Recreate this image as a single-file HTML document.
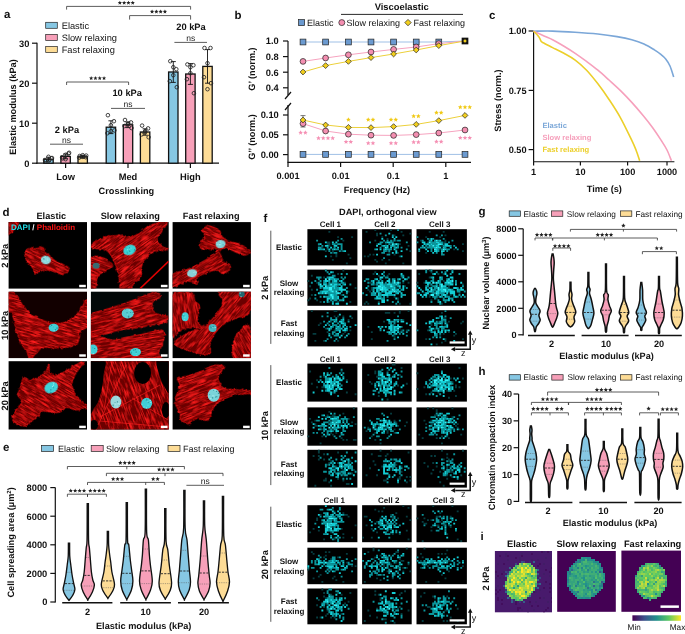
<!DOCTYPE html>
<html><head><meta charset="utf-8"><style>
html,body{margin:0;padding:0;background:#fff;overflow:hidden}
svg{display:block;font-family:"Liberation Sans", sans-serif;will-change:transform;text-rendering:geometricPrecision}
</style></head><body>
<svg width="685" height="634" viewBox="0 0 685 634">
<text x="4" y="17.58" font-size="11.5" font-weight="bold" text-anchor="start" fill="#111">a</text>
<rect x="45.7" y="22.3" width="11.6" height="6" fill="#86c7e3" stroke="#222" stroke-width="0.7"/>
<text x="61.7" y="28.6" font-size="9.3" font-weight="normal" text-anchor="start" fill="#111">Elastic</text>
<rect x="45.7" y="34.4" width="11.6" height="6" fill="#f7a0b9" stroke="#222" stroke-width="0.7"/>
<text x="61.7" y="40.7" font-size="9.3" font-weight="normal" text-anchor="start" fill="#111">Slow relaxing</text>
<rect x="45.7" y="46.5" width="11.6" height="6" fill="#fddc96" stroke="#222" stroke-width="0.7"/>
<text x="61.7" y="52.8" font-size="9.3" font-weight="normal" text-anchor="start" fill="#111">Fast relaxing</text>
<line x1="37" y1="42.7" x2="37" y2="163.8" stroke="#111" stroke-width="1.2"/>
<line x1="32" y1="163.2" x2="37" y2="163.2" stroke="#111" stroke-width="1.2"/>
<text x="29.4" y="166.5" font-size="9.3" font-weight="bold" text-anchor="end" fill="#111">0</text>
<line x1="32" y1="123.2" x2="37" y2="123.2" stroke="#111" stroke-width="1.2"/>
<text x="29.4" y="126.5" font-size="9.3" font-weight="bold" text-anchor="end" fill="#111">10</text>
<line x1="32" y1="83.2" x2="37" y2="83.2" stroke="#111" stroke-width="1.2"/>
<text x="29.4" y="86.5" font-size="9.3" font-weight="bold" text-anchor="end" fill="#111">20</text>
<line x1="32" y1="43.2" x2="37" y2="43.2" stroke="#111" stroke-width="1.2"/>
<text x="29.4" y="46.5" font-size="9.3" font-weight="bold" text-anchor="end" fill="#111">30</text>
<line x1="36.4" y1="163.2" x2="219" y2="163.2" stroke="#111" stroke-width="1.2"/>
<line x1="65.6" y1="163.2" x2="65.6" y2="168" stroke="#111" stroke-width="1.2"/>
<text x="65.6" y="179.9" font-size="9.3" font-weight="bold" text-anchor="middle" fill="#111">Low</text>
<line x1="128" y1="163.2" x2="128" y2="168" stroke="#111" stroke-width="1.2"/>
<text x="128" y="179.9" font-size="9.3" font-weight="bold" text-anchor="middle" fill="#111">Med</text>
<line x1="190.4" y1="163.2" x2="190.4" y2="168" stroke="#111" stroke-width="1.2"/>
<text x="190.4" y="179.9" font-size="9.3" font-weight="bold" text-anchor="middle" fill="#111">High</text>
<text x="126.4" y="194.27" font-size="9.2" font-weight="bold" text-anchor="middle" fill="#111">Crosslinking</text>
<text x="12.4" y="110.27" font-size="9.2" font-weight="bold" text-anchor="middle" fill="#111" transform="rotate(-90 12.4 107)">Elastic modulus (kPa)</text>
<rect x="43.8" y="159.2" width="9.4" height="4" fill="#86c7e3" stroke="#111" stroke-width="1.3"/>
<line x1="48.5" y1="157.2" x2="48.5" y2="161.2" stroke="#111" stroke-width="0.9"/>
<line x1="46" y1="157.2" x2="51" y2="157.2" stroke="#111" stroke-width="0.9"/>
<line x1="46" y1="161.2" x2="51" y2="161.2" stroke="#111" stroke-width="0.9"/>
<circle cx="45.5" cy="161.2" r="1.8" fill="none" stroke="#222" stroke-width="0.85"/>
<circle cx="51.5" cy="158.4" r="1.8" fill="none" stroke="#222" stroke-width="0.85"/>
<circle cx="48.5" cy="156.8" r="1.8" fill="none" stroke="#222" stroke-width="0.85"/>
<circle cx="45" cy="160" r="1.8" fill="none" stroke="#222" stroke-width="0.85"/>
<circle cx="52" cy="158" r="1.8" fill="none" stroke="#222" stroke-width="0.85"/>
<circle cx="48.5" cy="160.8" r="1.8" fill="none" stroke="#222" stroke-width="0.85"/>
<rect x="60.9" y="156.4" width="9.4" height="6.8" fill="#f7a0b9" stroke="#111" stroke-width="1.3"/>
<line x1="65.6" y1="154" x2="65.6" y2="158.8" stroke="#111" stroke-width="0.9"/>
<line x1="63.1" y1="154" x2="68.1" y2="154" stroke="#111" stroke-width="0.9"/>
<line x1="63.1" y1="158.8" x2="68.1" y2="158.8" stroke="#111" stroke-width="0.9"/>
<circle cx="62.6" cy="158.4" r="1.8" fill="none" stroke="#222" stroke-width="0.85"/>
<circle cx="68.6" cy="153.6" r="1.8" fill="none" stroke="#222" stroke-width="0.85"/>
<circle cx="65.6" cy="154.8" r="1.8" fill="none" stroke="#222" stroke-width="0.85"/>
<circle cx="62.1" cy="157.2" r="1.8" fill="none" stroke="#222" stroke-width="0.85"/>
<circle cx="69.1" cy="152.8" r="1.8" fill="none" stroke="#222" stroke-width="0.85"/>
<circle cx="65.6" cy="159.2" r="1.8" fill="none" stroke="#222" stroke-width="0.85"/>
<rect x="78" y="156.8" width="9.4" height="6.4" fill="#fddc96" stroke="#111" stroke-width="1.3"/>
<line x1="82.7" y1="155.6" x2="82.7" y2="158" stroke="#111" stroke-width="0.9"/>
<line x1="80.2" y1="155.6" x2="85.2" y2="155.6" stroke="#111" stroke-width="0.9"/>
<line x1="80.2" y1="158" x2="85.2" y2="158" stroke="#111" stroke-width="0.9"/>
<circle cx="79.7" cy="156" r="1.8" fill="none" stroke="#222" stroke-width="0.85"/>
<circle cx="85.7" cy="157.2" r="1.8" fill="none" stroke="#222" stroke-width="0.85"/>
<circle cx="82.7" cy="155.2" r="1.8" fill="none" stroke="#222" stroke-width="0.85"/>
<circle cx="79.2" cy="157.6" r="1.8" fill="none" stroke="#222" stroke-width="0.85"/>
<circle cx="86.2" cy="155.6" r="1.8" fill="none" stroke="#222" stroke-width="0.85"/>
<circle cx="82.7" cy="156.8" r="1.8" fill="none" stroke="#222" stroke-width="0.85"/>
<rect x="106.2" y="127.2" width="9.4" height="36" fill="#86c7e3" stroke="#111" stroke-width="1.3"/>
<line x1="110.9" y1="120.8" x2="110.9" y2="133.6" stroke="#111" stroke-width="0.9"/>
<line x1="108.4" y1="120.8" x2="113.4" y2="120.8" stroke="#111" stroke-width="0.9"/>
<line x1="108.4" y1="133.6" x2="113.4" y2="133.6" stroke="#111" stroke-width="0.9"/>
<circle cx="107.9" cy="115.2" r="1.8" fill="none" stroke="#222" stroke-width="0.85"/>
<circle cx="113.9" cy="121.2" r="1.8" fill="none" stroke="#222" stroke-width="0.85"/>
<circle cx="110.9" cy="125.2" r="1.8" fill="none" stroke="#222" stroke-width="0.85"/>
<circle cx="107.4" cy="133.2" r="1.8" fill="none" stroke="#222" stroke-width="0.85"/>
<circle cx="114.4" cy="130.4" r="1.8" fill="none" stroke="#222" stroke-width="0.85"/>
<circle cx="110.9" cy="131.2" r="1.8" fill="none" stroke="#222" stroke-width="0.85"/>
<rect x="123.3" y="124.8" width="9.4" height="38.4" fill="#f7a0b9" stroke="#111" stroke-width="1.3"/>
<line x1="128" y1="122" x2="128" y2="127.6" stroke="#111" stroke-width="0.9"/>
<line x1="125.5" y1="122" x2="130.5" y2="122" stroke="#111" stroke-width="0.9"/>
<line x1="125.5" y1="127.6" x2="130.5" y2="127.6" stroke="#111" stroke-width="0.9"/>
<circle cx="125" cy="120" r="1.8" fill="none" stroke="#222" stroke-width="0.85"/>
<circle cx="131" cy="122.4" r="1.8" fill="none" stroke="#222" stroke-width="0.85"/>
<circle cx="128" cy="123.6" r="1.8" fill="none" stroke="#222" stroke-width="0.85"/>
<circle cx="124.5" cy="126" r="1.8" fill="none" stroke="#222" stroke-width="0.85"/>
<circle cx="131.5" cy="128" r="1.8" fill="none" stroke="#222" stroke-width="0.85"/>
<circle cx="128" cy="124.4" r="1.8" fill="none" stroke="#222" stroke-width="0.85"/>
<rect x="140.4" y="132" width="9.4" height="31.2" fill="#fddc96" stroke="#111" stroke-width="1.3"/>
<line x1="145.1" y1="128.8" x2="145.1" y2="135.2" stroke="#111" stroke-width="0.9"/>
<line x1="142.6" y1="128.8" x2="147.6" y2="128.8" stroke="#111" stroke-width="0.9"/>
<line x1="142.6" y1="135.2" x2="147.6" y2="135.2" stroke="#111" stroke-width="0.9"/>
<circle cx="142.1" cy="125.6" r="1.8" fill="none" stroke="#222" stroke-width="0.85"/>
<circle cx="148.1" cy="128.4" r="1.8" fill="none" stroke="#222" stroke-width="0.85"/>
<circle cx="145.1" cy="131.2" r="1.8" fill="none" stroke="#222" stroke-width="0.85"/>
<circle cx="141.6" cy="134.4" r="1.8" fill="none" stroke="#222" stroke-width="0.85"/>
<circle cx="148.6" cy="137.2" r="1.8" fill="none" stroke="#222" stroke-width="0.85"/>
<circle cx="145.1" cy="132.4" r="1.8" fill="none" stroke="#222" stroke-width="0.85"/>
<rect x="168.6" y="72" width="9.4" height="91.2" fill="#86c7e3" stroke="#111" stroke-width="1.3"/>
<line x1="173.3" y1="61.6" x2="173.3" y2="82.4" stroke="#111" stroke-width="0.9"/>
<line x1="170.8" y1="61.6" x2="175.8" y2="61.6" stroke="#111" stroke-width="0.9"/>
<line x1="170.8" y1="82.4" x2="175.8" y2="82.4" stroke="#111" stroke-width="0.9"/>
<circle cx="170.3" cy="61.2" r="1.8" fill="none" stroke="#222" stroke-width="0.85"/>
<circle cx="176.3" cy="69.2" r="1.8" fill="none" stroke="#222" stroke-width="0.85"/>
<circle cx="173.3" cy="75.2" r="1.8" fill="none" stroke="#222" stroke-width="0.85"/>
<circle cx="169.8" cy="81.2" r="1.8" fill="none" stroke="#222" stroke-width="0.85"/>
<circle cx="176.8" cy="87.2" r="1.8" fill="none" stroke="#222" stroke-width="0.85"/>
<circle cx="173.3" cy="67.2" r="1.8" fill="none" stroke="#222" stroke-width="0.85"/>
<rect x="185.7" y="74" width="9.4" height="89.2" fill="#f7a0b9" stroke="#111" stroke-width="1.3"/>
<line x1="190.4" y1="63.6" x2="190.4" y2="84.4" stroke="#111" stroke-width="0.9"/>
<line x1="187.9" y1="63.6" x2="192.9" y2="63.6" stroke="#111" stroke-width="0.9"/>
<line x1="187.9" y1="84.4" x2="192.9" y2="84.4" stroke="#111" stroke-width="0.9"/>
<circle cx="187.4" cy="64.4" r="1.8" fill="none" stroke="#222" stroke-width="0.85"/>
<circle cx="193.4" cy="65.2" r="1.8" fill="none" stroke="#222" stroke-width="0.85"/>
<circle cx="190.4" cy="73.2" r="1.8" fill="none" stroke="#222" stroke-width="0.85"/>
<circle cx="186.9" cy="79.2" r="1.8" fill="none" stroke="#222" stroke-width="0.85"/>
<circle cx="193.9" cy="93.2" r="1.8" fill="none" stroke="#222" stroke-width="0.85"/>
<circle cx="190.4" cy="67.2" r="1.8" fill="none" stroke="#222" stroke-width="0.85"/>
<rect x="202.8" y="66.4" width="9.4" height="96.8" fill="#fddc96" stroke="#111" stroke-width="1.3"/>
<line x1="207.5" y1="49.6" x2="207.5" y2="83.2" stroke="#111" stroke-width="0.9"/>
<line x1="205" y1="49.6" x2="210" y2="49.6" stroke="#111" stroke-width="0.9"/>
<line x1="205" y1="83.2" x2="210" y2="83.2" stroke="#111" stroke-width="0.9"/>
<circle cx="204.5" cy="48" r="1.8" fill="none" stroke="#222" stroke-width="0.85"/>
<circle cx="210.5" cy="48" r="1.8" fill="none" stroke="#222" stroke-width="0.85"/>
<circle cx="207.5" cy="63.2" r="1.8" fill="none" stroke="#222" stroke-width="0.85"/>
<circle cx="204" cy="77.2" r="1.8" fill="none" stroke="#222" stroke-width="0.85"/>
<circle cx="211" cy="83.2" r="1.8" fill="none" stroke="#222" stroke-width="0.85"/>
<circle cx="207.5" cy="89.2" r="1.8" fill="none" stroke="#222" stroke-width="0.85"/>
<text x="67" y="132.7" font-size="9.3" font-weight="bold" text-anchor="middle" fill="#111">2 kPa</text>
<text x="127.2" y="95.7" font-size="9.3" font-weight="bold" text-anchor="middle" fill="#111">10 kPa</text>
<text x="191" y="30.3" font-size="9.3" font-weight="bold" text-anchor="middle" fill="#111">20 kPa</text>
<line x1="50" y1="144.2" x2="83" y2="144.2" stroke="#333" stroke-width="0.8"/>
<text x="66.5" y="143.22" font-size="8.5" font-weight="normal" text-anchor="middle" fill="#222">ns</text>
<line x1="111" y1="108.4" x2="145" y2="108.4" stroke="#333" stroke-width="0.8"/>
<text x="128" y="107.42" font-size="8.5" font-weight="normal" text-anchor="middle" fill="#222">ns</text>
<line x1="174.4" y1="42.4" x2="207" y2="42.4" stroke="#333" stroke-width="0.8"/>
<text x="190.7" y="41.42" font-size="8.5" font-weight="normal" text-anchor="middle" fill="#222">ns</text>
<path d="M66.6 9.6V6.4H190.6V9.6" fill="none" stroke="#333" stroke-width="0.8"/>
<path d="M119.86 0.63L120.45 2.04L121.98 2.16L120.81 3.16L121.17 4.65L119.86 3.85L118.56 4.65L118.91 3.16L117.75 2.16L119.28 2.04ZM124.15 0.63L124.74 2.04L126.27 2.16L125.11 3.16L125.46 4.65L124.15 3.85L122.85 4.65L123.2 3.16L122.04 2.16L123.57 2.04ZM128.45 0.63L129.03 2.04L130.56 2.16L129.4 3.16L129.75 4.65L128.45 3.85L127.14 4.65L127.49 3.16L126.33 2.16L127.86 2.04ZM132.74 0.63L133.32 2.04L134.85 2.16L133.69 3.16L134.04 4.65L132.74 3.85L131.43 4.65L131.79 3.16L130.62 2.16L132.15 2.04Z" fill="#222"/>
<path d="M129.6 19.6V15.6H190.6V19.6" fill="none" stroke="#333" stroke-width="0.8"/>
<path d="M152.06 9.43L152.65 10.84L154.18 10.96L153.01 11.96L153.37 13.45L152.06 12.65L150.76 13.45L151.11 11.96L149.95 10.96L151.48 10.84ZM156.35 9.43L156.94 10.84L158.47 10.96L157.31 11.96L157.66 13.45L156.35 12.65L155.05 13.45L155.4 11.96L154.24 10.96L155.77 10.84ZM160.65 9.43L161.23 10.84L162.76 10.96L161.6 11.96L161.95 13.45L160.65 12.65L159.34 13.45L159.69 11.96L158.53 10.96L160.06 10.84ZM164.94 9.43L165.52 10.84L167.05 10.96L165.89 11.96L166.24 13.45L164.94 12.65L163.63 13.45L163.99 11.96L162.82 10.96L164.35 10.84Z" fill="#222"/>
<path d="M66.6 85V82H128.6V85" fill="none" stroke="#333" stroke-width="0.8"/>
<path d="M91.16 76.03L91.75 77.44L93.28 77.56L92.11 78.56L92.47 80.05L91.16 79.25L89.86 80.05L90.21 78.56L89.05 77.56L90.58 77.44ZM95.45 76.03L96.04 77.44L97.57 77.56L96.41 78.56L96.76 80.05L95.45 79.25L94.15 80.05L94.5 78.56L93.34 77.56L94.87 77.44ZM99.75 76.03L100.33 77.44L101.86 77.56L100.7 78.56L101.05 80.05L99.75 79.25L98.44 80.05L98.79 78.56L97.63 77.56L99.16 77.44ZM104.04 76.03L104.62 77.44L106.15 77.56L104.99 78.56L105.34 80.05L104.04 79.25L102.73 80.05L103.09 78.56L101.92 77.56L103.45 77.44Z" fill="#222"/>
<text x="234.4" y="19.18" font-size="11.5" font-weight="bold" text-anchor="start" fill="#111">b</text>
<text x="401.7" y="9.84" font-size="9.4" font-weight="bold" text-anchor="middle" fill="#111">Viscoelastic</text>
<line x1="341" y1="14.4" x2="463" y2="14.4" stroke="#111" stroke-width="0.9"/>
<rect x="298.6" y="19.6" width="6" height="6" fill="#6b9ad0" stroke="#222" stroke-width="0.7"/>
<text x="307" y="25.8" font-size="9" font-weight="normal" text-anchor="start" fill="#111">Elastic</text>
<circle cx="341.8" cy="22.6" r="3" fill="#f48fb1" stroke="#222" stroke-width="0.7"/>
<text x="346.6" y="25.8" font-size="9" font-weight="normal" text-anchor="start" fill="#111">Slow relaxing</text>
<path d="M408 19.4L411.2 22.6L408 25.8L404.8 22.6Z" fill="#f2cf1d" stroke="#222" stroke-width="0.7"/>
<text x="413.6" y="25.8" font-size="9" font-weight="normal" text-anchor="start" fill="#111">Fast relaxing</text>
<line x1="288" y1="41" x2="288" y2="95" stroke="#111" stroke-width="1.2"/>
<line x1="283" y1="41" x2="288" y2="41" stroke="#111" stroke-width="1.2"/>
<text x="278.8" y="44.3" font-size="9.3" font-weight="bold" text-anchor="end" fill="#111">1.0</text>
<line x1="283" y1="56.6" x2="288" y2="56.6" stroke="#111" stroke-width="1.2"/>
<text x="278.8" y="59.9" font-size="9.3" font-weight="bold" text-anchor="end" fill="#111">0.8</text>
<line x1="283" y1="72.2" x2="288" y2="72.2" stroke="#111" stroke-width="1.2"/>
<text x="278.8" y="75.5" font-size="9.3" font-weight="bold" text-anchor="end" fill="#111">0.6</text>
<line x1="283" y1="87.8" x2="288" y2="87.8" stroke="#111" stroke-width="1.2"/>
<text x="278.8" y="91.1" font-size="9.3" font-weight="bold" text-anchor="end" fill="#111">0.4</text>
<line x1="285" y1="99" x2="291" y2="92" stroke="#111" stroke-width="1.2"/>
<line x1="285" y1="110" x2="291" y2="103" stroke="#111" stroke-width="1.2"/>
<line x1="288" y1="105" x2="288" y2="162.4" stroke="#111" stroke-width="1.2"/>
<line x1="283" y1="115" x2="288" y2="115" stroke="#111" stroke-width="1.2"/>
<text x="278.8" y="118.3" font-size="9.3" font-weight="bold" text-anchor="end" fill="#111">0.10</text>
<line x1="283" y1="134.8" x2="288" y2="134.8" stroke="#111" stroke-width="1.2"/>
<text x="278.8" y="138.1" font-size="9.3" font-weight="bold" text-anchor="end" fill="#111">0.05</text>
<line x1="283" y1="154.6" x2="288" y2="154.6" stroke="#111" stroke-width="1.2"/>
<text x="278.8" y="157.9" font-size="9.3" font-weight="bold" text-anchor="end" fill="#111">0.00</text>
<line x1="287.4" y1="162.4" x2="471" y2="162.4" stroke="#111" stroke-width="1.2"/>
<line x1="288" y1="162.4" x2="288" y2="167" stroke="#111" stroke-width="1.2"/>
<text x="288" y="179.27" font-size="9.2" font-weight="bold" text-anchor="middle" fill="#111">0.001</text>
<line x1="340.6" y1="162.4" x2="340.6" y2="167" stroke="#111" stroke-width="1.2"/>
<text x="340.6" y="179.27" font-size="9.2" font-weight="bold" text-anchor="middle" fill="#111">0.01</text>
<line x1="393.2" y1="162.4" x2="393.2" y2="167" stroke="#111" stroke-width="1.2"/>
<text x="393.2" y="179.27" font-size="9.2" font-weight="bold" text-anchor="middle" fill="#111">0.1</text>
<line x1="445.8" y1="162.4" x2="445.8" y2="167" stroke="#111" stroke-width="1.2"/>
<text x="445.8" y="179.27" font-size="9.2" font-weight="bold" text-anchor="middle" fill="#111">1</text>
<text x="377" y="193.27" font-size="9.2" font-weight="bold" text-anchor="middle" fill="#111">Frequency (Hz)</text>
<text x="252" y="72.27" font-size="9.2" font-weight="bold" text-anchor="middle" fill="#111" transform="rotate(-90 252 69)">G&#8217; (norm.)</text>
<text x="252" y="140.27" font-size="9.2" font-weight="bold" text-anchor="middle" fill="#111" transform="rotate(-90 252 137)">G&#8217;&#8217; (norm.)</text>
<path d="M303 42 L325.6 42 L348.4 42 L371 42 L393.6 42 L416.2 42 L438.8 42 L465 41" fill="none" stroke="#9fc0e6" stroke-width="1"/>
<path d="M303 61.4 L325.6 58 L348.4 54.8 L371 52 L393.6 49.4 L416.2 47 L438.8 43.6 L465 41" fill="none" stroke="#f6a3bf" stroke-width="1"/>
<path d="M303 72 L325.6 65.6 L348.4 61.4 L371 57.6 L393.6 54 L416.2 50 L438.8 45.6 L465 41" fill="none" stroke="#ecd03a" stroke-width="1"/>
<path d="M303 154.4 L325.6 154.4 L348.4 154.4 L371 154.4 L393.6 154.4 L416.2 154.4 L438.8 154.4 L465 154.4" fill="none" stroke="#9fc0e6" stroke-width="1"/>
<path d="M303 123.6 L325.6 131 L348.4 134.2 L371 135.2 L393.6 135.4 L416.2 134.6 L438.8 133 L465 130" fill="none" stroke="#f6a3bf" stroke-width="1"/>
<path d="M303 120 L325.6 125 L348.4 127.4 L371 127.6 L393.6 126.6 L416.2 124.4 L438.8 120.6 L465 115.4" fill="none" stroke="#ecd03a" stroke-width="1"/>
<line x1="303" y1="115.6" x2="303" y2="127" stroke="#555" stroke-width="0.8"/>
<line x1="300.5" y1="115.6" x2="305.5" y2="115.6" stroke="#555" stroke-width="0.8"/>
<line x1="300.5" y1="127" x2="305.5" y2="127" stroke="#555" stroke-width="0.8"/>
<rect x="300.1" y="39.1" width="5.8" height="5.8" fill="#6b9ad0" stroke="#222" stroke-width="0.7"/>
<circle cx="303" cy="61.4" r="2.9" fill="#f48fb1" stroke="#222" stroke-width="0.7"/>
<path d="M303 69.1L305.9 72L303 74.9L300.1 72Z" fill="#f2cf1d" stroke="#222" stroke-width="0.7"/>
<rect x="300.1" y="151.5" width="5.8" height="5.8" fill="#6b9ad0" stroke="#222" stroke-width="0.7"/>
<circle cx="303" cy="123.6" r="2.9" fill="#f48fb1" stroke="#222" stroke-width="0.7"/>
<path d="M303 117.1L305.9 120L303 122.9L300.1 120Z" fill="#f2cf1d" stroke="#222" stroke-width="0.7"/>
<rect x="322.7" y="39.1" width="5.8" height="5.8" fill="#6b9ad0" stroke="#222" stroke-width="0.7"/>
<circle cx="325.6" cy="58" r="2.9" fill="#f48fb1" stroke="#222" stroke-width="0.7"/>
<path d="M325.6 62.7L328.5 65.6L325.6 68.5L322.7 65.6Z" fill="#f2cf1d" stroke="#222" stroke-width="0.7"/>
<rect x="322.7" y="151.5" width="5.8" height="5.8" fill="#6b9ad0" stroke="#222" stroke-width="0.7"/>
<circle cx="325.6" cy="131" r="2.9" fill="#f48fb1" stroke="#222" stroke-width="0.7"/>
<path d="M325.6 122.1L328.5 125L325.6 127.9L322.7 125Z" fill="#f2cf1d" stroke="#222" stroke-width="0.7"/>
<rect x="345.5" y="39.1" width="5.8" height="5.8" fill="#6b9ad0" stroke="#222" stroke-width="0.7"/>
<circle cx="348.4" cy="54.8" r="2.9" fill="#f48fb1" stroke="#222" stroke-width="0.7"/>
<path d="M348.4 58.5L351.3 61.4L348.4 64.3L345.5 61.4Z" fill="#f2cf1d" stroke="#222" stroke-width="0.7"/>
<rect x="345.5" y="151.5" width="5.8" height="5.8" fill="#6b9ad0" stroke="#222" stroke-width="0.7"/>
<circle cx="348.4" cy="134.2" r="2.9" fill="#f48fb1" stroke="#222" stroke-width="0.7"/>
<path d="M348.4 124.5L351.3 127.4L348.4 130.3L345.5 127.4Z" fill="#f2cf1d" stroke="#222" stroke-width="0.7"/>
<rect x="368.1" y="39.1" width="5.8" height="5.8" fill="#6b9ad0" stroke="#222" stroke-width="0.7"/>
<circle cx="371" cy="52" r="2.9" fill="#f48fb1" stroke="#222" stroke-width="0.7"/>
<path d="M371 54.7L373.9 57.6L371 60.5L368.1 57.6Z" fill="#f2cf1d" stroke="#222" stroke-width="0.7"/>
<rect x="368.1" y="151.5" width="5.8" height="5.8" fill="#6b9ad0" stroke="#222" stroke-width="0.7"/>
<circle cx="371" cy="135.2" r="2.9" fill="#f48fb1" stroke="#222" stroke-width="0.7"/>
<path d="M371 124.7L373.9 127.6L371 130.5L368.1 127.6Z" fill="#f2cf1d" stroke="#222" stroke-width="0.7"/>
<rect x="390.7" y="39.1" width="5.8" height="5.8" fill="#6b9ad0" stroke="#222" stroke-width="0.7"/>
<circle cx="393.6" cy="49.4" r="2.9" fill="#f48fb1" stroke="#222" stroke-width="0.7"/>
<path d="M393.6 51.1L396.5 54L393.6 56.9L390.7 54Z" fill="#f2cf1d" stroke="#222" stroke-width="0.7"/>
<rect x="390.7" y="151.5" width="5.8" height="5.8" fill="#6b9ad0" stroke="#222" stroke-width="0.7"/>
<circle cx="393.6" cy="135.4" r="2.9" fill="#f48fb1" stroke="#222" stroke-width="0.7"/>
<path d="M393.6 123.7L396.5 126.6L393.6 129.5L390.7 126.6Z" fill="#f2cf1d" stroke="#222" stroke-width="0.7"/>
<rect x="413.3" y="39.1" width="5.8" height="5.8" fill="#6b9ad0" stroke="#222" stroke-width="0.7"/>
<circle cx="416.2" cy="47" r="2.9" fill="#f48fb1" stroke="#222" stroke-width="0.7"/>
<path d="M416.2 47.1L419.1 50L416.2 52.9L413.3 50Z" fill="#f2cf1d" stroke="#222" stroke-width="0.7"/>
<rect x="413.3" y="151.5" width="5.8" height="5.8" fill="#6b9ad0" stroke="#222" stroke-width="0.7"/>
<circle cx="416.2" cy="134.6" r="2.9" fill="#f48fb1" stroke="#222" stroke-width="0.7"/>
<path d="M416.2 121.5L419.1 124.4L416.2 127.3L413.3 124.4Z" fill="#f2cf1d" stroke="#222" stroke-width="0.7"/>
<rect x="435.9" y="39.1" width="5.8" height="5.8" fill="#6b9ad0" stroke="#222" stroke-width="0.7"/>
<circle cx="438.8" cy="43.6" r="2.9" fill="#f48fb1" stroke="#222" stroke-width="0.7"/>
<path d="M438.8 42.7L441.7 45.6L438.8 48.5L435.9 45.6Z" fill="#f2cf1d" stroke="#222" stroke-width="0.7"/>
<rect x="435.9" y="151.5" width="5.8" height="5.8" fill="#6b9ad0" stroke="#222" stroke-width="0.7"/>
<circle cx="438.8" cy="133" r="2.9" fill="#f48fb1" stroke="#222" stroke-width="0.7"/>
<path d="M438.8 117.7L441.7 120.6L438.8 123.5L435.9 120.6Z" fill="#f2cf1d" stroke="#222" stroke-width="0.7"/>
<rect x="462" y="38" width="6" height="6" fill="#111" stroke="#111" stroke-width="0.7"/>
<path d="M465 38.8L467.2 41L465 43.2L462.8 41Z" fill="#f2cf1d" stroke="#222" stroke-width="0.7"/>
<rect x="462.1" y="151.5" width="5.8" height="5.8" fill="#6b9ad0" stroke="#222" stroke-width="0.7"/>
<circle cx="465" cy="130" r="2.9" fill="#f48fb1" stroke="#222" stroke-width="0.7"/>
<path d="M465 112.5L467.9 115.4L465 118.3L462.1 115.4Z" fill="#f2cf1d" stroke="#222" stroke-width="0.7"/>
<path d="M348.4 117.2L349.05 118.76L350.73 118.89L349.45 119.99L349.84 121.63L348.4 120.75L346.96 121.63L347.35 119.99L346.07 118.89L347.75 118.76Z" fill="#f0c915"/>
<path d="M368.23 117.2L368.88 118.76L370.57 118.89L369.28 119.99L369.67 121.63L368.23 120.75L366.79 121.63L367.18 119.99L365.9 118.89L367.58 118.76ZM372.97 117.2L373.62 118.76L375.3 118.89L374.02 119.99L374.41 121.63L372.97 120.75L371.53 121.63L371.92 119.99L370.63 118.89L372.32 118.76Z" fill="#f0c915"/>
<path d="M391.03 117.2L391.68 118.76L393.37 118.89L392.08 119.99L392.47 121.63L391.03 120.75L389.59 121.63L389.98 119.99L388.7 118.89L390.38 118.76ZM395.77 117.2L396.42 118.76L398.1 118.89L396.82 119.99L397.21 121.63L395.77 120.75L394.33 121.63L394.72 119.99L393.43 118.89L395.12 118.76Z" fill="#f0c915"/>
<path d="M413.63 113.8L414.28 115.36L415.97 115.49L414.68 116.59L415.07 118.23L413.63 117.35L412.19 118.23L412.58 116.59L411.3 115.49L412.98 115.36ZM418.37 113.8L419.02 115.36L420.7 115.49L419.42 116.59L419.81 118.23L418.37 117.35L416.93 118.23L417.32 116.59L416.03 115.49L417.72 115.36Z" fill="#f0c915"/>
<path d="M436.43 110.2L437.08 111.76L438.77 111.89L437.48 112.99L437.87 114.63L436.43 113.75L434.99 114.63L435.38 112.99L434.1 111.89L435.78 111.76ZM441.17 110.2L441.82 111.76L443.5 111.89L442.22 112.99L442.61 114.63L441.17 113.75L439.73 114.63L440.12 112.99L438.83 111.89L440.52 111.76Z" fill="#f0c915"/>
<path d="M460.27 104.8L460.91 106.36L462.6 106.49L461.32 107.59L461.71 109.23L460.27 108.35L458.82 109.23L459.22 107.59L457.93 106.49L459.62 106.36ZM465 104.8L465.65 106.36L467.33 106.49L466.05 107.59L466.44 109.23L465 108.35L463.56 109.23L463.95 107.59L462.67 106.49L464.35 106.36ZM469.73 104.8L470.38 106.36L472.07 106.49L470.78 107.59L471.18 109.23L469.73 108.35L468.29 109.23L468.68 107.59L467.4 106.49L469.09 106.36Z" fill="#f0c915"/>
<path d="M300.63 130.2L301.28 131.76L302.97 131.89L301.68 132.99L302.07 134.63L300.63 133.75L299.19 134.63L299.58 132.99L298.3 131.89L299.98 131.76ZM305.37 130.2L306.02 131.76L307.7 131.89L306.42 132.99L306.81 134.63L305.37 133.75L303.93 134.63L304.32 132.99L303.03 131.89L304.72 131.76Z" fill="#f590b4"/>
<path d="M318.5 135.8L319.15 137.36L320.83 137.49L319.55 138.59L319.94 140.23L318.5 139.35L317.06 140.23L317.45 138.59L316.16 137.49L317.85 137.36ZM323.23 135.8L323.88 137.36L325.57 137.49L324.28 138.59L324.67 140.23L323.23 139.35L321.79 140.23L322.18 138.59L320.9 137.49L322.58 137.36ZM327.97 135.8L328.62 137.36L330.3 137.49L329.02 138.59L329.41 140.23L327.97 139.35L326.53 140.23L326.92 138.59L325.63 137.49L327.32 137.36ZM332.7 135.8L333.35 137.36L335.04 137.49L333.75 138.59L334.14 140.23L332.7 139.35L331.26 140.23L331.65 138.59L330.37 137.49L332.05 137.36Z" fill="#f590b4"/>
<path d="M346.03 139.4L346.68 140.96L348.37 141.09L347.08 142.19L347.47 143.83L346.03 142.95L344.59 143.83L344.98 142.19L343.7 141.09L345.38 140.96ZM350.77 139.4L351.42 140.96L353.1 141.09L351.82 142.19L352.21 143.83L350.77 142.95L349.33 143.83L349.72 142.19L348.43 141.09L350.12 140.96Z" fill="#f590b4"/>
<path d="M368.23 140.8L368.88 142.36L370.57 142.49L369.28 143.59L369.67 145.23L368.23 144.35L366.79 145.23L367.18 143.59L365.9 142.49L367.58 142.36ZM372.97 140.8L373.62 142.36L375.3 142.49L374.02 143.59L374.41 145.23L372.97 144.35L371.53 145.23L371.92 143.59L370.63 142.49L372.32 142.36Z" fill="#f590b4"/>
<path d="M391.03 140.8L391.68 142.36L393.37 142.49L392.08 143.59L392.47 145.23L391.03 144.35L389.59 145.23L389.98 143.59L388.7 142.49L390.38 142.36ZM395.77 140.8L396.42 142.36L398.1 142.49L396.82 143.59L397.21 145.23L395.77 144.35L394.33 145.23L394.72 143.59L393.43 142.49L395.12 142.36Z" fill="#f590b4"/>
<path d="M413.63 139.8L414.28 141.36L415.97 141.49L414.68 142.59L415.07 144.23L413.63 143.35L412.19 144.23L412.58 142.59L411.3 141.49L412.98 141.36ZM418.37 139.8L419.02 141.36L420.7 141.49L419.42 142.59L419.81 144.23L418.37 143.35L416.93 144.23L417.32 142.59L416.03 141.49L417.72 141.36Z" fill="#f590b4"/>
<path d="M436.43 139.2L437.08 140.76L438.77 140.89L437.48 141.99L437.87 143.63L436.43 142.75L434.99 143.63L435.38 141.99L434.1 140.89L435.78 140.76ZM441.17 139.2L441.82 140.76L443.5 140.89L442.22 141.99L442.61 143.63L441.17 142.75L439.73 143.63L440.12 141.99L438.83 140.89L440.52 140.76Z" fill="#f590b4"/>
<path d="M460.27 135.4L460.91 136.96L462.6 137.09L461.32 138.19L461.71 139.83L460.27 138.95L458.82 139.83L459.22 138.19L457.93 137.09L459.62 136.96ZM465 135.4L465.65 136.96L467.33 137.09L466.05 138.19L466.44 139.83L465 138.95L463.56 139.83L463.95 138.19L462.67 137.09L464.35 136.96ZM469.73 135.4L470.38 136.96L472.07 137.09L470.78 138.19L471.18 139.83L469.73 138.95L468.29 139.83L468.68 138.19L467.4 137.09L469.09 136.96Z" fill="#f590b4"/>
<text x="489" y="19.38" font-size="11.5" font-weight="bold" text-anchor="start" fill="#111">c</text>
<line x1="533.6" y1="31" x2="533.6" y2="161.75" stroke="#111" stroke-width="1.2"/>
<line x1="528.6" y1="31" x2="533.6" y2="31" stroke="#111" stroke-width="1.2"/>
<text x="526.6" y="34.27" font-size="9.2" font-weight="bold" text-anchor="end" fill="#111">1.00</text>
<line x1="528.6" y1="90.4" x2="533.6" y2="90.4" stroke="#111" stroke-width="1.2"/>
<text x="526.6" y="93.67" font-size="9.2" font-weight="bold" text-anchor="end" fill="#111">0.75</text>
<line x1="528.6" y1="149.6" x2="533.6" y2="149.6" stroke="#111" stroke-width="1.2"/>
<text x="526.6" y="152.87" font-size="9.2" font-weight="bold" text-anchor="end" fill="#111">0.50</text>
<line x1="533" y1="161.75" x2="674.4" y2="161.75" stroke="#111" stroke-width="1.2"/>
<line x1="533.6" y1="161.75" x2="533.6" y2="165.5" stroke="#111" stroke-width="1.2"/>
<text x="533.6" y="175.27" font-size="9.2" font-weight="bold" text-anchor="middle" fill="#111">1</text>
<line x1="580.4" y1="161.75" x2="580.4" y2="165.5" stroke="#111" stroke-width="1.2"/>
<text x="580.4" y="175.27" font-size="9.2" font-weight="bold" text-anchor="middle" fill="#111">10</text>
<line x1="627.6" y1="161.75" x2="627.6" y2="165.5" stroke="#111" stroke-width="1.2"/>
<text x="627.6" y="175.27" font-size="9.2" font-weight="bold" text-anchor="middle" fill="#111">100</text>
<line x1="667" y1="161.75" x2="667" y2="165.5" stroke="#111" stroke-width="1.2"/>
<text x="667" y="175.27" font-size="9.2" font-weight="bold" text-anchor="middle" fill="#111">1000</text>
<text x="604.4" y="191.77" font-size="9.2" font-weight="bold" text-anchor="middle" fill="#111">Time (s)</text>
<text x="497.7" y="103.77" font-size="9.2" font-weight="bold" text-anchor="middle" fill="#111" transform="rotate(-90 497.7 100.5)">Stress (norm.)</text>
<text x="542.4" y="127.7" font-size="7.6" font-weight="bold" text-anchor="start" fill="#7ba7d8">Elastic</text>
<text x="542.4" y="140.1" font-size="7.6" font-weight="bold" text-anchor="start" fill="#f6a0bc">Slow relaxing</text>
<text x="542.4" y="152.1" font-size="7.6" font-weight="bold" text-anchor="start" fill="#eccf2a">Fast relaxing</text>
<path d="M533.6 31.2C536.77 31.18 545.7 30.93 552.6 31.1C559.5 31.27 567.45 31.72 575 32.2C582.55 32.68 590.9 33.27 597.9 34C604.9 34.73 611.35 35.65 617 36.6C622.65 37.55 627.3 38.47 631.8 39.7C636.3 40.93 640.23 42.3 644 44C647.77 45.7 651.65 48.2 654.4 49.9C657.15 51.6 658.62 52.7 660.5 54.2C662.38 55.7 664.12 56.93 665.7 58.9C667.28 60.87 668.67 62.98 670 66C671.33 69.02 673.08 75.17 673.7 77" fill="none" stroke="#7ba7d8" stroke-width="1.6"/>
<path d="M533.6 31.2C535.43 32.03 541.43 34.78 544.6 36.2C547.77 37.62 549.37 38.03 552.6 39.7C555.83 41.37 560.23 43.93 564 46.2C567.77 48.47 571.45 50.77 575.2 53.3C578.95 55.83 582.72 58.58 586.5 61.4C590.28 64.22 594.15 67.1 597.9 70.2C601.65 73.3 605.23 76.6 609 80C612.77 83.4 616.67 86.83 620.5 90.6C624.33 94.37 628.23 98.45 632 102.6C635.77 106.75 639.68 111.35 643.1 115.5C646.52 119.65 649.48 123.35 652.5 127.5C655.52 131.65 658.78 136.65 661.2 140.4C663.62 144.15 665.3 146.62 667 150C668.7 153.38 670.67 158.92 671.4 160.7" fill="none" stroke="#f6a0bc" stroke-width="1.6"/>
<path d="M533.6 31.2C534.47 32.12 537.52 34.98 538.8 36.7C540.08 38.42 540.35 40.37 541.3 41.5C542.25 42.63 542.62 42.48 544.5 43.5C546.38 44.52 549.37 45.97 552.6 47.6C555.83 49.23 560.13 51.22 563.9 53.3C567.67 55.38 571.42 57.28 575.2 60.1C578.98 62.92 582.82 66.25 586.6 70.2C590.38 74.15 594.13 78.88 597.9 83.8C601.67 88.72 605.43 94.03 609.2 99.7C612.97 105.37 616.73 111.02 620.5 117.8C624.27 124.58 629.22 135.03 631.8 140.4C634.38 145.77 634.68 146.62 636 150C637.32 153.38 639.08 158.92 639.7 160.7" fill="none" stroke="#eccf2a" stroke-width="1.6"/>
<text x="2.4" y="215.98" font-size="11.5" font-weight="bold" text-anchor="start" fill="#111">d</text>
<text x="51.3" y="218.67" font-size="9.2" font-weight="bold" text-anchor="middle" fill="#111">Elastic</text>
<text x="130.3" y="218.67" font-size="9.2" font-weight="bold" text-anchor="middle" fill="#111">Slow relaxing</text>
<text x="211.2" y="218.67" font-size="9.2" font-weight="bold" text-anchor="middle" fill="#111">Fast relaxing</text>
<text x="4.6" y="259.12" font-size="9.2" font-weight="bold" text-anchor="middle" fill="#111" transform="rotate(-90 4.6 255.85)">2 kPa</text>
<text x="4.6" y="328.67" font-size="9.2" font-weight="bold" text-anchor="middle" fill="#111" transform="rotate(-90 4.6 325.4)">10 kPa</text>
<text x="4.6" y="399.12" font-size="9.2" font-weight="bold" text-anchor="middle" fill="#111" transform="rotate(-90 4.6 395.85)">20 kPa</text>
<defs><filter id="bl" x="-20%" y="-20%" width="140%" height="140%"><feGaussianBlur stdDeviation="0.6"/></filter><filter id="bl2"><feGaussianBlur stdDeviation="1.2"/></filter><filter id="tx" x="-10%" y="-10%" width="120%" height="120%"><feTurbulence type="fractalNoise" baseFrequency="0.3" numOctaves="2" seed="9" result="dn"/><feDisplacementMap in="SourceGraphic" in2="dn" scale="3.2" xChannelSelector="R" yChannelSelector="G" result="sg"/><feTurbulence type="fractalNoise" baseFrequency="0.09 0.7" numOctaves="2" seed="4" result="n"/><feColorMatrix in="n" type="matrix" values="0 0 0 0 0  0 0 0 0 0  0 0 0 0 0  3.0 0 0 0 -1.4" result="na"/><feFlood flood-color="#ff1c1c" result="f"/><feComposite in="f" in2="na" operator="in" result="hn"/><feComposite in="hn" in2="sg" operator="in" result="hc"/><feMerge result="m"><feMergeNode in="sg"/><feMergeNode in="hc"/></feMerge><feGaussianBlur in="m" stdDeviation="0.5"/></filter></defs>
<clipPath id="dc00"><rect x="8.6" y="222.1" width="78.4" height="66.5"/></clipPath>
<rect x="8.6" y="222.1" width="78.4" height="66.5" fill="#000" stroke="none" stroke-width="1"/>
<clipPath id="dc01"><rect x="90.9" y="222.1" width="77.8" height="66.5"/></clipPath>
<rect x="90.9" y="222.1" width="77.8" height="66.5" fill="#000" stroke="none" stroke-width="1"/>
<clipPath id="dc02"><rect x="172.6" y="222.1" width="78.3" height="66.5"/></clipPath>
<rect x="172.6" y="222.1" width="78.3" height="66.5" fill="#000" stroke="none" stroke-width="1"/>
<clipPath id="dc10"><rect x="8.6" y="291.7" width="78.4" height="66.4"/></clipPath>
<rect x="8.6" y="291.7" width="78.4" height="66.4" fill="#120000" stroke="none" stroke-width="1"/>
<clipPath id="dc11"><rect x="90.9" y="291.7" width="77.8" height="66.4"/></clipPath>
<rect x="90.9" y="291.7" width="77.8" height="66.4" fill="#020808" stroke="none" stroke-width="1"/>
<clipPath id="dc12"><rect x="172.6" y="291.7" width="78.3" height="66.4"/></clipPath>
<rect x="172.6" y="291.7" width="78.3" height="66.4" fill="#000" stroke="none" stroke-width="1"/>
<clipPath id="dc20"><rect x="8.6" y="361.2" width="78.4" height="68.3"/></clipPath>
<rect x="8.6" y="361.2" width="78.4" height="68.3" fill="#000" stroke="none" stroke-width="1"/>
<clipPath id="dc21"><rect x="90.9" y="361.2" width="77.8" height="68.3"/></clipPath>
<rect x="90.9" y="361.2" width="77.8" height="68.3" fill="#000" stroke="none" stroke-width="1"/>
<clipPath id="dc22"><rect x="172.6" y="361.2" width="78.3" height="68.3"/></clipPath>
<rect x="172.6" y="361.2" width="78.3" height="68.3" fill="#000" stroke="none" stroke-width="1"/>
<g clip-path="url(#dc00)">
<g transform="rotate(25 45.39 263.11)"><clipPath id="cc1"><path d="M22.76 263.06C22.43 261.38 22.29 258.63 23.46 257.22C24.62 255.81 27.68 255.8 29.74 254.62C31.81 253.44 33.88 250.39 35.82 250.13C37.76 249.87 39.36 252.17 41.37 253.06C43.39 253.94 45.51 254.71 47.89 255.43C50.26 256.14 53.22 257.08 55.62 257.34C58.02 257.6 60.21 256.93 62.29 256.98C64.38 257.04 66.95 256.87 68.14 257.68C69.32 258.49 69.69 260.45 69.41 261.83C69.13 263.21 67.81 265.11 66.48 265.96C65.14 266.8 63.35 266.66 61.4 266.89C59.44 267.12 57.04 266.85 54.76 267.34C52.49 267.83 49.73 268.69 47.76 269.83C45.79 270.97 44.22 273.01 42.95 274.17C41.67 275.34 41.21 276.99 40.1 276.82C38.99 276.66 37.85 274.29 36.31 273.18C34.76 272.08 32.65 271.19 30.84 270.22C29.02 269.24 26.76 268.53 25.42 267.34C24.07 266.15 23.09 264.75 22.76 263.06Z"/></clipPath><path d="M22.76 263.06C22.43 261.38 22.29 258.63 23.46 257.22C24.62 255.81 27.68 255.8 29.74 254.62C31.81 253.44 33.88 250.39 35.82 250.13C37.76 249.87 39.36 252.17 41.37 253.06C43.39 253.94 45.51 254.71 47.89 255.43C50.26 256.14 53.22 257.08 55.62 257.34C58.02 257.6 60.21 256.93 62.29 256.98C64.38 257.04 66.95 256.87 68.14 257.68C69.32 258.49 69.69 260.45 69.41 261.83C69.13 263.21 67.81 265.11 66.48 265.96C65.14 266.8 63.35 266.66 61.4 266.89C59.44 267.12 57.04 266.85 54.76 267.34C52.49 267.83 49.73 268.69 47.76 269.83C45.79 270.97 44.22 273.01 42.95 274.17C41.67 275.34 41.21 276.99 40.1 276.82C38.99 276.66 37.85 274.29 36.31 273.18C34.76 272.08 32.65 271.19 30.84 270.22C29.02 269.24 26.76 268.53 25.42 267.34C24.07 266.15 23.09 264.75 22.76 263.06Z" fill="#6c0000" stroke="#e81010" stroke-width="0.8" filter="url(#tx)"/><path d="M26.68 251.39L61.75 251.57M20.97 253.23L58.01 251.3M36.68 254.52L63.89 253.65M30.98 256.67L69 256.56M29.13 258.52L59.55 259.87M32.89 260.43L61.95 258.91M34.6 261.78L63.85 260.14M32.18 263.76L56.68 264.87M27.87 265.25L56.44 266.28M22.93 267.47L67.94 265.3M30.78 269.82L66.59 269.54M26.37 271.48L62.05 270.99M31.67 273.26L56.55 274.46M31.5 275.44L68.8 277.64M35.23 277.63L62.31 279.14" stroke="#ff2222" stroke-width="0.45" opacity="0.45" fill="none" clip-path="url(#cc1)"/></g>
<g transform="rotate(45 12 228)"><clipPath id="cc2"><path d="M3.51 226.59C3.28 223.52 10.23 218.69 12 218.1C13.77 217.51 13.65 221.16 14.12 223.05C14.59 224.94 14.83 227.53 14.83 229.41C14.83 231.3 14.36 233.19 14.12 234.36C13.89 235.54 15.18 237.78 13.41 236.49C11.65 235.19 3.75 229.65 3.51 226.59Z"/></clipPath><path d="M3.51 226.59C3.28 223.52 10.23 218.69 12 218.1C13.77 217.51 13.65 221.16 14.12 223.05C14.59 224.94 14.83 227.53 14.83 229.41C14.83 231.3 14.36 233.19 14.12 234.36C13.89 235.54 15.18 237.78 13.41 236.49C11.65 235.19 3.75 229.65 3.51 226.59Z" fill="#6c0000" stroke="#e81010" stroke-width="0.8" filter="url(#tx)"/><path d="M6 220.07L13.73 219.8M6.12 221.4L11.49 221.12M3.73 222.43L16.02 222.87M6.22 223.77L16.59 224.11M5.39 225.59L15.04 225.07M4.24 227.82L11.44 228.23M4.75 229.18L16.66 228.58M4.81 230.38L15.99 230.25M3.21 231.34L11.66 231.71M4 233.58L14.02 233.44M4.53 235.45L13.48 235.55M3.84 237.76L12.94 237.77" stroke="#ff2222" stroke-width="0.45" opacity="0.45" fill="none" clip-path="url(#cc2)"/></g>
<clipPath id="nu1"><ellipse cx="45.9" cy="260" rx="5" ry="4.2" transform="rotate(10 45.9 260)"/></clipPath>
<ellipse cx="45.9" cy="260" rx="5" ry="4.2" fill="#8cd6dc" transform="rotate(10 45.9 260)" filter="url(#bl)"/>
<g clip-path="url(#nu1)" opacity="0.7"><path d="M41.1 260.97h1.08v1.08h-1.08zM47.17 259.72h1.11v1.11h-1.11zM47.97 262h0.71v0.71h-0.71zM47.66 263.89h0.85v0.85h-0.85zM46.83 258.49h0.92v0.92h-0.92zM44.59 260.8h0.88v0.88h-0.88zM44 257.67h1.18v1.18h-1.18z" fill="#b8f4f6"/><path d="M43.28 258.33h1.29v1.29h-1.29zM46.38 255.9h0.95v0.95h-0.95zM48.62 256.03h1.04v1.04h-1.04z" fill="#1b7c84"/></g>
</g>
<g clip-path="url(#dc01)">
<g transform="rotate(-35 132.65 251.17)"><clipPath id="cc3"><path d="M102.47 222.88C103.57 222.38 104.76 221.73 107.63 221.97C110.49 222.2 115.68 222.76 119.67 224.3C123.66 225.83 128.19 228.8 131.58 231.17C134.97 233.54 137.04 236.97 139.99 238.52C142.93 240.07 146.08 240.28 149.23 240.48C152.39 240.68 155.61 239.39 158.93 239.7C162.26 240.01 166.06 241.03 169.17 242.35C172.27 243.67 177.6 246.14 177.56 247.62C177.52 249.1 171.99 249.74 168.93 251.22C165.88 252.71 160.78 254.32 159.24 256.52C157.7 258.72 159.02 262.16 159.7 264.41C160.38 266.66 163.77 269.41 163.35 270.01C162.92 270.62 159.61 269.21 157.18 268.01C154.74 266.82 151.57 263.44 148.72 262.83C145.87 262.22 143.16 263.22 140.09 264.35C137.02 265.48 132.77 267.53 130.31 269.59C127.85 271.65 127.59 275.28 125.32 276.72C123.05 278.16 119.56 277.75 116.69 278.24C113.82 278.73 110.71 280.26 108.11 279.68C105.51 279.1 101.37 277.2 101.07 274.75C100.77 272.3 104.82 268.22 106.31 264.99C107.8 261.76 109.06 258.51 110 255.37C110.94 252.22 111.66 249.43 111.96 246.12C112.26 242.81 112.9 238.29 111.81 235.52C110.72 232.74 107.23 231.23 105.43 229.46C103.64 227.7 101.53 226.02 101.04 224.92C100.55 223.83 101.38 223.37 102.47 222.88Z"/></clipPath><path d="M102.47 222.88C103.57 222.38 104.76 221.73 107.63 221.97C110.49 222.2 115.68 222.76 119.67 224.3C123.66 225.83 128.19 228.8 131.58 231.17C134.97 233.54 137.04 236.97 139.99 238.52C142.93 240.07 146.08 240.28 149.23 240.48C152.39 240.68 155.61 239.39 158.93 239.7C162.26 240.01 166.06 241.03 169.17 242.35C172.27 243.67 177.6 246.14 177.56 247.62C177.52 249.1 171.99 249.74 168.93 251.22C165.88 252.71 160.78 254.32 159.24 256.52C157.7 258.72 159.02 262.16 159.7 264.41C160.38 266.66 163.77 269.41 163.35 270.01C162.92 270.62 159.61 269.21 157.18 268.01C154.74 266.82 151.57 263.44 148.72 262.83C145.87 262.22 143.16 263.22 140.09 264.35C137.02 265.48 132.77 267.53 130.31 269.59C127.85 271.65 127.59 275.28 125.32 276.72C123.05 278.16 119.56 277.75 116.69 278.24C113.82 278.73 110.71 280.26 108.11 279.68C105.51 279.1 101.37 277.2 101.07 274.75C100.77 272.3 104.82 268.22 106.31 264.99C107.8 261.76 109.06 258.51 110 255.37C110.94 252.22 111.66 249.43 111.96 246.12C112.26 242.81 112.9 238.29 111.81 235.52C110.72 232.74 107.23 231.23 105.43 229.46C103.64 227.7 101.53 226.02 101.04 224.92C100.55 223.83 101.38 223.37 102.47 222.88Z" fill="#6c0000" stroke="#e81010" stroke-width="0.8" filter="url(#tx)"/><path d="M116.46 223.15L177.02 222.68M119.84 224.53L168.62 223.56M107.44 226.71L163.33 224.5M104.66 228.94L176.54 228.52M119.17 230.64L158.64 229.17M119.19 231.81L163.54 230.63M102.28 233.92L172.28 232.62M107.68 236.01L169.16 234.32M122.02 237.54L175.67 236.96M121 238.45L154.93 240.25M122.18 240L174.02 242.8M115.59 242.02L166.61 244.08M104.72 243.35L177.86 241.96M119.26 245.13L178.44 243.62M122.1 247.39L157.19 248.21M99.37 249.64L160.96 250.21M115.58 250.8L166.46 249.58M114.32 252.32L171.04 255.31M110.95 253.6L160.04 255.73M112.38 255.02L159.18 253.32M122.04 256.18L159.45 257.49M114.73 258.32L158.04 255.76M105.74 259.29L166.4 257.63M118.42 260.83L179.52 260.63M102.15 261.81L177.85 258.42M101.19 264.17L167.03 266.97M107.81 265.54L163.42 264.31M103.81 267.32L171.36 266.2M116.91 268.41L170.07 268.76M108.36 269.43L164.48 267.26M119.03 271.5L164.02 270.86M111.42 273.05L162.02 272.28M110.54 274.58L173.45 276.05M100.83 276.29L168.96 277.88M122.41 277.82L170.22 280M105.58 280.07L167.98 282.25" stroke="#ff2222" stroke-width="0.45" opacity="0.45" fill="none" clip-path="url(#cc3)"/></g>
<g transform="rotate(20 99.37 272.03)"><clipPath id="cc4"><path d="M86.11 262.99C86.4 257.51 93.87 257.7 97.79 257.36C101.71 257.01 108.33 259.19 109.62 260.93C110.91 262.66 107.2 265.14 105.5 267.74C103.81 270.35 100.18 273.1 99.45 276.55C98.72 279.99 101.67 286.11 101.1 288.4C100.53 290.68 98.53 294.48 96.03 290.24C93.53 286.01 85.82 268.47 86.11 262.99Z"/></clipPath><path d="M86.11 262.99C86.4 257.51 93.87 257.7 97.79 257.36C101.71 257.01 108.33 259.19 109.62 260.93C110.91 262.66 107.2 265.14 105.5 267.74C103.81 270.35 100.18 273.1 99.45 276.55C98.72 279.99 101.67 286.11 101.1 288.4C100.53 290.68 98.53 294.48 96.03 290.24C93.53 286.01 85.82 268.47 86.11 262.99Z" fill="#6c0000" stroke="#e81010" stroke-width="0.8" filter="url(#tx)"/><path d="M90.11 258.44L103.59 258.95M90.75 260.53L106.52 260.85M84.15 261.59L110.32 261.86M84.94 263.65L110.72 262.24M84.32 265.87L104 265.11M90.21 266.95L104.05 267.52M91.34 269.28L111.29 269.47M90.58 271.33L110.65 271.36M84.66 273.35L108.68 274.61M86.3 275.1L109.99 276.03M90.93 276.37L108.06 276.61M87.28 277.82L107.83 277.57M92.92 278.85L107.88 278.85M90.36 280.87L104.78 280.28M88.49 282.78L105.8 282.82M84.98 285.03L104.85 284.19M88.12 287.3L105.11 287.34M85.91 288.48L106.32 287.91M90.37 289.85L102.99 289.45M87.85 291.2L103.89 291.59" stroke="#ff2222" stroke-width="0.45" opacity="0.45" fill="none" clip-path="url(#cc4)"/></g>
<line x1="168.6" y1="261.4" x2="140.1" y2="288.5" stroke="#e00000" stroke-width="1.6"/>
<clipPath id="nu2"><ellipse cx="129.6" cy="250" rx="6.5" ry="5" transform="rotate(-25 129.6 250)"/></clipPath>
<ellipse cx="129.6" cy="250" rx="6.5" ry="5" fill="#38d2d6" transform="rotate(-25 129.6 250)" filter="url(#bl)"/>
<g clip-path="url(#nu2)" opacity="0.7"><path d="M130.7 247.67h0.83v0.83h-0.83zM129.33 248.83h0.8v0.8h-0.8zM131.88 254.59h1.21v1.21h-1.21zM127.17 249.23h1.14v1.14h-1.14zM124.3 253.34h0.88v0.88h-0.88zM130.64 251.76h0.7v0.7h-0.7zM135.52 248.91h1.03v1.03h-1.03z" fill="#b8f4f6"/><path d="M127.29 252.74h0.79v0.79h-0.79zM129.33 250.99h0.98v0.98h-0.98zM133.78 250.57h0.99v0.99h-0.99zM134.24 249h1.14v1.14h-1.14zM129.18 247.3h0.84v0.84h-0.84zM125.57 247.59h0.81v0.81h-0.81zM134.26 254h0.85v0.85h-0.85zM128.77 249.86h0.83v0.83h-0.83zM126.67 251.65h0.77v0.77h-0.77z" fill="#1b7c84"/></g>
<clipPath id="nu3"><ellipse cx="96.1" cy="265.8" rx="3.5" ry="3" transform="rotate(0 96.1 265.8)"/></clipPath>
<ellipse cx="96.1" cy="265.8" rx="3.5" ry="3" fill="#3a6a70" transform="rotate(0 96.1 265.8)" filter="url(#bl)"/>
<g clip-path="url(#nu3)" opacity="0.7"><path d="M98.96 263.38h1.26v1.26h-1.26zM99.33 266.84h1.02v1.02h-1.02z" fill="#b8f4f6"/><path d="M98.01 267.34h0.88v0.88h-0.88zM97.18 267.64h0.86v0.86h-0.86zM96.06 264.91h1.13v1.13h-1.13z" fill="#1b7c84"/></g>
</g>
<g clip-path="url(#dc02)">
<g transform="rotate(20 220.05 242.2)"><clipPath id="cc5"><path d="M199.33 237.18C199.13 235.4 201.13 232.61 202.47 231.47C203.81 230.32 205.19 230.35 207.37 230.32C209.56 230.29 213.48 230.28 215.59 231.27C217.71 232.25 217.86 235.05 220.06 236.24C222.27 237.42 225.67 238.19 228.82 238.37C231.97 238.55 235.12 236.98 238.98 237.33C242.83 237.69 250.54 239.03 251.94 240.49C253.34 241.95 249.9 245.17 247.38 246.09C244.86 247.01 240.14 246.1 236.81 246C233.47 245.9 229.77 244.84 227.37 245.5C224.97 246.16 223.69 249.28 222.4 249.97C221.1 250.65 221.04 249.31 219.6 249.6C218.17 249.89 216.37 250.99 213.78 251.72C211.19 252.45 206.16 254.32 204.06 253.98C201.97 253.64 201.29 251.66 201.23 249.69C201.17 247.73 204.03 244.27 203.71 242.19C203.4 240.1 199.54 238.97 199.33 237.18Z"/></clipPath><path d="M199.33 237.18C199.13 235.4 201.13 232.61 202.47 231.47C203.81 230.32 205.19 230.35 207.37 230.32C209.56 230.29 213.48 230.28 215.59 231.27C217.71 232.25 217.86 235.05 220.06 236.24C222.27 237.42 225.67 238.19 228.82 238.37C231.97 238.55 235.12 236.98 238.98 237.33C242.83 237.69 250.54 239.03 251.94 240.49C253.34 241.95 249.9 245.17 247.38 246.09C244.86 247.01 240.14 246.1 236.81 246C233.47 245.9 229.77 244.84 227.37 245.5C224.97 246.16 223.69 249.28 222.4 249.97C221.1 250.65 221.04 249.31 219.6 249.6C218.17 249.89 216.37 250.99 213.78 251.72C211.19 252.45 206.16 254.32 204.06 253.98C201.97 253.64 201.29 251.66 201.23 249.69C201.17 247.73 204.03 244.27 203.71 242.19C203.4 240.1 199.54 238.97 199.33 237.18Z" fill="#6c0000" stroke="#e81010" stroke-width="0.8" filter="url(#tx)"/><path d="M208.82 232.07L242.72 230.78M208.99 233.24L251.75 235.24M203.23 235.54L241.13 233.91M208.85 237.33L245.8 237.58M198.55 238.7L241.21 237.04M210.49 240.73L247.55 240.93M212.85 242.03L253.19 241.47M211.01 243.69L247.64 242.58M206.96 245.09L240.22 244.7M199.33 246.52L249.13 248.59M211.19 247.57L241.01 246.18M204.74 248.74L240.72 247.4M207.86 250.87L251.33 252.17M206.72 252.37L243.83 251M211.23 253.57L253.4 252.3M214.21 255.67L247.13 257.22" stroke="#ff2222" stroke-width="0.45" opacity="0.45" fill="none" clip-path="url(#cc5)"/></g>
<g transform="rotate(-30 204.66 269.45)"><clipPath id="cc6"><path d="M173.55 258.01C177.39 256.9 185.81 260.32 191.03 260.94C196.25 261.57 200.15 261.69 204.87 261.77C209.59 261.86 216 261.93 219.36 261.48C222.71 261.03 223.93 258.46 225.01 259.09C226.09 259.71 225.88 263.11 225.85 265.23C225.82 267.35 224.43 269.18 224.83 271.8C225.22 274.41 229.26 279.13 228.22 280.92C227.19 282.71 220.82 283.32 218.63 282.54C216.44 281.76 217.33 277.75 215.11 276.23C212.89 274.72 208.77 274.02 205.29 273.45C201.8 272.88 196.57 272.04 194.21 272.83C191.85 273.62 192.68 278.39 191.11 278.2C189.55 278.01 188.68 273.44 184.83 271.68C180.98 269.92 169.88 269.9 168 267.63C166.12 265.35 169.71 259.13 173.55 258.01Z"/></clipPath><path d="M173.55 258.01C177.39 256.9 185.81 260.32 191.03 260.94C196.25 261.57 200.15 261.69 204.87 261.77C209.59 261.86 216 261.93 219.36 261.48C222.71 261.03 223.93 258.46 225.01 259.09C226.09 259.71 225.88 263.11 225.85 265.23C225.82 267.35 224.43 269.18 224.83 271.8C225.22 274.41 229.26 279.13 228.22 280.92C227.19 282.71 220.82 283.32 218.63 282.54C216.44 281.76 217.33 277.75 215.11 276.23C212.89 274.72 208.77 274.02 205.29 273.45C201.8 272.88 196.57 272.04 194.21 272.83C191.85 273.62 192.68 278.39 191.11 278.2C189.55 278.01 188.68 273.44 184.83 271.68C180.98 269.92 169.88 269.9 168 267.63C166.12 265.35 169.71 259.13 173.55 258.01Z" fill="#6c0000" stroke="#e81010" stroke-width="0.8" filter="url(#tx)"/><path d="M178.72 259.74L210.62 260.06M183.26 261.67L220.51 260.78M166.05 263.47L214.76 264.8M176.51 265.37L220.98 265.32M166.75 266.56L220.18 266.75M177.36 268.43L210.98 268.2M181.9 270.66L217.72 269.1M170.69 271.64L228.66 270.67M172.49 273.35L212.76 275.43M183.23 275.29L218.16 273.76M180.85 277.58L223.33 278.68M183.29 279.69L221.45 281.67M168.19 281.73L229.37 281.62M169.23 282.74L220.25 280.91" stroke="#ff2222" stroke-width="0.45" opacity="0.45" fill="none" clip-path="url(#cc6)"/></g>
<clipPath id="nu4"><ellipse cx="220.6" cy="244.1" rx="5" ry="4" transform="rotate(-10 220.6 244.1)"/></clipPath>
<ellipse cx="220.6" cy="244.1" rx="5" ry="4" fill="#7fd2d8" transform="rotate(-10 220.6 244.1)" filter="url(#bl)"/>
<g clip-path="url(#nu4)" opacity="0.7"><path d="M218.65 243.82h1.15v1.15h-1.15zM217.41 247.3h1.13v1.13h-1.13zM219.31 244.33h1.06v1.06h-1.06zM215.63 241.77h1.17v1.17h-1.17zM220.2 241.66h0.83v0.83h-0.83zM219.64 241.45h0.72v0.72h-0.72zM217.28 244.02h0.74v0.74h-0.74zM220.08 243.36h1.12v1.12h-1.12z" fill="#b8f4f6"/><path d="M222.59 244.4h0.95v0.95h-0.95zM219.63 243.27h0.72v0.72h-0.72z" fill="#1b7c84"/></g>
<clipPath id="nu5"><ellipse cx="192.1" cy="273.2" rx="5" ry="4" transform="rotate(-10 192.1 273.2)"/></clipPath>
<ellipse cx="192.1" cy="273.2" rx="5" ry="4" fill="#8ad0d6" transform="rotate(-10 192.1 273.2)" filter="url(#bl)"/>
<g clip-path="url(#nu5)" opacity="0.7"><path d="M189.29 269.95h0.98v0.98h-0.98zM193.32 271.97h0.77v0.77h-0.77zM194.38 271.4h1.17v1.17h-1.17zM196.43 271.6h0.85v0.85h-0.85zM195.25 274.23h0.91v0.91h-0.91zM193.92 276.95h1.06v1.06h-1.06zM187.4 269.92h0.8v0.8h-0.8zM187.64 274.43h1.24v1.24h-1.24z" fill="#b8f4f6"/><path d="M196.84 273.02h1.18v1.18h-1.18zM196.5 269.47h0.88v0.88h-0.88z" fill="#1b7c84"/></g>
</g>
<g clip-path="url(#dc10)">
<g transform="rotate(15 44.32 325.7)"><clipPath id="cc7"><path d="M1.22 301.32C1.18 298.13 3.48 299.39 5.94 300.78C8.4 302.18 12.49 306.98 15.99 309.69C19.49 312.39 22.81 315.11 26.95 317C31.1 318.89 36.02 320.5 40.87 321.03C45.73 321.56 51.67 321.35 56.07 320.17C60.46 318.99 64.16 316.83 67.24 313.97C70.32 311.11 72.58 307.21 74.55 303C76.53 298.8 77.23 286.89 79.12 288.73C81.01 290.57 85.8 308.48 85.9 314.04C85.99 319.61 80.48 319.13 79.68 322.13C78.88 325.12 81.44 329.33 81.08 332C80.73 334.67 81.07 336.09 77.55 338.12C74.02 340.16 64.85 342.65 59.92 344.19C54.98 345.74 50.51 345.87 47.94 347.4C45.37 348.94 46 351.11 44.47 353.4C42.95 355.69 40.39 360.71 38.78 361.14C37.17 361.57 37.15 358.33 34.82 355.99C32.48 353.65 27.94 350.95 24.77 347.09C21.59 343.23 18.21 337.1 15.77 332.83C13.34 328.57 11.74 323.64 10.15 321.5C8.56 319.36 7.7 323.33 6.22 319.97C4.73 316.6 1.27 304.52 1.22 301.32Z"/></clipPath><path d="M1.22 301.32C1.18 298.13 3.48 299.39 5.94 300.78C8.4 302.18 12.49 306.98 15.99 309.69C19.49 312.39 22.81 315.11 26.95 317C31.1 318.89 36.02 320.5 40.87 321.03C45.73 321.56 51.67 321.35 56.07 320.17C60.46 318.99 64.16 316.83 67.24 313.97C70.32 311.11 72.58 307.21 74.55 303C76.53 298.8 77.23 286.89 79.12 288.73C81.01 290.57 85.8 308.48 85.9 314.04C85.99 319.61 80.48 319.13 79.68 322.13C78.88 325.12 81.44 329.33 81.08 332C80.73 334.67 81.07 336.09 77.55 338.12C74.02 340.16 64.85 342.65 59.92 344.19C54.98 345.74 50.51 345.87 47.94 347.4C45.37 348.94 46 351.11 44.47 353.4C42.95 355.69 40.39 360.71 38.78 361.14C37.17 361.57 37.15 358.33 34.82 355.99C32.48 353.65 27.94 350.95 24.77 347.09C21.59 343.23 18.21 337.1 15.77 332.83C13.34 328.57 11.74 323.64 10.15 321.5C8.56 319.36 7.7 323.33 6.22 319.97C4.73 316.6 1.27 304.52 1.22 301.32Z" fill="#6c0000" stroke="#e81010" stroke-width="0.8" filter="url(#tx)"/><path d="M7.26 291.05L64.61 288.22M8.38 292.13L69.26 291.32M19.49 294.42L67.79 292.53M24.53 296.57L77.96 296.91M20.58 298.09L74.73 296.34M18.97 299.4L71.3 297.32M12.57 301.36L83.68 300.4M12.02 303.33L67.11 300.18M5.72 305.25L64.78 302.39M23.12 307.11L75.57 309.49M8.37 309.35L77.76 311.29M25.41 310.36L85.02 309.64M1.44 312.12L70.11 308.9M3.4 313.38L70.24 309.76M5.52 315.16L61.39 311.88M10.72 316.39L66.49 316.8M13.89 318.19L82.74 320.58M21.84 319.36L84.81 316.18M4.68 320.29L63.42 323.58M5.33 321.32L65.17 321.07M20.09 323.15L64.01 323.89M11.43 324.57L84.86 325.47M21.55 326.72L82.25 327.41M19.17 328.43L85.78 328.14M1.18 329.85L72.75 329.71M16.99 331.85L71.3 331.35M26.51 333.07L78.71 332.13M5.19 334.62L83.37 330.72M23.19 336.91L60.86 337.94M13.9 338.73L76.42 341.97M25.24 341.05L74.63 343.44M26.55 343.11L62.68 342.71M4.28 344.45L85.27 348.67M13.46 346.44L70.38 345.03M6.78 347.4L76.05 349.43M19.69 348.81L80.03 350.57M10.49 349.87L85.77 348.06M18.41 351L61.14 352.35M9.43 353.37L83.48 356.71M13.63 354.74L73.04 354.47M7.04 356.18L75.21 359.06M7.37 358.41L81.25 361.13M2.82 360.52L73.35 356.37M0.6 362.22L82.31 358.94" stroke="#ff2222" stroke-width="0.45" opacity="0.45" fill="none" clip-path="url(#cc7)"/></g>
<clipPath id="nu6"><ellipse cx="53.6" cy="327.7" rx="5" ry="4" transform="rotate(0 53.6 327.7)"/></clipPath>
<ellipse cx="53.6" cy="327.7" rx="5" ry="4" fill="#3fcfd6" transform="rotate(0 53.6 327.7)" filter="url(#bl)"/>
<g clip-path="url(#nu6)" opacity="0.7"><path d="M58.39 323.98h0.81v0.81h-0.81zM52.78 325.78h0.73v0.73h-0.73zM53.69 330.35h1.03v1.03h-1.03z" fill="#b8f4f6"/><path d="M56.3 327.43h1.29v1.29h-1.29zM52.92 326.41h0.73v0.73h-0.73zM49.54 326.19h0.85v0.85h-0.85zM54.87 329.1h1.25v1.25h-1.25zM51.07 324.79h1.15v1.15h-1.15zM50.29 323.84h1.09v1.09h-1.09zM57.66 327.44h1.1v1.1h-1.1z" fill="#1b7c84"/></g>
</g>
<g clip-path="url(#dc11)">
<g transform="rotate(-15 133.17 315.16)"><clipPath id="cc8"><path d="M91.28 304.7C93.94 301.46 97.47 303.1 102.59 302.66C107.71 302.22 115.48 302.47 122.01 302.07C128.54 301.66 135.83 300.77 141.76 300.22C147.69 299.66 153.64 298.24 157.58 298.76C161.51 299.28 165.84 301.54 165.36 303.33C164.88 305.12 156.45 306.95 154.7 309.48C152.96 312.01 153 315.89 154.87 318.53C156.73 321.17 164.72 323.29 165.89 325.31C167.05 327.34 165.04 330.01 161.87 330.66C158.69 331.31 151.44 329.59 146.83 329.21C142.22 328.84 139.41 328.95 134.2 328.42C129 327.89 121.9 326.43 115.59 326.02C109.28 325.61 101.18 326.6 96.36 325.94C91.53 325.28 87.47 325.63 86.62 322.09C85.77 318.55 88.62 307.94 91.28 304.7Z"/></clipPath><path d="M91.28 304.7C93.94 301.46 97.47 303.1 102.59 302.66C107.71 302.22 115.48 302.47 122.01 302.07C128.54 301.66 135.83 300.77 141.76 300.22C147.69 299.66 153.64 298.24 157.58 298.76C161.51 299.28 165.84 301.54 165.36 303.33C164.88 305.12 156.45 306.95 154.7 309.48C152.96 312.01 153 315.89 154.87 318.53C156.73 321.17 164.72 323.29 165.89 325.31C167.05 327.34 165.04 330.01 161.87 330.66C158.69 331.31 151.44 329.59 146.83 329.21C142.22 328.84 139.41 328.95 134.2 328.42C129 327.89 121.9 326.43 115.59 326.02C109.28 325.61 101.18 326.6 96.36 325.94C91.53 325.28 87.47 325.63 86.62 322.09C85.77 318.55 88.62 307.94 91.28 304.7Z" fill="#6c0000" stroke="#e81010" stroke-width="0.8" filter="url(#tx)"/><path d="M95.3 300.88L154.52 301.61M102.25 302.04L142.31 300.51M93.69 303.76L156.16 303.07M109.35 305.86L163.88 305.55M95.24 307.23L145.95 307.37M100.41 309.37L167.1 312.83M97.19 311.14L160.67 311.52M87.26 313.1L150.65 316.23M107.71 314.56L143.13 314.62M108.36 316.42L163.22 314.42M92.77 317.9L160.9 320.58M92.8 320.22L157.77 323.68M91.07 321.55L142.62 319.27M89.78 322.56L165.84 320.1M106.23 324.25L151.62 325.58M91.9 326.38L143.11 323.34M97.07 327.38L160.98 325.6M90.7 329.1L143.2 326.25M89.21 330.22L142.29 332.8M88.29 332.13L166.48 333.51" stroke="#ff2222" stroke-width="0.45" opacity="0.45" fill="none" clip-path="url(#cc8)"/></g>
<g transform="rotate(-10 130.2 342.29)"><clipPath id="cc9"><path d="M91.86 328.23C94.01 324.87 97.1 329.63 100.69 331.11C104.29 332.59 109.21 336.16 113.44 337.11C117.68 338.06 120.82 336.92 126.09 336.8C131.36 336.68 138.73 336.53 145.05 336.39C151.37 336.25 160.92 334.38 164.01 335.98C167.1 337.57 164.82 342.4 163.57 345.95C162.32 349.5 158.26 354.49 156.49 357.29C154.73 360.1 164.44 363.77 152.99 362.77C141.54 361.77 97.98 357.03 87.8 351.27C77.61 345.52 89.71 331.59 91.86 328.23Z"/></clipPath><path d="M91.86 328.23C94.01 324.87 97.1 329.63 100.69 331.11C104.29 332.59 109.21 336.16 113.44 337.11C117.68 338.06 120.82 336.92 126.09 336.8C131.36 336.68 138.73 336.53 145.05 336.39C151.37 336.25 160.92 334.38 164.01 335.98C167.1 337.57 164.82 342.4 163.57 345.95C162.32 349.5 158.26 354.49 156.49 357.29C154.73 360.1 164.44 363.77 152.99 362.77C141.54 361.77 97.98 357.03 87.8 351.27C77.61 345.52 89.71 331.59 91.86 328.23Z" fill="#6c0000" stroke="#e81010" stroke-width="0.8" filter="url(#tx)"/><path d="M90.51 330.27L145.55 328.13M109.68 332.48L152.71 330.15M95.49 333.95L141.46 331.79M89.41 335.27L162.85 332.03M87.71 336.7L161.24 340.36M110.16 339.01L159.89 341.98M97.86 340.44L148.52 343.18M94.38 341.81L147.41 338.77M97.33 343.89L152.63 344.34M106.51 345.45L161.03 345.68M106.89 347.24L161.55 350.08M89.97 349.59L159.4 352.42M110.12 350.79L155.83 348.34M86.14 353L144.38 350.31M102.84 355.09L152.95 358.05M99.23 357.14L155.04 354.41M93.83 358.26L153.42 358.98M94.71 359.72L151.07 358.49M107.23 362.09L145.24 364.08M92.5 363.42L162.95 367.45" stroke="#ff2222" stroke-width="0.45" opacity="0.45" fill="none" clip-path="url(#cc9)"/></g>
<clipPath id="nu7"><ellipse cx="127.7" cy="313.4" rx="6" ry="5" transform="rotate(0 127.7 313.4)"/></clipPath>
<ellipse cx="127.7" cy="313.4" rx="6" ry="5" fill="#58cdd2" transform="rotate(0 127.7 313.4)" filter="url(#bl)"/>
<g clip-path="url(#nu7)" opacity="0.7"><path d="M125.09 318.07h0.97v0.97h-0.97zM127 314.58h0.74v0.74h-0.74zM126.31 318.21h0.92v0.92h-0.92zM128.71 309.86h0.83v0.83h-0.83zM129.08 309.8h0.75v0.75h-0.75zM132.66 312.81h1.11v1.11h-1.11z" fill="#b8f4f6"/><path d="M127.71 315.72h0.9v0.9h-0.9zM128.08 317.15h1.29v1.29h-1.29zM131.87 316.17h0.74v0.74h-0.74zM128.28 317.24h0.96v0.96h-0.96zM130.24 312.02h0.88v0.88h-0.88zM126.49 312.13h1.09v1.09h-1.09zM125.1 308.69h1.02v1.02h-1.02zM128.11 315.77h1.2v1.2h-1.2zM132.26 312.18h0.99v0.99h-0.99z" fill="#1b7c84"/></g>
<clipPath id="nu8"><ellipse cx="135.5" cy="352.1" rx="5.5" ry="4" transform="rotate(0 135.5 352.1)"/></clipPath>
<ellipse cx="135.5" cy="352.1" rx="5.5" ry="4" fill="#3fcfd6" transform="rotate(0 135.5 352.1)" filter="url(#bl)"/>
<g clip-path="url(#nu8)" opacity="0.7"><path d="M130.93 348.32h0.91v0.91h-0.91zM139.16 349.57h0.86v0.86h-0.86zM130.73 348.18h0.99v0.99h-0.99zM139.84 354.71h0.9v0.9h-0.9zM136.41 355.17h0.82v0.82h-0.82zM135.76 352.69h0.75v0.75h-0.75z" fill="#b8f4f6"/><path d="M133.15 349.62h1.19v1.19h-1.19zM135.63 351.56h1.08v1.08h-1.08zM134.8 348.88h1.29v1.29h-1.29zM130.92 351.63h1.15v1.15h-1.15zM130.97 353.23h0.72v0.72h-0.72z" fill="#1b7c84"/></g>
<clipPath id="nu9"><ellipse cx="93" cy="349.4" rx="4.5" ry="5" transform="rotate(0 93 349.4)"/></clipPath>
<ellipse cx="93" cy="349.4" rx="4.5" ry="5" fill="#3fcfd6" transform="rotate(0 93 349.4)" filter="url(#bl)"/>
<g clip-path="url(#nu9)" opacity="0.7"><path d="M92.72 352.97h1.02v1.02h-1.02zM97.34 351.01h1.02v1.02h-1.02zM96.22 351.78h0.82v0.82h-0.82zM90.44 352.63h1.26v1.26h-1.26zM96.72 348.37h0.83v0.83h-0.83zM96 344.97h0.94v0.94h-0.94z" fill="#b8f4f6"/><path d="M91.19 353.4h0.78v0.78h-0.78zM94.08 347.95h1.16v1.16h-1.16zM92.4 347.52h0.82v0.82h-0.82zM88.84 349.39h0.93v0.93h-0.93zM90.1 346.91h0.86v0.86h-0.86z" fill="#1b7c84"/></g>
</g>
<g clip-path="url(#dc12)">
<g transform="rotate(80 188.13 312.94)"><clipPath id="cc10"><path d="M170.52 326.21C163.76 324.11 166.85 323.52 166.63 320.04C166.41 316.57 167.5 308.01 169.22 305.37C170.94 302.73 174.49 305.03 176.94 304.19C179.39 303.36 180.79 300.22 183.91 300.35C187.04 300.47 192.19 304.55 195.69 304.96C199.19 305.38 203.62 301.76 204.9 302.83C206.18 303.9 203.71 308.31 203.39 311.4C203.06 314.49 202.32 317.83 202.95 321.37C203.58 324.92 212.56 331.87 207.15 332.67C201.75 333.48 177.27 328.32 170.52 326.21Z"/></clipPath><path d="M170.52 326.21C163.76 324.11 166.85 323.52 166.63 320.04C166.41 316.57 167.5 308.01 169.22 305.37C170.94 302.73 174.49 305.03 176.94 304.19C179.39 303.36 180.79 300.22 183.91 300.35C187.04 300.47 192.19 304.55 195.69 304.96C199.19 305.38 203.62 301.76 204.9 302.83C206.18 303.9 203.71 308.31 203.39 311.4C203.06 314.49 202.32 317.83 202.95 321.37C203.58 324.92 212.56 331.87 207.15 332.67C201.75 333.48 177.27 328.32 170.52 326.21Z" fill="#6c0000" stroke="#e81010" stroke-width="0.8" filter="url(#tx)"/><path d="M167.75 301.76L202.89 300.12M174.53 303.5L206.1 302.54M167.12 305.41L198.52 305.82M173.09 306.9L200.26 307.03M175.77 308.47L196.98 307.33M168.43 310.1L196.43 310.37M176.2 312.03L195.19 311.39M171.47 313.45L206.62 315.54M175 315.42L200.89 314.92M176.67 316.48L202.39 316.57M170.95 318.19L202.18 319.55M167.51 319.97L207.83 321.53M168.92 322.01L196.52 322.18M178.62 324.24L197.32 324.33M164.78 326.26L199.55 325.39M171.41 328.26L201.12 327.73M172.59 329.54L203.69 330.27M169.16 330.6L198.89 330.79M167.41 331.76L203.37 331.3M165.41 333.52L202.33 331.78" stroke="#ff2222" stroke-width="0.45" opacity="0.45" fill="none" clip-path="url(#cc10)"/></g>
<g transform="rotate(-50 212.29 325.29)"><clipPath id="cc11"><path d="M243.26 308.85C247.74 311.11 263.03 326.77 263.44 332.91C263.85 339.05 251.05 344.8 245.71 345.69C240.37 346.59 235.89 340.42 231.39 338.27C226.88 336.11 223.89 333.5 218.67 332.75C213.44 332 205.03 332.27 200.05 333.75C195.07 335.23 192.09 342.36 188.79 341.64C185.48 340.91 182.71 334.31 180.2 329.39C177.7 324.46 174.46 315.8 173.77 312.07C173.08 308.34 173.12 307.05 176.06 307.02C178.99 306.99 186.73 309.88 191.39 311.91C196.05 313.94 199.46 317.62 204.02 319.19C208.58 320.76 213.33 321.31 218.74 321.33C224.16 321.35 232.43 321.42 236.52 319.34C240.61 317.26 238.77 306.59 243.26 308.85Z"/></clipPath><path d="M243.26 308.85C247.74 311.11 263.03 326.77 263.44 332.91C263.85 339.05 251.05 344.8 245.71 345.69C240.37 346.59 235.89 340.42 231.39 338.27C226.88 336.11 223.89 333.5 218.67 332.75C213.44 332 205.03 332.27 200.05 333.75C195.07 335.23 192.09 342.36 188.79 341.64C185.48 340.91 182.71 334.31 180.2 329.39C177.7 324.46 174.46 315.8 173.77 312.07C173.08 308.34 173.12 307.05 176.06 307.02C178.99 306.99 186.73 309.88 191.39 311.91C196.05 313.94 199.46 317.62 204.02 319.19C208.58 320.76 213.33 321.31 218.74 321.33C224.16 321.35 232.43 321.42 236.52 319.34C240.61 317.26 238.77 306.59 243.26 308.85Z" fill="#6c0000" stroke="#e81010" stroke-width="0.8" filter="url(#tx)"/><path d="M176.6 308.22L262.53 308.27M196.87 309.93L250.54 312.65M179.76 311.42L256.36 307.44M199.17 313.74L251.66 311.32M199.59 315.29L260.06 313.56M177.54 317.04L259 317.15M192.97 319.42L239.35 321.04M193.46 320.47L258.93 322.07M181.21 322.06L243.41 325.6M179.56 323.2L250.74 324.63M193.3 324.66L250.87 327.22M195.01 326.59L258 326.05M182.99 328.31L264.09 329.14M177.88 329.46L243.53 330.57M196.27 331.12L244.42 333.74M187.86 332.58L243.89 329.51M176.35 334.86L237.1 332.69M193.11 336.87L261.12 336.75M189.22 338.59L260.78 340.04M197.33 339.69L261.45 340.65M194.46 340.6L254.15 337.62M189.43 342.19L257.83 346.24M179.91 344.14L245.25 340.23M186.75 345.29L255.97 341.41M194.95 347.65L254.21 344.82" stroke="#ff2222" stroke-width="0.45" opacity="0.45" fill="none" clip-path="url(#cc11)"/></g>
<g transform="rotate(60 241.54 343.5)"><clipPath id="cc12"><path d="M230.04 339.22C229.06 335.55 225.88 327.59 230.75 328.19C235.62 328.79 255.88 337.99 259.26 342.81C262.64 347.62 254.78 355.87 251.01 357.1C247.24 358.33 240.14 353.17 236.64 350.19C233.15 347.21 231.02 342.88 230.04 339.22Z"/></clipPath><path d="M230.04 339.22C229.06 335.55 225.88 327.59 230.75 328.19C235.62 328.79 255.88 337.99 259.26 342.81C262.64 347.62 254.78 355.87 251.01 357.1C247.24 358.33 240.14 353.17 236.64 350.19C233.15 347.21 231.02 342.88 230.04 339.22Z" fill="#6c0000" stroke="#e81010" stroke-width="0.8" filter="url(#tx)"/><path d="M235.23 330.3L257.74 330.15M236.66 331.54L257.54 331.42M229.07 332.78L257.86 332.49M234.47 334.54L258.14 334.67M231.69 335.48L259.15 333.92M236.24 337.23L254.79 336.71M233.66 339.13L256.67 339.78M236.59 340.49L255.88 339.48M234.31 341.54L254.55 342.57M238.8 343.1L259.45 342.17M229.36 344.55L255.88 346.14M238 346.17L256.8 345.6M228.09 347.08L253.63 347M228.56 349.29L253.99 350.52M231.28 350.64L257.98 350.56M228.99 351.74L250.88 352.07M230.1 352.71L260.36 354.39M236.32 354.73L255.79 354.8M235.3 356.57L255.74 355.55M228.78 358.91L253.98 357.42" stroke="#ff2222" stroke-width="0.45" opacity="0.45" fill="none" clip-path="url(#cc12)"/></g>
<clipPath id="nu10"><ellipse cx="185.1" cy="316.8" rx="3.5" ry="4.5" transform="rotate(0 185.1 316.8)"/></clipPath>
<ellipse cx="185.1" cy="316.8" rx="3.5" ry="4.5" fill="#3fcfd6" transform="rotate(0 185.1 316.8)" filter="url(#bl)"/>
<g clip-path="url(#nu10)" opacity="0.7"><path d="M184.34 316.49h1.06v1.06h-1.06zM183.74 318.94h0.85v0.85h-0.85zM188.3 316.59h0.82v0.82h-0.82zM183.29 313.93h0.76v0.76h-0.76z" fill="#b8f4f6"/><path d="M188.08 316.1h1.13v1.13h-1.13zM183.4 315.52h1.09v1.09h-1.09zM182.01 314.46h1.05v1.05h-1.05z" fill="#1b7c84"/></g>
<clipPath id="nu11"><ellipse cx="212.6" cy="328" rx="4" ry="4" transform="rotate(0 212.6 328)"/></clipPath>
<ellipse cx="212.6" cy="328" rx="4" ry="4" fill="#4ab8c0" transform="rotate(0 212.6 328)" filter="url(#bl)"/>
<g clip-path="url(#nu11)" opacity="0.7"><path d="M214.61 326.91h1.14v1.14h-1.14zM212.43 327.03h1v1h-1z" fill="#b8f4f6"/><path d="M212.61 326.04h1.23v1.23h-1.23zM211.32 327.45h0.72v0.72h-0.72zM210.36 325.83h0.82v0.82h-0.82zM213.74 329.82h0.76v0.76h-0.76zM210.2 327.16h1.09v1.09h-1.09zM215.92 325.56h1.23v1.23h-1.23z" fill="#1b7c84"/></g>
<clipPath id="nu12"><ellipse cx="241.7" cy="294.2" rx="3" ry="3" transform="rotate(0 241.7 294.2)"/></clipPath>
<ellipse cx="241.7" cy="294.2" rx="3" ry="3" fill="#206870" transform="rotate(0 241.7 294.2)" filter="url(#bl)"/>
<g clip-path="url(#nu12)" opacity="0.7"><path d="M240.46 296.33h1.24v1.24h-1.24zM239.57 292.49h1.2v1.2h-1.2z" fill="#b8f4f6"/><path d="M242.98 297.08h0.78v0.78h-0.78zM244.1 291.93h1.06v1.06h-1.06z" fill="#1b7c84"/></g>
</g>
<g clip-path="url(#dc20)">
<g transform="rotate(30 49.25 392.31)"><clipPath id="cc13"><path d="M19.83 392.65C20.53 390.57 24.18 393.16 26.4 391.63C28.62 390.1 31.52 386.08 33.12 383.48C34.72 380.88 35.68 378.61 35.99 376.05C36.3 373.48 34.32 368.22 34.98 368.09C35.63 367.96 38.19 374.12 39.93 375.27C41.68 376.42 43.39 376.42 45.43 374.99C47.47 373.56 50.15 369.8 52.19 366.7C54.23 363.6 55.63 359.46 57.66 356.38C59.69 353.3 63.51 347.54 64.38 348.23C65.26 348.91 62.96 356.42 62.93 360.5C62.89 364.58 62.8 369.44 64.2 372.7C65.59 375.95 68.89 378.3 71.31 380.02C73.73 381.74 75.86 382.03 78.7 383.03C81.55 384.02 87.8 384.18 88.38 385.99C88.96 387.79 84.86 392.06 82.18 393.84C79.49 395.62 74.76 394.76 72.27 396.68C69.78 398.59 70.5 402.76 67.23 405.36C63.96 407.96 55.19 410.1 52.64 412.28C50.09 414.46 52.79 415.81 51.93 418.46C51.08 421.11 48.83 425.51 47.5 428.18C46.17 430.85 46.7 433.39 43.98 434.48C41.26 435.57 33.59 436.42 31.18 434.71C28.77 433.01 29.63 427.76 29.52 424.24C29.42 420.72 31.61 415.86 30.54 413.61C29.47 411.36 24.51 412.32 23.11 410.74C21.72 409.16 22.72 407.13 22.18 404.12C21.63 401.1 19.13 394.74 19.83 392.65Z"/></clipPath><path d="M19.83 392.65C20.53 390.57 24.18 393.16 26.4 391.63C28.62 390.1 31.52 386.08 33.12 383.48C34.72 380.88 35.68 378.61 35.99 376.05C36.3 373.48 34.32 368.22 34.98 368.09C35.63 367.96 38.19 374.12 39.93 375.27C41.68 376.42 43.39 376.42 45.43 374.99C47.47 373.56 50.15 369.8 52.19 366.7C54.23 363.6 55.63 359.46 57.66 356.38C59.69 353.3 63.51 347.54 64.38 348.23C65.26 348.91 62.96 356.42 62.93 360.5C62.89 364.58 62.8 369.44 64.2 372.7C65.59 375.95 68.89 378.3 71.31 380.02C73.73 381.74 75.86 382.03 78.7 383.03C81.55 384.02 87.8 384.18 88.38 385.99C88.96 387.79 84.86 392.06 82.18 393.84C79.49 395.62 74.76 394.76 72.27 396.68C69.78 398.59 70.5 402.76 67.23 405.36C63.96 407.96 55.19 410.1 52.64 412.28C50.09 414.46 52.79 415.81 51.93 418.46C51.08 421.11 48.83 425.51 47.5 428.18C46.17 430.85 46.7 433.39 43.98 434.48C41.26 435.57 33.59 436.42 31.18 434.71C28.77 433.01 29.63 427.76 29.52 424.24C29.42 420.72 31.61 415.86 30.54 413.61C29.47 411.36 24.51 412.32 23.11 410.74C21.72 409.16 22.72 407.13 22.18 404.12C21.63 401.1 19.13 394.74 19.83 392.65Z" fill="#6c0000" stroke="#e81010" stroke-width="0.8" filter="url(#tx)"/><path d="M38.78 349.6L84.65 349.28M24.98 350.53L81.68 353.58M19.77 352.89L70.35 351.57M38.99 354.16L85.21 352.61M24.67 356.41L85.51 355.19M26.82 358.12L78.93 358.5M38.9 359.47L73.39 360.87M23.48 361.6L85.78 358.39M38.26 362.73L69.75 364.5M27.47 364.47L89.11 361.63M24.33 366.72L69.04 365.47M24.85 367.92L75.38 370.49M26.83 368.98L82.59 371.65M23.49 370.87L87.58 371.58M37.5 372.63L82.62 370.06M20.4 373.78L83.24 372.49M25.37 375.5L83.82 374.85M27.71 377.13L73.05 378.64M21.67 378.75L71.25 376.49M29.47 380.37L71.29 379.78M26.09 381.83L90.14 380.77M29.02 383.55L80.19 383.42M22.03 385.16L68.24 386.35M21.78 386.23L72.44 388.46M30.03 387.52L71.45 385.43M39.94 389.69L89.18 391.92M34.87 391.16L80.19 389.02M40.37 393.18L75.11 394.41M19.65 395.39L70.27 395.68M36.57 396.43L84.05 394.06M22.59 398.32L74.23 395.4M38.99 399.28L85.54 399.33M31.82 401.23L73.09 402.44M22.16 403.18L78.28 399.91M31.07 405.53L87.48 403.62M29.61 407.7L75.28 407.4M35.88 408.81L70.98 409.77M21.55 410.13L70.09 408.58M29.57 411.69L74.62 411.09M35.12 413.07L72.85 412.32M38.77 414.41L73.91 412.61M39.47 416.2L80.66 415.73M25.75 417.43L76.82 414.98M32.49 418.87L80.04 421.42M31.77 420.76L79.21 421.34M36.59 422.45L86.05 422.4M36.98 424.53L88.74 423.27M33.89 426.15L85.81 425.8M30.5 427.45L77.37 425.38M22.34 428.35L68.78 426.55M24.37 429.93L75.49 430.33M17.86 432.05L80.46 433.34M35.66 433.68L83.19 431.09M31.03 435.02L79.18 435.75" stroke="#ff2222" stroke-width="0.45" opacity="0.45" fill="none" clip-path="url(#cc13)"/></g>
<clipPath id="nu13"><ellipse cx="51.2" cy="387.5" rx="7" ry="5.5" transform="rotate(-25 51.2 387.5)"/></clipPath>
<ellipse cx="51.2" cy="387.5" rx="7" ry="5.5" fill="#40d2d8" transform="rotate(-25 51.2 387.5)" filter="url(#bl)"/>
<g clip-path="url(#nu13)" opacity="0.7"><path d="M56.23 387.71h0.91v0.91h-0.91zM51.94 386h1.02v1.02h-1.02zM44.3 382.42h0.79v0.79h-0.79zM53.08 382.68h1.15v1.15h-1.15zM58.16 383.56h0.87v0.87h-0.87zM56.27 391h1.05v1.05h-1.05zM57.85 384.94h0.88v0.88h-0.88zM56.03 382.47h0.86v0.86h-0.86zM54.68 390.96h0.92v0.92h-0.92zM52.8 384.51h1.23v1.23h-1.23z" fill="#b8f4f6"/><path d="M56.12 388.39h0.84v0.84h-0.84zM50.2 389.72h0.73v0.73h-0.73zM55.98 392.25h1.12v1.12h-1.12zM46.73 390.78h0.76v0.76h-0.76zM49.75 391.65h1.16v1.16h-1.16zM50.21 389.37h1.23v1.23h-1.23zM57.2 389.66h0.91v0.91h-0.91zM53.28 387.34h0.82v0.82h-0.82zM50.84 392.58h1.23v1.23h-1.23z" fill="#1b7c84"/></g>
</g>
<g clip-path="url(#dc21)">
<g transform="rotate(70 130 395)"><rect x="75" y="340" width="110" height="110" fill="#6c0000" filter="url(#tx)"/></g>
<path d="M90 361C92.5 352.67 102.67 359.17 105 361C107.33 362.83 104.5 367.5 104 372C103.5 376.5 102.92 383.17 102 388C101.08 392.83 99.83 397.67 98.5 401C97.17 404.33 95.42 406.33 94 408C92.58 409.67 90.67 418.83 90 411C89.33 403.17 87.5 369.33 90 361Z" fill="#000" stroke="none" stroke-width="1" filter="url(#bl)"/>
<ellipse cx="142.6" cy="373" rx="8.5" ry="11" fill="#000" filter="url(#bl)"/>
<path d="M157 360C158.83 357.67 167.83 354.67 170 360C172.17 365.33 171 387.67 170 392C169 396.33 165.83 389 164 386C162.17 383 160.17 378.33 159 374C157.83 369.67 155.17 362.33 157 360Z" fill="#000" stroke="none" stroke-width="1" filter="url(#bl)"/>
<ellipse cx="166" cy="410" rx="4" ry="8" fill="#050000" filter="url(#bl)"/>
<ellipse cx="94" cy="425" rx="4" ry="5" fill="#000" filter="url(#bl)"/>
<line x1="112" y1="361" x2="104" y2="410" stroke="#ff2020" stroke-width="0.9" opacity="0.7" filter="url(#bl)"/>
<line x1="121" y1="361" x2="150" y2="429" stroke="#ff2020" stroke-width="0.9" opacity="0.7" filter="url(#bl)"/>
<line x1="100" y1="417" x2="160" y2="385" stroke="#ff2020" stroke-width="0.9" opacity="0.7" filter="url(#bl)"/>
<line x1="126" y1="365" x2="98" y2="425" stroke="#ff2020" stroke-width="0.9" opacity="0.7" filter="url(#bl)"/>
<line x1="132" y1="398" x2="168" y2="420" stroke="#ff2020" stroke-width="0.9" opacity="0.7" filter="url(#bl)"/>
<line x1="100" y1="421" x2="168" y2="427" stroke="#ff2020" stroke-width="0.9" opacity="0.7" filter="url(#bl)"/>
<clipPath id="nu14"><ellipse cx="115.9" cy="402" rx="5.5" ry="6.5" transform="rotate(0 115.9 402)"/></clipPath>
<ellipse cx="115.9" cy="402" rx="5.5" ry="6.5" fill="#9ad8dc" transform="rotate(0 115.9 402)" filter="url(#bl)"/>
<g clip-path="url(#nu14)" opacity="0.7"><path d="M119.57 408.38h1.16v1.16h-1.16zM116.72 406.24h0.91v0.91h-0.91zM115.19 403.86h1.01v1.01h-1.01zM121.18 407.01h1.16v1.16h-1.16zM112.75 404.86h1.01v1.01h-1.01zM117.63 403.04h1.21v1.21h-1.21zM119.12 403.6h1.05v1.05h-1.05zM117.21 397.13h1.02v1.02h-1.02z" fill="#b8f4f6"/><path d="M119.99 406.99h0.8v0.8h-0.8zM112.67 403.99h0.83v0.83h-0.83zM120.35 404.11h0.93v0.93h-0.93zM112.54 405h1.19v1.19h-1.19zM116.88 401.33h1.09v1.09h-1.09zM121.21 396.95h1.04v1.04h-1.04zM120.65 405.96h0.98v0.98h-0.98zM114.63 402.31h0.8v0.8h-0.8zM118.8 405.38h0.75v0.75h-0.75z" fill="#1b7c84"/></g>
<clipPath id="nu15"><ellipse cx="146.7" cy="403.3" rx="5.5" ry="5.5" transform="rotate(0 146.7 403.3)"/></clipPath>
<ellipse cx="146.7" cy="403.3" rx="5.5" ry="5.5" fill="#3fcfd6" transform="rotate(0 146.7 403.3)" filter="url(#bl)"/>
<g clip-path="url(#nu15)" opacity="0.7"><path d="M141.33 404.02h0.99v0.99h-0.99zM145.84 407.56h1.07v1.07h-1.07zM150.16 401.71h1.24v1.24h-1.24zM142.05 408.49h0.74v0.74h-0.74zM147.57 404.7h0.89v0.89h-0.89zM152.11 408.49h0.7v0.7h-0.7zM143.68 406.52h0.82v0.82h-0.82zM149.62 399.66h1.29v1.29h-1.29zM147.37 401.13h1.2v1.2h-1.2z" fill="#b8f4f6"/><path d="M149.68 399.07h1.03v1.03h-1.03zM147.69 401.63h1.15v1.15h-1.15zM151.08 406.82h0.82v0.82h-0.82zM145.76 400.24h0.73v0.73h-0.73zM146.09 398.76h0.91v0.91h-0.91zM146.7 399.49h0.84v0.84h-0.84z" fill="#1b7c84"/></g>
</g>
<g clip-path="url(#dc22)">
<g transform="rotate(-20 206.85 393.49)"><clipPath id="cc14"><path d="M184.51 368.77C185.79 367.69 187.95 369.75 192 370.11C196.06 370.47 203.74 371.05 208.84 370.92C213.94 370.79 218.64 368.76 222.61 369.33C226.59 369.91 232.22 372.67 232.69 374.39C233.17 376.1 227.21 377.85 225.46 379.63C223.72 381.41 222.42 382.69 222.22 385.05C222.01 387.4 222.26 391.4 224.25 393.77C226.25 396.14 230 397.23 234.16 399.29C238.32 401.36 246.86 404.62 249.22 406.16C251.59 407.69 251.2 408.77 248.37 408.51C245.54 408.24 237.62 405.09 232.25 404.55C226.87 404.02 220.47 404.22 216.13 405.28C211.78 406.35 209 408.65 206.2 410.93C203.4 413.21 202.55 418.59 199.33 418.97C196.11 419.34 190.2 413.69 186.87 413.15C183.54 412.61 181.53 416.32 179.33 415.73C177.14 415.14 174.47 411.69 173.68 409.63C172.89 407.57 174.49 406.62 174.58 403.36C174.67 400.09 173.4 393.48 174.22 390.03C175.03 386.58 177.76 384.92 179.45 382.68C181.13 380.43 183.48 378.89 184.33 376.58C185.17 374.26 183.23 369.85 184.51 368.77Z"/></clipPath><path d="M184.51 368.77C185.79 367.69 187.95 369.75 192 370.11C196.06 370.47 203.74 371.05 208.84 370.92C213.94 370.79 218.64 368.76 222.61 369.33C226.59 369.91 232.22 372.67 232.69 374.39C233.17 376.1 227.21 377.85 225.46 379.63C223.72 381.41 222.42 382.69 222.22 385.05C222.01 387.4 222.26 391.4 224.25 393.77C226.25 396.14 230 397.23 234.16 399.29C238.32 401.36 246.86 404.62 249.22 406.16C251.59 407.69 251.2 408.77 248.37 408.51C245.54 408.24 237.62 405.09 232.25 404.55C226.87 404.02 220.47 404.22 216.13 405.28C211.78 406.35 209 408.65 206.2 410.93C203.4 413.21 202.55 418.59 199.33 418.97C196.11 419.34 190.2 413.69 186.87 413.15C183.54 412.61 181.53 416.32 179.33 415.73C177.14 415.14 174.47 411.69 173.68 409.63C172.89 407.57 174.49 406.62 174.58 403.36C174.67 400.09 173.4 393.48 174.22 390.03C175.03 386.58 177.76 384.92 179.45 382.68C181.13 380.43 183.48 378.89 184.33 376.58C185.17 374.26 183.23 369.85 184.51 368.77Z" fill="#6c0000" stroke="#e81010" stroke-width="0.8" filter="url(#tx)"/><path d="M173.17 370.08L229.79 372.71M180.42 371.92L249.52 374.59M172.32 373.08L248.51 374.23M192.79 375.15L230.57 376.86M188.88 376.88L237.48 379.07M173.89 378.42L245.07 374.36M195.61 380.01L237.01 378.13M177.26 382.02L229.37 384.48M174.77 384.36L231.49 382.78M181.75 386.59L236.37 388.55M182.01 387.66L232.86 386.04M172.42 388.7L227.31 391.52M191.86 389.95L227.68 391.32M178.88 391.56L230.68 392.79M186.29 392.62L249.7 395.54M173.36 394.93L244.83 393.36M189.19 395.87L226.84 394.89M191.96 397.72L233.6 399.49M175.53 399.2L237.73 397.35M179.58 400.4L236.94 402.06M175.51 402.12L244.9 403.19M188.24 404.06L227.42 402.71M186.83 405.54L227.93 407.82M188.51 407.23L246.41 408.99M183.12 408.91L234.95 409.41M191.71 411.17L247.69 413.15M194.82 413.13L251.16 413.99M180.87 414.28L233.82 417.31M182.5 416.07L237.36 415.4M191.17 418.45L243.74 418.66M190.02 420.42L229.53 420.91" stroke="#ff2222" stroke-width="0.45" opacity="0.45" fill="none" clip-path="url(#cc14)"/></g>
<clipPath id="nu16"><ellipse cx="213.7" cy="395.2" rx="6" ry="6.5" transform="rotate(0 213.7 395.2)"/></clipPath>
<ellipse cx="213.7" cy="395.2" rx="6" ry="6.5" fill="#7ad4da" transform="rotate(0 213.7 395.2)" filter="url(#bl)"/>
<g clip-path="url(#nu16)" opacity="0.7"><path d="M208.66 401.27h1.07v1.07h-1.07zM216.23 399.96h0.8v0.8h-0.8zM212.25 395.14h1.13v1.13h-1.13zM208.58 396.4h0.81v0.81h-0.81zM213.44 395.46h1.07v1.07h-1.07zM218.85 398.89h0.79v0.79h-0.79zM219.23 394.04h0.76v0.76h-0.76zM210.15 397.97h1.29v1.29h-1.29zM214.67 389.6h1.08v1.08h-1.08z" fill="#b8f4f6"/><path d="M213.27 389.96h0.84v0.84h-0.84zM216.55 396.29h0.87v0.87h-0.87zM216.1 391h0.92v0.92h-0.92zM211.93 397.2h1.27v1.27h-1.27zM215.24 396.83h0.89v0.89h-0.89zM215.49 396.33h0.99v0.99h-0.99zM210.73 401.51h0.75v0.75h-0.75zM217.89 392.63h1.25v1.25h-1.25zM209.34 393.94h0.79v0.79h-0.79zM208.84 389.66h0.77v0.77h-0.77z" fill="#1b7c84"/></g>
</g>
<rect x="79.2" y="284.8" width="6.6" height="2.4" fill="#fff" stroke="none" stroke-width="1"/>
<rect x="160.9" y="284.8" width="6.6" height="2.4" fill="#fff" stroke="none" stroke-width="1"/>
<rect x="243.1" y="284.8" width="6.6" height="2.4" fill="#fff" stroke="none" stroke-width="1"/>
<rect x="79.2" y="354.3" width="6.6" height="2.4" fill="#fff" stroke="none" stroke-width="1"/>
<rect x="160.9" y="354.3" width="6.6" height="2.4" fill="#fff" stroke="none" stroke-width="1"/>
<rect x="243.1" y="354.3" width="6.6" height="2.4" fill="#fff" stroke="none" stroke-width="1"/>
<rect x="79.2" y="425.7" width="6.6" height="2.4" fill="#fff" stroke="none" stroke-width="1"/>
<rect x="160.9" y="425.7" width="6.6" height="2.4" fill="#fff" stroke="none" stroke-width="1"/>
<rect x="243.1" y="425.7" width="6.6" height="2.4" fill="#fff" stroke="none" stroke-width="1"/>
<text x="11" y="230" font-size="8" font-weight="bold"><tspan fill="#22dde6">DAPI</tspan><tspan fill="#fff"> / </tspan><tspan fill="#ff1414">Phalloidin</tspan></text>
<text x="3" y="450.68" font-size="11.5" font-weight="bold" text-anchor="start" fill="#111">e</text>
<rect x="41.6" y="445.4" width="12" height="6" fill="#86c7e3" stroke="#222" stroke-width="0.7"/>
<text x="58" y="451.59" font-size="9" font-weight="normal" text-anchor="start" fill="#111">Elastic</text>
<rect x="91.2" y="445.4" width="12" height="6" fill="#f7a0b9" stroke="#222" stroke-width="0.7"/>
<text x="106" y="451.59" font-size="9" font-weight="normal" text-anchor="start" fill="#111">Slow relaxing</text>
<rect x="168" y="445.4" width="12" height="6" fill="#fddc96" stroke="#222" stroke-width="0.7"/>
<text x="183" y="451.59" font-size="9" font-weight="normal" text-anchor="start" fill="#111">Fast relaxing</text>
<line x1="55.3" y1="487.4" x2="55.3" y2="602.6" stroke="#111" stroke-width="1.2"/>
<line x1="50.3" y1="602" x2="55.3" y2="602" stroke="#111" stroke-width="1.2"/>
<text x="47.3" y="605.3" font-size="9.3" font-weight="bold" text-anchor="end" fill="#111">0</text>
<line x1="50.3" y1="573.4" x2="55.3" y2="573.4" stroke="#111" stroke-width="1.2"/>
<text x="47.3" y="576.7" font-size="9.3" font-weight="bold" text-anchor="end" fill="#111">2000</text>
<line x1="50.3" y1="544.8" x2="55.3" y2="544.8" stroke="#111" stroke-width="1.2"/>
<text x="47.3" y="548.1" font-size="9.3" font-weight="bold" text-anchor="end" fill="#111">4000</text>
<line x1="50.3" y1="516.2" x2="55.3" y2="516.2" stroke="#111" stroke-width="1.2"/>
<text x="47.3" y="519.5" font-size="9.3" font-weight="bold" text-anchor="end" fill="#111">6000</text>
<line x1="50.3" y1="487.6" x2="55.3" y2="487.6" stroke="#111" stroke-width="1.2"/>
<text x="47.3" y="490.9" font-size="9.3" font-weight="bold" text-anchor="end" fill="#111">8000</text>
<line x1="62.2" y1="602.8" x2="112.4" y2="602.8" stroke="#111" stroke-width="1.5"/>
<text x="87.5" y="615.07" font-size="9.2" font-weight="bold" text-anchor="middle" fill="#111">2</text>
<line x1="120.2" y1="602.8" x2="170.9" y2="602.8" stroke="#111" stroke-width="1.5"/>
<text x="145.7" y="615.07" font-size="9.2" font-weight="bold" text-anchor="middle" fill="#111">10</text>
<line x1="178" y1="602.8" x2="228.9" y2="602.8" stroke="#111" stroke-width="1.5"/>
<text x="204" y="615.07" font-size="9.2" font-weight="bold" text-anchor="middle" fill="#111">20</text>
<text x="143.7" y="629.27" font-size="9.2" font-weight="bold" text-anchor="middle" fill="#111">Elastic modulus (kPa)</text>
<text x="10.5" y="545.67" font-size="9.2" font-weight="bold" text-anchor="middle" fill="#111" transform="rotate(-90 10.5 542.4)">Cell spreading area (&#181;m<tspan font-size="6" dy="-3">2</tspan><tspan dy="3">)</tspan></text>
<path d="M69.6 543.2C69.62 545.33 69.55 552.37 69.75 556C69.95 559.63 70.41 561.83 70.8 565C71.19 568.17 71.63 572 72.1 575C72.57 578 73.13 580.58 73.6 583C74.07 585.42 75.02 587.5 74.9 589.5C74.78 591.5 73.83 593.25 72.9 595C71.97 596.75 70 599.17 69.3 600C68.6 600.83 69.4 600.83 68.7 600C68 599.17 66.03 596.75 65.1 595C64.17 593.25 63.22 591.5 63.1 589.5C62.98 587.5 63.93 585.42 64.4 583C64.87 580.58 65.43 578 65.9 575C66.37 572 66.81 568.17 67.2 565C67.59 561.83 68.05 559.63 68.25 556C68.45 552.37 68.38 545.33 68.4 543.2Z" fill="#86c7e3" stroke="#111" stroke-width="1.35"/>
<line x1="64.88" y1="583.6" x2="73.12" y2="583.6" stroke="#222" stroke-width="0.9" stroke-dasharray="2.2 1.2"/>
<line x1="63.99" y1="590.3" x2="74.01" y2="590.3" stroke="#555" stroke-width="0.6" stroke-dasharray="0.8 1"/>
<line x1="66.85" y1="572.3" x2="71.15" y2="572.3" stroke="#555" stroke-width="0.6" stroke-dasharray="0.8 1"/>
<path d="M88.4 503.6C88.42 509.67 88.38 532.6 88.55 540C88.72 547.4 89.09 544.67 89.4 548C89.71 551.33 90.07 556 90.4 560C90.73 564 91 568.67 91.4 572C91.8 575.33 92.3 577.83 92.8 580C93.3 582.17 94.47 583 94.4 585C94.33 587 93.45 589.6 92.4 592C91.35 594.4 88.92 598.17 88.1 599.4C87.28 600.63 88.32 600.63 87.5 599.4C86.68 598.17 84.25 594.4 83.2 592C82.15 589.6 81.27 587 81.2 585C81.13 583 82.3 582.17 82.8 580C83.3 577.83 83.8 575.33 84.2 572C84.6 568.67 84.87 564 85.2 560C85.53 556 85.89 551.33 86.2 548C86.51 544.67 86.88 547.4 87.05 540C87.22 532.6 87.17 509.67 87.2 503.6Z" fill="#f7a0b9" stroke="#111" stroke-width="1.35"/>
<line x1="84.2" y1="575.4" x2="91.39" y2="575.4" stroke="#222" stroke-width="0.9" stroke-dasharray="2.2 1.2"/>
<line x1="82.09" y1="586" x2="93.51" y2="586" stroke="#555" stroke-width="0.6" stroke-dasharray="0.8 1"/>
<line x1="86.01" y1="557.5" x2="89.59" y2="557.5" stroke="#555" stroke-width="0.6" stroke-dasharray="0.8 1"/>
<path d="M108.5 531.3C108.53 533.58 108.45 541.05 108.65 545C108.85 548.95 109.36 552.17 109.7 555C110.04 557.83 110.33 559.17 110.7 562C111.07 564.83 111.27 568.25 111.9 572C112.53 575.75 114.37 581.33 114.5 584.5C114.63 587.67 113.75 588.77 112.7 591C111.65 593.23 109.05 596.75 108.2 597.9C107.35 599.05 108.45 599.05 107.6 597.9C106.75 596.75 104.15 593.23 103.1 591C102.05 588.77 101.17 587.67 101.3 584.5C101.43 581.33 103.27 575.75 103.9 572C104.53 568.25 104.73 564.83 105.1 562C105.47 559.17 105.76 557.83 106.1 555C106.44 552.17 106.95 548.95 107.15 545C107.35 541.05 107.28 533.58 107.3 531.3Z" fill="#fddc96" stroke="#111" stroke-width="1.35"/>
<line x1="102.65" y1="580.9" x2="113.15" y2="580.9" stroke="#222" stroke-width="0.9" stroke-dasharray="2.2 1.2"/>
<line x1="102.79" y1="587.7" x2="113.01" y2="587.7" stroke="#555" stroke-width="0.6" stroke-dasharray="0.8 1"/>
<line x1="105.22" y1="566" x2="110.58" y2="566" stroke="#555" stroke-width="0.6" stroke-dasharray="0.8 1"/>
<path d="M127.4 502.6C127.42 508.83 127.32 532.93 127.55 540C127.78 547.07 128.34 541.67 128.8 545C129.26 548.33 129.83 555.83 130.3 560C130.77 564.17 131.17 566.5 131.6 570C132.03 573.5 132.93 577.67 132.9 581C132.87 584.33 132.37 587 131.4 590C130.43 593 127.92 597.5 127.1 599C126.28 600.5 127.32 600.5 126.5 599C125.68 597.5 123.17 593 122.2 590C121.23 587 120.73 584.33 120.7 581C120.67 577.67 121.57 573.5 122 570C122.43 566.5 122.83 564.17 123.3 560C123.77 555.83 124.34 548.33 124.8 545C125.26 541.67 125.82 547.07 126.05 540C126.28 532.93 126.17 508.83 126.2 502.6Z" fill="#86c7e3" stroke="#111" stroke-width="1.35"/>
<line x1="122.21" y1="573.3" x2="131.39" y2="573.3" stroke="#222" stroke-width="0.9" stroke-dasharray="2.2 1.2"/>
<line x1="121.73" y1="583.6" x2="131.87" y2="583.6" stroke="#555" stroke-width="0.6" stroke-dasharray="0.8 1"/>
<line x1="124.27" y1="556.3" x2="129.33" y2="556.3" stroke="#555" stroke-width="0.6" stroke-dasharray="0.8 1"/>
<path d="M146.5 489.2C146.53 496.33 146.33 523.53 146.65 532C146.97 540.47 147.94 536.17 148.4 540C148.86 543.83 149.07 550.83 149.4 555C149.73 559.17 149.92 560.67 150.4 565C150.88 569.33 152.28 576.83 152.3 581C152.32 585.17 151.52 587 150.5 590C149.48 593 147.02 597.5 146.2 599C145.38 600.5 146.42 600.5 145.6 599C144.78 597.5 142.32 593 141.3 590C140.28 587 139.48 585.17 139.5 581C139.52 576.83 140.92 569.33 141.4 565C141.88 560.67 142.07 559.17 142.4 555C142.73 550.83 142.94 543.83 143.4 540C143.86 536.17 144.83 540.47 145.15 532C145.47 523.53 145.28 496.33 145.3 489.2Z" fill="#f7a0b9" stroke="#111" stroke-width="1.35"/>
<line x1="141.3" y1="570.9" x2="150.5" y2="570.9" stroke="#222" stroke-width="0.9" stroke-dasharray="2.2 1.2"/>
<line x1="140.62" y1="583.6" x2="151.18" y2="583.6" stroke="#555" stroke-width="0.6" stroke-dasharray="0.8 1"/>
<line x1="143.4" y1="549" x2="148.4" y2="549" stroke="#555" stroke-width="0.6" stroke-dasharray="0.8 1"/>
<path d="M165.9 508.7C165.93 514.08 165.73 534.12 166.05 541C166.37 547.88 167.26 546 167.8 550C168.34 554 168.67 559.5 169.3 565C169.93 570.5 171.5 578.67 171.6 583C171.7 587.33 170.9 588.42 169.9 591C168.9 593.58 166.42 597.25 165.6 598.5C164.78 599.75 165.82 599.75 165 598.5C164.18 597.25 161.7 593.58 160.7 591C159.7 588.42 158.9 587.33 159 583C159.1 578.67 160.67 570.5 161.3 565C161.93 559.5 162.26 554 162.8 550C163.34 546 164.23 547.88 164.55 541C164.87 534.12 164.68 514.08 164.7 508.7Z" fill="#fddc96" stroke="#111" stroke-width="1.35"/>
<line x1="160.79" y1="573.7" x2="169.81" y2="573.7" stroke="#222" stroke-width="0.9" stroke-dasharray="2.2 1.2"/>
<line x1="159.73" y1="583.6" x2="170.87" y2="583.6" stroke="#555" stroke-width="0.6" stroke-dasharray="0.8 1"/>
<line x1="162.4" y1="560" x2="168.2" y2="560" stroke="#555" stroke-width="0.6" stroke-dasharray="0.8 1"/>
<path d="M185 490.4C185.03 496.67 184.82 519.73 185.15 528C185.48 536.27 186.49 535.5 187 540C187.51 544.5 187.8 550 188.2 555C188.6 560 189.02 565.5 189.4 570C189.78 574.5 190.53 578.67 190.5 582C190.47 585.33 190.17 587.15 189.2 590C188.23 592.85 185.55 597.58 184.7 599.1C183.85 600.62 184.95 600.62 184.1 599.1C183.25 597.58 180.57 592.85 179.6 590C178.63 587.15 178.33 585.33 178.3 582C178.27 578.67 179.02 574.5 179.4 570C179.78 565.5 180.2 560 180.6 555C181 550 181.29 544.5 181.8 540C182.31 535.5 183.32 536.27 183.65 528C183.98 519.73 183.78 496.67 183.8 490.4Z" fill="#86c7e3" stroke="#111" stroke-width="1.35"/>
<line x1="179.91" y1="571" x2="188.89" y2="571" stroke="#222" stroke-width="0.9" stroke-dasharray="2.2 1.2"/>
<line x1="179.01" y1="582.7" x2="189.79" y2="582.7" stroke="#555" stroke-width="0.6" stroke-dasharray="0.8 1"/>
<line x1="181.58" y1="550.3" x2="187.22" y2="550.3" stroke="#555" stroke-width="0.6" stroke-dasharray="0.8 1"/>
<path d="M204.6 500.9C204.62 505.08 204.47 519.48 204.75 526C205.03 532.52 205.79 534.33 206.3 540C206.81 545.67 207.32 554.17 207.8 560C208.28 565.83 208.82 571.13 209.2 575C209.58 578.87 210.2 580.53 210.1 583.2C210 585.87 209.57 588.35 208.6 591C207.63 593.65 205.12 597.75 204.3 599.1C203.48 600.45 204.52 600.45 203.7 599.1C202.88 597.75 200.37 593.65 199.4 591C198.43 588.35 198 585.87 197.9 583.2C197.8 580.53 198.42 578.87 198.8 575C199.18 571.13 199.72 565.83 200.2 560C200.68 554.17 201.19 545.67 201.7 540C202.21 534.33 202.97 532.52 203.25 526C203.53 519.48 203.38 505.08 203.4 500.9Z" fill="#f7a0b9" stroke="#111" stroke-width="1.35"/>
<line x1="199.59" y1="573" x2="208.41" y2="573" stroke="#222" stroke-width="0.9" stroke-dasharray="2.2 1.2"/>
<line x1="198.65" y1="584" x2="209.35" y2="584" stroke="#555" stroke-width="0.6" stroke-dasharray="0.8 1"/>
<line x1="201.1" y1="556" x2="206.9" y2="556" stroke="#555" stroke-width="0.6" stroke-dasharray="0.8 1"/>
<path d="M223.6 496.5C223.62 503.02 223.45 527.52 223.75 535.6C224.05 543.68 224.89 540.93 225.4 545C225.91 549.07 226.37 555.5 226.8 560C227.23 564.5 227.55 568.33 228 572C228.45 575.67 229.57 578.83 229.5 582C229.43 585.17 228.63 587.87 227.6 591C226.57 594.13 224.12 599.17 223.3 600.8C222.48 602.43 223.52 602.43 222.7 600.8C221.88 599.17 219.43 594.13 218.4 591C217.37 587.87 216.57 585.17 216.5 582C216.43 578.83 217.55 575.67 218 572C218.45 568.33 218.77 564.5 219.2 560C219.63 555.5 220.09 549.07 220.6 545C221.11 540.93 221.95 543.68 222.25 535.6C222.55 527.52 222.38 503.02 222.4 496.5Z" fill="#fddc96" stroke="#111" stroke-width="1.35"/>
<line x1="218.57" y1="572.2" x2="227.43" y2="572.2" stroke="#222" stroke-width="0.9" stroke-dasharray="2.2 1.2"/>
<line x1="217.25" y1="582.7" x2="228.75" y2="582.7" stroke="#555" stroke-width="0.6" stroke-dasharray="0.8 1"/>
<line x1="220.45" y1="553" x2="225.55" y2="553" stroke="#555" stroke-width="0.6" stroke-dasharray="0.8 1"/>
<path d="M67.4 469.3V466.5H184.4V469.3" fill="none" stroke="#333" stroke-width="0.8"/>
<line x1="126.8" y1="466.5" x2="126.8" y2="469.3" stroke="#333" stroke-width="0.8"/>
<path d="M120.34 460.55L120.95 462.01L122.53 462.14L121.33 463.17L121.69 464.71L120.34 463.89L118.99 464.71L119.36 463.17L118.15 462.14L119.73 462.01ZM124.78 460.55L125.39 462.01L126.97 462.14L125.76 463.17L126.13 464.71L124.78 463.89L123.43 464.71L123.8 463.17L122.59 462.14L124.17 462.01ZM129.22 460.55L129.83 462.01L131.41 462.14L130.2 463.17L130.57 464.71L129.22 463.89L127.87 464.71L128.24 463.17L127.03 462.14L128.61 462.01ZM133.66 460.55L134.27 462.01L135.85 462.14L134.64 463.17L135.01 464.71L133.66 463.89L132.31 464.71L132.67 463.17L131.47 462.14L133.05 462.01Z" fill="#222"/>
<path d="M106.4 476.1V473.3H223V476.1" fill="none" stroke="#333" stroke-width="0.8"/>
<line x1="165" y1="473.3" x2="165" y2="476.1" stroke="#333" stroke-width="0.8"/>
<path d="M159.14 467.25L159.75 468.71L161.33 468.84L160.13 469.87L160.49 471.41L159.14 470.59L157.79 471.41L158.16 469.87L156.95 468.84L158.53 468.71ZM163.58 467.25L164.19 468.71L165.77 468.84L164.56 469.87L164.93 471.41L163.58 470.59L162.23 471.41L162.6 469.87L161.39 468.84L162.97 468.71ZM168.02 467.25L168.63 468.71L170.21 468.84L169 469.87L169.37 471.41L168.02 470.59L166.67 471.41L167.04 469.87L165.83 468.84L167.41 468.71ZM172.46 467.25L173.07 468.71L174.65 468.84L173.44 469.87L173.81 471.41L172.46 470.59L171.11 471.41L171.47 469.87L170.27 468.84L171.85 468.71Z" fill="#222"/>
<path d="M87.5 485V482.4H164.4V485" fill="none" stroke="#333" stroke-width="0.8"/>
<line x1="145.7" y1="482.4" x2="145.7" y2="485" stroke="#333" stroke-width="0.8"/>
<path d="M113.16 476.75L113.77 478.21L115.35 478.34L114.15 479.37L114.51 480.91L113.16 480.09L111.81 480.91L112.18 479.37L110.97 478.34L112.55 478.21ZM117.6 476.75L118.21 478.21L119.79 478.34L118.58 479.37L118.95 480.91L117.6 480.09L116.25 480.91L116.62 479.37L115.41 478.34L116.99 478.21ZM122.04 476.75L122.65 478.21L124.23 478.34L123.02 479.37L123.39 480.91L122.04 480.09L120.69 480.91L121.05 479.37L119.85 478.34L121.43 478.21Z" fill="#222"/>
<path d="M153.18 476.75L153.79 478.21L155.37 478.34L154.16 479.37L154.53 480.91L153.18 480.09L151.83 480.91L152.2 479.37L150.99 478.34L152.57 478.21ZM157.62 476.75L158.23 478.21L159.81 478.34L158.6 479.37L158.97 480.91L157.62 480.09L156.27 480.91L156.64 479.37L155.43 478.34L157.01 478.21Z" fill="#222"/>
<path d="M67.4 496.8V494.2H87.5V496.8" fill="none" stroke="#333" stroke-width="0.8"/>
<path d="M87.5 496.8V494.2H106.4V496.8" fill="none" stroke="#333" stroke-width="0.8"/>
<path d="M70.74 488.45L71.35 489.91L72.93 490.04L71.73 491.07L72.09 492.61L70.74 491.79L69.39 492.61L69.76 491.07L68.55 490.04L70.13 489.91ZM75.18 488.45L75.79 489.91L77.37 490.04L76.16 491.07L76.53 492.61L75.18 491.79L73.83 492.61L74.2 491.07L72.99 490.04L74.57 489.91ZM79.62 488.45L80.23 489.91L81.81 490.04L80.6 491.07L80.97 492.61L79.62 491.79L78.27 492.61L78.64 491.07L77.43 490.04L79.01 489.91ZM84.06 488.45L84.67 489.91L86.25 490.04L85.04 491.07L85.41 492.61L84.06 491.79L82.71 492.61L83.07 491.07L81.87 490.04L83.45 489.91Z" fill="#222"/>
<path d="M90.34 488.45L90.95 489.91L92.53 490.04L91.33 491.07L91.69 492.61L90.34 491.79L88.99 492.61L89.36 491.07L88.15 490.04L89.73 489.91ZM94.78 488.45L95.39 489.91L96.97 490.04L95.76 491.07L96.13 492.61L94.78 491.79L93.43 492.61L93.8 491.07L92.59 490.04L94.17 489.91ZM99.22 488.45L99.83 489.91L101.41 490.04L100.2 491.07L100.57 492.61L99.22 491.79L97.87 492.61L98.24 491.07L97.03 490.04L98.61 489.91ZM103.66 488.45L104.27 489.91L105.85 490.04L104.64 491.07L105.01 492.61L103.66 491.79L102.31 492.61L102.67 491.07L101.47 490.04L103.05 489.91Z" fill="#222"/>
<line x1="186.4" y1="485.3" x2="224" y2="485.3" stroke="#333" stroke-width="0.8"/>
<text x="205.2" y="484.22" font-size="8.5" font-weight="normal" text-anchor="middle" fill="#222">ns</text>
<text x="263.4" y="221.98" font-size="11.5" font-weight="bold" text-anchor="start" fill="#111">f</text>
<text x="387.8" y="214.67" font-size="9.2" font-weight="bold" text-anchor="middle" fill="#111">DAPI, orthogonal view</text>
<text x="330.4" y="227.24" font-size="8" font-weight="bold" text-anchor="middle" fill="#111">Cell 1</text>
<text x="384.9" y="227.24" font-size="8" font-weight="bold" text-anchor="middle" fill="#111">Cell 2</text>
<text x="439.7" y="227.24" font-size="8" font-weight="bold" text-anchor="middle" fill="#111">Cell 3</text>
<line x1="270.8" y1="230.7" x2="270.8" y2="343.9" stroke="#333" stroke-width="0.8"/>
<text x="264.4" y="291.07" font-size="9.2" font-weight="bold" text-anchor="middle" fill="#111" transform="rotate(-90 264.4 287.8)">2 kPa</text>
<text x="289" y="250.14" font-size="8" font-weight="bold" text-anchor="middle" fill="#111">Elastic</text>
<rect x="307.4" y="229.2" width="50" height="36.2" fill="#000" stroke="none" stroke-width="1"/>
<path d="M317.9 244.95h1.9v1.9h-1.9zM321.4 246.7h1.9v1.9h-1.9zM324.9 250.2h1.9v1.9h-1.9zM326.65 241.45h1.9v1.9h-1.9zM326.65 243.2h1.9v1.9h-1.9zM326.65 248.45h1.9v1.9h-1.9zM328.4 230.95h1.9v1.9h-1.9zM328.4 241.45h1.9v1.9h-1.9zM328.4 243.2h1.9v1.9h-1.9zM328.4 244.95h1.9v1.9h-1.9zM330.15 255.45h1.9v1.9h-1.9zM331.9 250.2h1.9v1.9h-1.9zM331.9 251.95h1.9v1.9h-1.9zM331.9 258.95h1.9v1.9h-1.9zM335.4 243.2h1.9v1.9h-1.9zM335.4 253.7h1.9v1.9h-1.9zM335.4 255.45h1.9v1.9h-1.9zM337.15 236.2h1.9v1.9h-1.9zM340.65 250.2h1.9v1.9h-1.9zM342.4 239.7h1.9v1.9h-1.9zM345.9 262.45h1.9v1.9h-1.9zM347.65 253.7h1.9v1.9h-1.9zM349.4 257.2h1.9v1.9h-1.9zM351.15 236.2h1.9v1.9h-1.9z" fill="#063d40"/>
<path d="M316.15 239.7h1.9v1.9h-1.9zM317.9 243.2h1.9v1.9h-1.9zM317.9 246.7h1.9v1.9h-1.9zM319.65 246.7h1.9v1.9h-1.9zM319.65 248.45h1.9v1.9h-1.9zM321.4 244.95h1.9v1.9h-1.9zM321.4 248.45h1.9v1.9h-1.9zM326.65 246.7h1.9v1.9h-1.9zM328.4 250.2h1.9v1.9h-1.9zM330.15 251.95h1.9v1.9h-1.9zM331.9 243.2h1.9v1.9h-1.9zM331.9 248.45h1.9v1.9h-1.9zM333.65 243.2h1.9v1.9h-1.9zM333.65 246.7h1.9v1.9h-1.9zM333.65 251.95h1.9v1.9h-1.9zM335.4 248.45h1.9v1.9h-1.9zM335.4 251.95h1.9v1.9h-1.9zM337.15 239.7h1.9v1.9h-1.9zM337.15 243.2h1.9v1.9h-1.9zM337.15 248.45h1.9v1.9h-1.9zM338.9 243.2h1.9v1.9h-1.9zM338.9 250.2h1.9v1.9h-1.9zM340.65 237.95h1.9v1.9h-1.9zM340.65 243.2h1.9v1.9h-1.9zM340.65 244.95h1.9v1.9h-1.9zM340.65 246.7h1.9v1.9h-1.9zM340.65 248.45h1.9v1.9h-1.9zM342.4 250.2h1.9v1.9h-1.9z" fill="#0b959b"/>
<path d="M317.9 248.45h1.9v1.9h-1.9zM319.65 243.2h1.9v1.9h-1.9zM323.15 248.45h1.9v1.9h-1.9zM324.9 241.45h1.9v1.9h-1.9zM324.9 244.95h1.9v1.9h-1.9zM324.9 255.45h1.9v1.9h-1.9zM326.65 244.95h1.9v1.9h-1.9zM328.4 248.45h1.9v1.9h-1.9zM330.15 246.7h1.9v1.9h-1.9zM331.9 241.45h1.9v1.9h-1.9zM333.65 244.95h1.9v1.9h-1.9zM333.65 248.45h1.9v1.9h-1.9zM335.4 241.45h1.9v1.9h-1.9zM335.4 244.95h1.9v1.9h-1.9zM337.15 246.7h1.9v1.9h-1.9zM344.15 250.2h1.9v1.9h-1.9z" fill="#13cdd4"/>
<rect x="362.1" y="229.2" width="49.6" height="36.2" fill="#000" stroke="none" stroke-width="1"/>
<path d="M363.85 255.45h1.9v1.9h-1.9zM365.6 230.95h1.9v1.9h-1.9zM367.35 255.45h1.9v1.9h-1.9zM369.1 253.7h1.9v1.9h-1.9zM372.6 253.7h1.9v1.9h-1.9zM374.35 229.2h1.9v1.9h-1.9zM374.35 239.7h1.9v1.9h-1.9zM374.35 258.95h1.9v1.9h-1.9zM376.1 232.7h1.9v1.9h-1.9zM376.1 234.45h1.9v1.9h-1.9zM376.1 243.2h1.9v1.9h-1.9zM376.1 260.7h1.9v1.9h-1.9zM381.35 236.2h1.9v1.9h-1.9zM381.35 258.95h1.9v1.9h-1.9zM383.1 246.7h1.9v1.9h-1.9zM384.85 243.2h1.9v1.9h-1.9zM384.85 262.45h1.9v1.9h-1.9zM386.6 237.95h1.9v1.9h-1.9zM386.6 250.2h1.9v1.9h-1.9zM388.35 251.95h1.9v1.9h-1.9zM388.35 258.95h1.9v1.9h-1.9zM390.1 229.2h1.9v1.9h-1.9zM390.1 243.2h1.9v1.9h-1.9zM391.85 239.7h1.9v1.9h-1.9zM393.6 234.45h1.9v1.9h-1.9zM393.6 253.7h1.9v1.9h-1.9zM395.35 239.7h1.9v1.9h-1.9zM395.35 244.95h1.9v1.9h-1.9zM395.35 248.45h1.9v1.9h-1.9zM397.1 251.95h1.9v1.9h-1.9zM398.85 243.2h1.9v1.9h-1.9zM398.85 255.45h1.9v1.9h-1.9zM400.6 230.95h1.9v1.9h-1.9zM402.35 234.45h1.9v1.9h-1.9zM402.35 262.45h1.9v1.9h-1.9zM407.6 244.95h1.9v1.9h-1.9zM409.35 232.7h1.9v1.9h-1.9zM409.35 250.2h1.9v1.9h-1.9z" fill="#063d40"/>
<path d="M369.1 241.45h1.9v1.9h-1.9zM374.35 248.45h1.9v1.9h-1.9zM379.6 232.7h1.9v1.9h-1.9zM379.6 241.45h1.9v1.9h-1.9zM379.6 243.2h1.9v1.9h-1.9zM379.6 246.7h1.9v1.9h-1.9zM381.35 241.45h1.9v1.9h-1.9zM381.35 244.95h1.9v1.9h-1.9zM381.35 251.95h1.9v1.9h-1.9zM383.1 239.7h1.9v1.9h-1.9zM383.1 248.45h1.9v1.9h-1.9zM383.1 250.2h1.9v1.9h-1.9zM383.1 251.95h1.9v1.9h-1.9zM383.1 257.2h1.9v1.9h-1.9zM384.85 234.45h1.9v1.9h-1.9zM384.85 241.45h1.9v1.9h-1.9zM384.85 244.95h1.9v1.9h-1.9zM384.85 250.2h1.9v1.9h-1.9zM386.6 239.7h1.9v1.9h-1.9zM386.6 248.45h1.9v1.9h-1.9zM386.6 253.7h1.9v1.9h-1.9zM388.35 243.2h1.9v1.9h-1.9zM388.35 248.45h1.9v1.9h-1.9zM388.35 250.2h1.9v1.9h-1.9zM388.35 253.7h1.9v1.9h-1.9zM390.1 239.7h1.9v1.9h-1.9zM390.1 241.45h1.9v1.9h-1.9zM390.1 244.95h1.9v1.9h-1.9zM390.1 248.45h1.9v1.9h-1.9zM391.85 234.45h1.9v1.9h-1.9zM391.85 241.45h1.9v1.9h-1.9zM393.6 239.7h1.9v1.9h-1.9zM393.6 243.2h1.9v1.9h-1.9zM393.6 244.95h1.9v1.9h-1.9zM393.6 246.7h1.9v1.9h-1.9zM397.1 229.2h1.9v1.9h-1.9zM397.1 239.7h1.9v1.9h-1.9zM397.1 243.2h1.9v1.9h-1.9zM397.1 244.95h1.9v1.9h-1.9zM397.1 246.7h1.9v1.9h-1.9zM398.85 239.7h1.9v1.9h-1.9zM400.6 246.7h1.9v1.9h-1.9zM405.85 241.45h1.9v1.9h-1.9zM405.85 248.45h1.9v1.9h-1.9z" fill="#0b959b"/>
<path d="M376.1 244.95h1.9v1.9h-1.9zM376.1 248.45h1.9v1.9h-1.9zM376.1 253.7h1.9v1.9h-1.9zM377.85 243.2h1.9v1.9h-1.9zM379.6 248.45h1.9v1.9h-1.9zM381.35 237.95h1.9v1.9h-1.9zM383.1 244.95h1.9v1.9h-1.9zM384.85 248.45h1.9v1.9h-1.9zM386.6 241.45h1.9v1.9h-1.9zM386.6 244.95h1.9v1.9h-1.9zM386.6 246.7h1.9v1.9h-1.9zM388.35 232.7h1.9v1.9h-1.9zM388.35 241.45h1.9v1.9h-1.9zM390.1 246.7h1.9v1.9h-1.9zM391.85 236.2h1.9v1.9h-1.9zM391.85 244.95h1.9v1.9h-1.9zM391.85 251.95h1.9v1.9h-1.9zM393.6 237.95h1.9v1.9h-1.9zM393.6 248.45h1.9v1.9h-1.9zM395.35 236.2h1.9v1.9h-1.9zM395.35 246.7h1.9v1.9h-1.9zM395.35 250.2h1.9v1.9h-1.9zM395.35 251.95h1.9v1.9h-1.9zM400.6 250.2h1.9v1.9h-1.9zM400.6 255.45h1.9v1.9h-1.9z" fill="#13cdd4"/>
<path d="M384.85 246.7h1.9v1.9h-1.9zM391.85 243.2h1.9v1.9h-1.9zM395.35 243.2h1.9v1.9h-1.9z" fill="#30f2f7"/>
<rect x="416.5" y="229.2" width="50.4" height="36.2" fill="#000" stroke="none" stroke-width="1"/>
<path d="M420 239.7h1.9v1.9h-1.9zM425.25 236.2h1.9v1.9h-1.9zM425.25 246.7h1.9v1.9h-1.9zM425.25 251.95h1.9v1.9h-1.9zM427 241.45h1.9v1.9h-1.9zM427 244.95h1.9v1.9h-1.9zM428.75 230.95h1.9v1.9h-1.9zM428.75 237.95h1.9v1.9h-1.9zM439.25 236.2h1.9v1.9h-1.9zM439.25 244.95h1.9v1.9h-1.9zM439.25 248.45h1.9v1.9h-1.9zM441 244.95h1.9v1.9h-1.9zM442.75 230.95h1.9v1.9h-1.9zM442.75 241.45h1.9v1.9h-1.9zM442.75 243.2h1.9v1.9h-1.9zM444.5 234.45h1.9v1.9h-1.9zM444.5 239.7h1.9v1.9h-1.9zM444.5 241.45h1.9v1.9h-1.9zM453.25 248.45h1.9v1.9h-1.9zM462 243.2h1.9v1.9h-1.9zM462 250.2h1.9v1.9h-1.9z" fill="#063d40"/>
<path d="M416.5 236.2h1.9v1.9h-1.9zM416.5 241.45h1.9v1.9h-1.9zM418.25 250.2h1.9v1.9h-1.9zM420 246.7h1.9v1.9h-1.9zM421.75 239.7h1.9v1.9h-1.9zM421.75 246.7h1.9v1.9h-1.9zM425.25 243.2h1.9v1.9h-1.9zM425.25 244.95h1.9v1.9h-1.9zM427 237.95h1.9v1.9h-1.9zM427 246.7h1.9v1.9h-1.9zM428.75 239.7h1.9v1.9h-1.9zM428.75 243.2h1.9v1.9h-1.9zM428.75 246.7h1.9v1.9h-1.9zM430.5 241.45h1.9v1.9h-1.9zM430.5 244.95h1.9v1.9h-1.9zM430.5 246.7h1.9v1.9h-1.9zM430.5 248.45h1.9v1.9h-1.9zM430.5 250.2h1.9v1.9h-1.9zM432.25 237.95h1.9v1.9h-1.9zM432.25 241.45h1.9v1.9h-1.9zM432.25 243.2h1.9v1.9h-1.9zM432.25 246.7h1.9v1.9h-1.9zM434 239.7h1.9v1.9h-1.9zM434 241.45h1.9v1.9h-1.9zM434 243.2h1.9v1.9h-1.9zM434 244.95h1.9v1.9h-1.9zM435.75 234.45h1.9v1.9h-1.9zM435.75 243.2h1.9v1.9h-1.9zM435.75 251.95h1.9v1.9h-1.9zM437.5 239.7h1.9v1.9h-1.9zM437.5 248.45h1.9v1.9h-1.9zM437.5 250.2h1.9v1.9h-1.9zM439.25 241.45h1.9v1.9h-1.9zM441 234.45h1.9v1.9h-1.9zM441 241.45h1.9v1.9h-1.9zM441 248.45h1.9v1.9h-1.9zM441 251.95h1.9v1.9h-1.9zM441 253.7h1.9v1.9h-1.9zM442.75 237.95h1.9v1.9h-1.9zM442.75 244.95h1.9v1.9h-1.9zM442.75 253.7h1.9v1.9h-1.9zM444.5 246.7h1.9v1.9h-1.9zM446.25 248.45h1.9v1.9h-1.9zM446.25 250.2h1.9v1.9h-1.9zM448 241.45h1.9v1.9h-1.9zM448 248.45h1.9v1.9h-1.9zM449.75 244.95h1.9v1.9h-1.9zM451.5 239.7h1.9v1.9h-1.9zM453.25 244.95h1.9v1.9h-1.9zM456.75 248.45h1.9v1.9h-1.9z" fill="#0b959b"/>
<path d="M418.25 248.45h1.9v1.9h-1.9zM421.75 241.45h1.9v1.9h-1.9zM421.75 244.95h1.9v1.9h-1.9zM423.5 241.45h1.9v1.9h-1.9zM423.5 243.2h1.9v1.9h-1.9zM423.5 246.7h1.9v1.9h-1.9zM425.25 248.45h1.9v1.9h-1.9zM427 243.2h1.9v1.9h-1.9zM427 250.2h1.9v1.9h-1.9zM428.75 244.95h1.9v1.9h-1.9zM430.5 237.95h1.9v1.9h-1.9zM430.5 239.7h1.9v1.9h-1.9zM430.5 243.2h1.9v1.9h-1.9zM432.25 251.95h1.9v1.9h-1.9zM434 246.7h1.9v1.9h-1.9zM434 250.2h1.9v1.9h-1.9zM435.75 241.45h1.9v1.9h-1.9zM435.75 244.95h1.9v1.9h-1.9zM435.75 248.45h1.9v1.9h-1.9zM435.75 250.2h1.9v1.9h-1.9zM437.5 241.45h1.9v1.9h-1.9zM437.5 244.95h1.9v1.9h-1.9zM437.5 246.7h1.9v1.9h-1.9zM439.25 239.7h1.9v1.9h-1.9zM439.25 246.7h1.9v1.9h-1.9zM441 243.2h1.9v1.9h-1.9zM441 250.2h1.9v1.9h-1.9zM442.75 246.7h1.9v1.9h-1.9zM442.75 250.2h1.9v1.9h-1.9zM444.5 243.2h1.9v1.9h-1.9zM444.5 244.95h1.9v1.9h-1.9zM444.5 248.45h1.9v1.9h-1.9zM446.25 243.2h1.9v1.9h-1.9zM446.25 244.95h1.9v1.9h-1.9zM448 244.95h1.9v1.9h-1.9zM449.75 246.7h1.9v1.9h-1.9zM455 246.7h1.9v1.9h-1.9z" fill="#13cdd4"/>
<path d="M428.75 241.45h1.9v1.9h-1.9zM432.25 244.95h1.9v1.9h-1.9zM434 248.45h1.9v1.9h-1.9zM435.75 239.7h1.9v1.9h-1.9zM435.75 246.7h1.9v1.9h-1.9zM437.5 243.2h1.9v1.9h-1.9zM439.25 243.2h1.9v1.9h-1.9zM442.75 248.45h1.9v1.9h-1.9z" fill="#30f2f7"/>
<text x="289" y="285.74" font-size="8" font-weight="bold" text-anchor="middle" fill="#111">Slow</text>
<text x="289" y="295.34" font-size="8" font-weight="bold" text-anchor="middle" fill="#111">relaxing</text>
<rect x="307.4" y="269.6" width="50" height="36.2" fill="#000" stroke="none" stroke-width="1"/>
<path d="M307.4 280.1h1.9v1.9h-1.9zM307.4 299.35h1.9v1.9h-1.9zM309.15 285.35h1.9v1.9h-1.9zM309.15 297.6h1.9v1.9h-1.9zM310.9 274.85h1.9v1.9h-1.9zM310.9 288.85h1.9v1.9h-1.9zM310.9 294.1h1.9v1.9h-1.9zM316.15 281.85h1.9v1.9h-1.9zM316.15 299.35h1.9v1.9h-1.9zM319.65 281.85h1.9v1.9h-1.9zM319.65 301.1h1.9v1.9h-1.9zM321.4 287.1h1.9v1.9h-1.9zM323.15 276.6h1.9v1.9h-1.9zM326.65 283.6h1.9v1.9h-1.9zM328.4 301.1h1.9v1.9h-1.9zM330.15 281.85h1.9v1.9h-1.9zM331.9 299.35h1.9v1.9h-1.9zM333.65 276.6h1.9v1.9h-1.9zM337.15 273.1h1.9v1.9h-1.9zM337.15 281.85h1.9v1.9h-1.9zM337.15 285.35h1.9v1.9h-1.9zM337.15 290.6h1.9v1.9h-1.9zM337.15 301.1h1.9v1.9h-1.9zM340.65 294.1h1.9v1.9h-1.9zM342.4 269.6h1.9v1.9h-1.9zM344.15 281.85h1.9v1.9h-1.9zM347.65 290.6h1.9v1.9h-1.9zM349.4 301.1h1.9v1.9h-1.9zM354.65 287.1h1.9v1.9h-1.9z" fill="#063d40"/>
<path d="M310.9 281.85h1.9v1.9h-1.9zM314.4 280.1h1.9v1.9h-1.9zM314.4 294.1h1.9v1.9h-1.9zM314.4 297.6h1.9v1.9h-1.9zM316.15 276.6h1.9v1.9h-1.9zM316.15 288.85h1.9v1.9h-1.9zM317.9 276.6h1.9v1.9h-1.9zM317.9 278.35h1.9v1.9h-1.9zM317.9 281.85h1.9v1.9h-1.9zM317.9 283.6h1.9v1.9h-1.9zM319.65 276.6h1.9v1.9h-1.9zM319.65 280.1h1.9v1.9h-1.9zM319.65 287.1h1.9v1.9h-1.9zM319.65 290.6h1.9v1.9h-1.9zM319.65 292.35h1.9v1.9h-1.9zM319.65 295.85h1.9v1.9h-1.9zM323.15 280.1h1.9v1.9h-1.9zM323.15 281.85h1.9v1.9h-1.9zM323.15 288.85h1.9v1.9h-1.9zM323.15 292.35h1.9v1.9h-1.9zM323.15 301.1h1.9v1.9h-1.9zM324.9 269.6h1.9v1.9h-1.9zM324.9 281.85h1.9v1.9h-1.9zM324.9 288.85h1.9v1.9h-1.9zM324.9 295.85h1.9v1.9h-1.9zM326.65 271.35h1.9v1.9h-1.9zM326.65 276.6h1.9v1.9h-1.9zM326.65 285.35h1.9v1.9h-1.9zM326.65 288.85h1.9v1.9h-1.9zM326.65 292.35h1.9v1.9h-1.9zM326.65 295.85h1.9v1.9h-1.9zM326.65 301.1h1.9v1.9h-1.9zM328.4 273.1h1.9v1.9h-1.9zM328.4 280.1h1.9v1.9h-1.9zM328.4 281.85h1.9v1.9h-1.9zM328.4 283.6h1.9v1.9h-1.9zM328.4 285.35h1.9v1.9h-1.9zM328.4 290.6h1.9v1.9h-1.9zM328.4 292.35h1.9v1.9h-1.9zM328.4 294.1h1.9v1.9h-1.9zM328.4 295.85h1.9v1.9h-1.9zM330.15 278.35h1.9v1.9h-1.9zM330.15 285.35h1.9v1.9h-1.9zM330.15 292.35h1.9v1.9h-1.9zM330.15 297.6h1.9v1.9h-1.9zM330.15 299.35h1.9v1.9h-1.9zM331.9 271.35h1.9v1.9h-1.9zM331.9 274.85h1.9v1.9h-1.9zM331.9 278.35h1.9v1.9h-1.9zM331.9 280.1h1.9v1.9h-1.9zM331.9 281.85h1.9v1.9h-1.9zM331.9 283.6h1.9v1.9h-1.9zM331.9 287.1h1.9v1.9h-1.9zM331.9 288.85h1.9v1.9h-1.9zM331.9 292.35h1.9v1.9h-1.9zM331.9 301.1h1.9v1.9h-1.9zM333.65 274.85h1.9v1.9h-1.9zM333.65 281.85h1.9v1.9h-1.9zM333.65 288.85h1.9v1.9h-1.9zM333.65 290.6h1.9v1.9h-1.9zM333.65 292.35h1.9v1.9h-1.9zM333.65 294.1h1.9v1.9h-1.9zM333.65 295.85h1.9v1.9h-1.9zM333.65 297.6h1.9v1.9h-1.9zM333.65 299.35h1.9v1.9h-1.9zM335.4 278.35h1.9v1.9h-1.9zM335.4 281.85h1.9v1.9h-1.9zM335.4 285.35h1.9v1.9h-1.9zM335.4 287.1h1.9v1.9h-1.9zM335.4 288.85h1.9v1.9h-1.9zM335.4 294.1h1.9v1.9h-1.9zM335.4 295.85h1.9v1.9h-1.9zM335.4 297.6h1.9v1.9h-1.9zM335.4 299.35h1.9v1.9h-1.9zM337.15 278.35h1.9v1.9h-1.9zM337.15 283.6h1.9v1.9h-1.9zM337.15 287.1h1.9v1.9h-1.9zM337.15 288.85h1.9v1.9h-1.9zM338.9 280.1h1.9v1.9h-1.9zM338.9 299.35h1.9v1.9h-1.9zM340.65 273.1h1.9v1.9h-1.9zM340.65 276.6h1.9v1.9h-1.9zM340.65 281.85h1.9v1.9h-1.9zM340.65 299.35h1.9v1.9h-1.9zM342.4 278.35h1.9v1.9h-1.9zM342.4 281.85h1.9v1.9h-1.9zM342.4 283.6h1.9v1.9h-1.9zM342.4 294.1h1.9v1.9h-1.9zM342.4 297.6h1.9v1.9h-1.9zM344.15 276.6h1.9v1.9h-1.9zM345.9 273.1h1.9v1.9h-1.9zM345.9 287.1h1.9v1.9h-1.9zM345.9 292.35h1.9v1.9h-1.9zM345.9 295.85h1.9v1.9h-1.9zM349.4 283.6h1.9v1.9h-1.9z" fill="#0b959b"/>
<path d="M317.9 292.35h1.9v1.9h-1.9zM319.65 285.35h1.9v1.9h-1.9zM321.4 285.35h1.9v1.9h-1.9zM321.4 290.6h1.9v1.9h-1.9zM321.4 292.35h1.9v1.9h-1.9zM323.15 283.6h1.9v1.9h-1.9zM323.15 287.1h1.9v1.9h-1.9zM323.15 290.6h1.9v1.9h-1.9zM323.15 295.85h1.9v1.9h-1.9zM324.9 280.1h1.9v1.9h-1.9zM324.9 283.6h1.9v1.9h-1.9zM324.9 287.1h1.9v1.9h-1.9zM324.9 290.6h1.9v1.9h-1.9zM326.65 280.1h1.9v1.9h-1.9zM326.65 287.1h1.9v1.9h-1.9zM326.65 290.6h1.9v1.9h-1.9zM326.65 297.6h1.9v1.9h-1.9zM326.65 299.35h1.9v1.9h-1.9zM328.4 276.6h1.9v1.9h-1.9zM328.4 297.6h1.9v1.9h-1.9zM330.15 271.35h1.9v1.9h-1.9zM330.15 276.6h1.9v1.9h-1.9zM330.15 290.6h1.9v1.9h-1.9zM330.15 295.85h1.9v1.9h-1.9zM331.9 276.6h1.9v1.9h-1.9zM331.9 285.35h1.9v1.9h-1.9zM331.9 294.1h1.9v1.9h-1.9zM331.9 302.85h1.9v1.9h-1.9zM333.65 278.35h1.9v1.9h-1.9zM333.65 280.1h1.9v1.9h-1.9zM333.65 283.6h1.9v1.9h-1.9zM333.65 285.35h1.9v1.9h-1.9zM333.65 287.1h1.9v1.9h-1.9zM335.4 280.1h1.9v1.9h-1.9zM335.4 283.6h1.9v1.9h-1.9zM335.4 292.35h1.9v1.9h-1.9zM335.4 302.85h1.9v1.9h-1.9zM337.15 295.85h1.9v1.9h-1.9zM337.15 297.6h1.9v1.9h-1.9zM337.15 302.85h1.9v1.9h-1.9zM338.9 283.6h1.9v1.9h-1.9zM338.9 287.1h1.9v1.9h-1.9zM338.9 288.85h1.9v1.9h-1.9zM338.9 292.35h1.9v1.9h-1.9zM340.65 280.1h1.9v1.9h-1.9zM340.65 285.35h1.9v1.9h-1.9zM340.65 287.1h1.9v1.9h-1.9zM340.65 288.85h1.9v1.9h-1.9zM340.65 290.6h1.9v1.9h-1.9zM342.4 288.85h1.9v1.9h-1.9zM342.4 299.35h1.9v1.9h-1.9zM344.15 283.6h1.9v1.9h-1.9zM344.15 288.85h1.9v1.9h-1.9zM344.15 295.85h1.9v1.9h-1.9zM345.9 290.6h1.9v1.9h-1.9zM345.9 302.85h1.9v1.9h-1.9z" fill="#13cdd4"/>
<path d="M319.65 283.6h1.9v1.9h-1.9zM324.9 278.35h1.9v1.9h-1.9zM324.9 285.35h1.9v1.9h-1.9zM324.9 292.35h1.9v1.9h-1.9zM328.4 278.35h1.9v1.9h-1.9zM328.4 287.1h1.9v1.9h-1.9zM328.4 288.85h1.9v1.9h-1.9zM330.15 283.6h1.9v1.9h-1.9zM330.15 287.1h1.9v1.9h-1.9zM330.15 288.85h1.9v1.9h-1.9zM330.15 294.1h1.9v1.9h-1.9zM331.9 290.6h1.9v1.9h-1.9zM331.9 295.85h1.9v1.9h-1.9zM331.9 297.6h1.9v1.9h-1.9zM335.4 290.6h1.9v1.9h-1.9zM337.15 292.35h1.9v1.9h-1.9z" fill="#30f2f7"/>
<rect x="362.1" y="269.6" width="49.6" height="36.2" fill="#000" stroke="none" stroke-width="1"/>
<path d="M363.85 302.85h1.9v1.9h-1.9zM365.6 301.1h1.9v1.9h-1.9zM367.35 288.85h1.9v1.9h-1.9zM367.35 302.85h1.9v1.9h-1.9zM369.1 281.85h1.9v1.9h-1.9zM369.1 290.6h1.9v1.9h-1.9zM370.85 281.85h1.9v1.9h-1.9zM370.85 287.1h1.9v1.9h-1.9zM370.85 288.85h1.9v1.9h-1.9zM372.6 273.1h1.9v1.9h-1.9zM374.35 271.35h1.9v1.9h-1.9zM374.35 283.6h1.9v1.9h-1.9zM376.1 285.35h1.9v1.9h-1.9zM377.85 274.85h1.9v1.9h-1.9zM377.85 283.6h1.9v1.9h-1.9zM377.85 301.1h1.9v1.9h-1.9zM386.6 274.85h1.9v1.9h-1.9zM386.6 290.6h1.9v1.9h-1.9zM388.35 273.1h1.9v1.9h-1.9zM388.35 288.85h1.9v1.9h-1.9zM390.1 281.85h1.9v1.9h-1.9zM393.6 295.85h1.9v1.9h-1.9zM395.35 285.35h1.9v1.9h-1.9zM395.35 287.1h1.9v1.9h-1.9zM397.1 280.1h1.9v1.9h-1.9zM397.1 297.6h1.9v1.9h-1.9zM397.1 299.35h1.9v1.9h-1.9zM398.85 283.6h1.9v1.9h-1.9zM398.85 302.85h1.9v1.9h-1.9zM400.6 276.6h1.9v1.9h-1.9zM402.35 281.85h1.9v1.9h-1.9zM404.1 285.35h1.9v1.9h-1.9zM407.6 281.85h1.9v1.9h-1.9zM409.35 302.85h1.9v1.9h-1.9z" fill="#063d40"/>
<path d="M362.1 292.35h1.9v1.9h-1.9zM363.85 280.1h1.9v1.9h-1.9zM365.6 278.35h1.9v1.9h-1.9zM365.6 294.1h1.9v1.9h-1.9zM367.35 278.35h1.9v1.9h-1.9zM367.35 281.85h1.9v1.9h-1.9zM367.35 285.35h1.9v1.9h-1.9zM370.85 280.1h1.9v1.9h-1.9zM370.85 283.6h1.9v1.9h-1.9zM370.85 292.35h1.9v1.9h-1.9zM370.85 294.1h1.9v1.9h-1.9zM372.6 283.6h1.9v1.9h-1.9zM372.6 287.1h1.9v1.9h-1.9zM372.6 288.85h1.9v1.9h-1.9zM372.6 292.35h1.9v1.9h-1.9zM372.6 294.1h1.9v1.9h-1.9zM374.35 278.35h1.9v1.9h-1.9zM374.35 287.1h1.9v1.9h-1.9zM374.35 294.1h1.9v1.9h-1.9zM374.35 297.6h1.9v1.9h-1.9zM376.1 281.85h1.9v1.9h-1.9zM376.1 283.6h1.9v1.9h-1.9zM377.85 280.1h1.9v1.9h-1.9zM377.85 288.85h1.9v1.9h-1.9zM377.85 290.6h1.9v1.9h-1.9zM377.85 295.85h1.9v1.9h-1.9zM379.6 278.35h1.9v1.9h-1.9zM379.6 292.35h1.9v1.9h-1.9zM379.6 294.1h1.9v1.9h-1.9zM379.6 295.85h1.9v1.9h-1.9zM381.35 280.1h1.9v1.9h-1.9zM381.35 297.6h1.9v1.9h-1.9zM383.1 271.35h1.9v1.9h-1.9zM383.1 274.85h1.9v1.9h-1.9zM383.1 283.6h1.9v1.9h-1.9zM383.1 290.6h1.9v1.9h-1.9zM383.1 295.85h1.9v1.9h-1.9zM383.1 297.6h1.9v1.9h-1.9zM384.85 276.6h1.9v1.9h-1.9zM384.85 281.85h1.9v1.9h-1.9zM384.85 283.6h1.9v1.9h-1.9zM384.85 285.35h1.9v1.9h-1.9zM386.6 276.6h1.9v1.9h-1.9zM386.6 285.35h1.9v1.9h-1.9zM386.6 287.1h1.9v1.9h-1.9zM386.6 295.85h1.9v1.9h-1.9zM388.35 285.35h1.9v1.9h-1.9zM388.35 287.1h1.9v1.9h-1.9zM388.35 294.1h1.9v1.9h-1.9zM390.1 287.1h1.9v1.9h-1.9zM390.1 288.85h1.9v1.9h-1.9zM390.1 294.1h1.9v1.9h-1.9zM391.85 278.35h1.9v1.9h-1.9zM391.85 280.1h1.9v1.9h-1.9zM391.85 281.85h1.9v1.9h-1.9zM391.85 283.6h1.9v1.9h-1.9zM391.85 287.1h1.9v1.9h-1.9zM391.85 294.1h1.9v1.9h-1.9zM391.85 301.1h1.9v1.9h-1.9zM393.6 278.35h1.9v1.9h-1.9zM393.6 283.6h1.9v1.9h-1.9zM393.6 285.35h1.9v1.9h-1.9zM395.35 281.85h1.9v1.9h-1.9zM395.35 288.85h1.9v1.9h-1.9zM395.35 292.35h1.9v1.9h-1.9zM395.35 302.85h1.9v1.9h-1.9zM397.1 278.35h1.9v1.9h-1.9zM397.1 283.6h1.9v1.9h-1.9zM397.1 285.35h1.9v1.9h-1.9zM397.1 290.6h1.9v1.9h-1.9zM397.1 301.1h1.9v1.9h-1.9zM398.85 281.85h1.9v1.9h-1.9zM398.85 287.1h1.9v1.9h-1.9zM400.6 274.85h1.9v1.9h-1.9zM400.6 288.85h1.9v1.9h-1.9zM400.6 294.1h1.9v1.9h-1.9zM402.35 274.85h1.9v1.9h-1.9zM402.35 280.1h1.9v1.9h-1.9zM402.35 294.1h1.9v1.9h-1.9zM404.1 294.1h1.9v1.9h-1.9zM405.85 278.35h1.9v1.9h-1.9zM405.85 287.1h1.9v1.9h-1.9zM407.6 276.6h1.9v1.9h-1.9z" fill="#0b959b"/>
<path d="M365.6 287.1h1.9v1.9h-1.9zM372.6 280.1h1.9v1.9h-1.9zM372.6 281.85h1.9v1.9h-1.9zM372.6 290.6h1.9v1.9h-1.9zM374.35 292.35h1.9v1.9h-1.9zM376.1 273.1h1.9v1.9h-1.9zM376.1 278.35h1.9v1.9h-1.9zM376.1 287.1h1.9v1.9h-1.9zM376.1 288.85h1.9v1.9h-1.9zM376.1 290.6h1.9v1.9h-1.9zM376.1 295.85h1.9v1.9h-1.9zM376.1 297.6h1.9v1.9h-1.9zM377.85 281.85h1.9v1.9h-1.9zM377.85 287.1h1.9v1.9h-1.9zM377.85 292.35h1.9v1.9h-1.9zM377.85 294.1h1.9v1.9h-1.9zM377.85 297.6h1.9v1.9h-1.9zM377.85 302.85h1.9v1.9h-1.9zM379.6 276.6h1.9v1.9h-1.9zM379.6 281.85h1.9v1.9h-1.9zM379.6 283.6h1.9v1.9h-1.9zM379.6 287.1h1.9v1.9h-1.9zM379.6 297.6h1.9v1.9h-1.9zM381.35 273.1h1.9v1.9h-1.9zM381.35 276.6h1.9v1.9h-1.9zM381.35 283.6h1.9v1.9h-1.9zM381.35 285.35h1.9v1.9h-1.9zM381.35 290.6h1.9v1.9h-1.9zM381.35 294.1h1.9v1.9h-1.9zM381.35 299.35h1.9v1.9h-1.9zM381.35 301.1h1.9v1.9h-1.9zM383.1 285.35h1.9v1.9h-1.9zM383.1 287.1h1.9v1.9h-1.9zM383.1 288.85h1.9v1.9h-1.9zM383.1 294.1h1.9v1.9h-1.9zM383.1 299.35h1.9v1.9h-1.9zM383.1 301.1h1.9v1.9h-1.9zM384.85 287.1h1.9v1.9h-1.9zM384.85 288.85h1.9v1.9h-1.9zM384.85 290.6h1.9v1.9h-1.9zM384.85 292.35h1.9v1.9h-1.9zM384.85 294.1h1.9v1.9h-1.9zM386.6 280.1h1.9v1.9h-1.9zM386.6 283.6h1.9v1.9h-1.9zM386.6 288.85h1.9v1.9h-1.9zM386.6 292.35h1.9v1.9h-1.9zM386.6 294.1h1.9v1.9h-1.9zM386.6 299.35h1.9v1.9h-1.9zM388.35 278.35h1.9v1.9h-1.9zM388.35 280.1h1.9v1.9h-1.9zM388.35 281.85h1.9v1.9h-1.9zM388.35 283.6h1.9v1.9h-1.9zM388.35 290.6h1.9v1.9h-1.9zM388.35 292.35h1.9v1.9h-1.9zM390.1 283.6h1.9v1.9h-1.9zM390.1 290.6h1.9v1.9h-1.9zM390.1 292.35h1.9v1.9h-1.9zM391.85 285.35h1.9v1.9h-1.9zM391.85 290.6h1.9v1.9h-1.9zM393.6 287.1h1.9v1.9h-1.9zM393.6 288.85h1.9v1.9h-1.9zM393.6 294.1h1.9v1.9h-1.9zM395.35 283.6h1.9v1.9h-1.9zM395.35 290.6h1.9v1.9h-1.9zM395.35 297.6h1.9v1.9h-1.9zM397.1 288.85h1.9v1.9h-1.9zM397.1 292.35h1.9v1.9h-1.9zM398.85 278.35h1.9v1.9h-1.9zM398.85 285.35h1.9v1.9h-1.9zM398.85 290.6h1.9v1.9h-1.9zM400.6 273.1h1.9v1.9h-1.9zM400.6 292.35h1.9v1.9h-1.9zM400.6 295.85h1.9v1.9h-1.9zM402.35 276.6h1.9v1.9h-1.9zM402.35 285.35h1.9v1.9h-1.9zM402.35 287.1h1.9v1.9h-1.9zM402.35 288.85h1.9v1.9h-1.9zM404.1 278.35h1.9v1.9h-1.9z" fill="#13cdd4"/>
<path d="M377.85 285.35h1.9v1.9h-1.9zM379.6 285.35h1.9v1.9h-1.9zM379.6 288.85h1.9v1.9h-1.9zM381.35 281.85h1.9v1.9h-1.9zM381.35 287.1h1.9v1.9h-1.9zM381.35 288.85h1.9v1.9h-1.9zM390.1 285.35h1.9v1.9h-1.9zM391.85 288.85h1.9v1.9h-1.9zM393.6 280.1h1.9v1.9h-1.9zM393.6 281.85h1.9v1.9h-1.9zM393.6 290.6h1.9v1.9h-1.9zM397.1 281.85h1.9v1.9h-1.9z" fill="#30f2f7"/>
<rect x="416.5" y="269.6" width="50.4" height="36.2" fill="#000" stroke="none" stroke-width="1"/>
<path d="M416.5 281.85h1.9v1.9h-1.9zM418.25 273.1h1.9v1.9h-1.9zM423.5 281.85h1.9v1.9h-1.9zM423.5 292.35h1.9v1.9h-1.9zM428.75 269.6h1.9v1.9h-1.9zM428.75 276.6h1.9v1.9h-1.9zM428.75 283.6h1.9v1.9h-1.9zM428.75 294.1h1.9v1.9h-1.9zM428.75 295.85h1.9v1.9h-1.9zM430.5 271.35h1.9v1.9h-1.9zM430.5 285.35h1.9v1.9h-1.9zM430.5 292.35h1.9v1.9h-1.9zM430.5 299.35h1.9v1.9h-1.9zM434 290.6h1.9v1.9h-1.9zM435.75 288.85h1.9v1.9h-1.9zM435.75 297.6h1.9v1.9h-1.9zM437.5 273.1h1.9v1.9h-1.9zM437.5 285.35h1.9v1.9h-1.9zM437.5 295.85h1.9v1.9h-1.9zM441 302.85h1.9v1.9h-1.9zM442.75 273.1h1.9v1.9h-1.9zM442.75 280.1h1.9v1.9h-1.9zM446.25 294.1h1.9v1.9h-1.9zM448 285.35h1.9v1.9h-1.9zM448 287.1h1.9v1.9h-1.9zM449.75 294.1h1.9v1.9h-1.9zM458.5 292.35h1.9v1.9h-1.9zM462 283.6h1.9v1.9h-1.9z" fill="#063d40"/>
<path d="M416.5 285.35h1.9v1.9h-1.9zM416.5 292.35h1.9v1.9h-1.9zM418.25 292.35h1.9v1.9h-1.9zM420 288.85h1.9v1.9h-1.9zM425.25 269.6h1.9v1.9h-1.9zM425.25 271.35h1.9v1.9h-1.9zM425.25 280.1h1.9v1.9h-1.9zM425.25 285.35h1.9v1.9h-1.9zM425.25 295.85h1.9v1.9h-1.9zM427 285.35h1.9v1.9h-1.9zM427 290.6h1.9v1.9h-1.9zM428.75 287.1h1.9v1.9h-1.9zM430.5 269.6h1.9v1.9h-1.9zM430.5 276.6h1.9v1.9h-1.9zM430.5 280.1h1.9v1.9h-1.9zM430.5 283.6h1.9v1.9h-1.9zM430.5 301.1h1.9v1.9h-1.9zM432.25 273.1h1.9v1.9h-1.9zM432.25 278.35h1.9v1.9h-1.9zM432.25 280.1h1.9v1.9h-1.9zM432.25 285.35h1.9v1.9h-1.9zM432.25 288.85h1.9v1.9h-1.9zM432.25 290.6h1.9v1.9h-1.9zM432.25 292.35h1.9v1.9h-1.9zM432.25 295.85h1.9v1.9h-1.9zM434 281.85h1.9v1.9h-1.9zM434 285.35h1.9v1.9h-1.9zM434 287.1h1.9v1.9h-1.9zM434 288.85h1.9v1.9h-1.9zM434 292.35h1.9v1.9h-1.9zM434 295.85h1.9v1.9h-1.9zM434 297.6h1.9v1.9h-1.9zM435.75 271.35h1.9v1.9h-1.9zM435.75 283.6h1.9v1.9h-1.9zM435.75 287.1h1.9v1.9h-1.9zM435.75 294.1h1.9v1.9h-1.9zM435.75 295.85h1.9v1.9h-1.9zM437.5 294.1h1.9v1.9h-1.9zM437.5 299.35h1.9v1.9h-1.9zM437.5 301.1h1.9v1.9h-1.9zM439.25 278.35h1.9v1.9h-1.9zM439.25 280.1h1.9v1.9h-1.9zM439.25 281.85h1.9v1.9h-1.9zM439.25 285.35h1.9v1.9h-1.9zM439.25 287.1h1.9v1.9h-1.9zM439.25 290.6h1.9v1.9h-1.9zM439.25 292.35h1.9v1.9h-1.9zM439.25 302.85h1.9v1.9h-1.9zM441 271.35h1.9v1.9h-1.9zM441 276.6h1.9v1.9h-1.9zM441 278.35h1.9v1.9h-1.9zM441 292.35h1.9v1.9h-1.9zM441 294.1h1.9v1.9h-1.9zM441 295.85h1.9v1.9h-1.9zM442.75 287.1h1.9v1.9h-1.9zM442.75 292.35h1.9v1.9h-1.9zM442.75 297.6h1.9v1.9h-1.9zM442.75 299.35h1.9v1.9h-1.9zM444.5 271.35h1.9v1.9h-1.9zM444.5 283.6h1.9v1.9h-1.9zM444.5 287.1h1.9v1.9h-1.9zM444.5 299.35h1.9v1.9h-1.9zM444.5 301.1h1.9v1.9h-1.9zM446.25 278.35h1.9v1.9h-1.9zM446.25 283.6h1.9v1.9h-1.9zM446.25 287.1h1.9v1.9h-1.9zM446.25 288.85h1.9v1.9h-1.9zM446.25 295.85h1.9v1.9h-1.9zM446.25 299.35h1.9v1.9h-1.9zM448 280.1h1.9v1.9h-1.9zM448 283.6h1.9v1.9h-1.9zM448 290.6h1.9v1.9h-1.9zM448 295.85h1.9v1.9h-1.9zM449.75 273.1h1.9v1.9h-1.9zM449.75 297.6h1.9v1.9h-1.9zM451.5 269.6h1.9v1.9h-1.9zM451.5 278.35h1.9v1.9h-1.9zM451.5 281.85h1.9v1.9h-1.9zM451.5 288.85h1.9v1.9h-1.9zM451.5 297.6h1.9v1.9h-1.9zM453.25 295.85h1.9v1.9h-1.9zM453.25 301.1h1.9v1.9h-1.9zM455 280.1h1.9v1.9h-1.9zM455 281.85h1.9v1.9h-1.9zM456.75 287.1h1.9v1.9h-1.9zM456.75 290.6h1.9v1.9h-1.9zM456.75 295.85h1.9v1.9h-1.9zM458.5 273.1h1.9v1.9h-1.9zM458.5 288.85h1.9v1.9h-1.9zM458.5 290.6h1.9v1.9h-1.9zM458.5 294.1h1.9v1.9h-1.9zM460.25 295.85h1.9v1.9h-1.9zM462 285.35h1.9v1.9h-1.9zM463.75 290.6h1.9v1.9h-1.9zM463.75 295.85h1.9v1.9h-1.9z" fill="#0b959b"/>
<path d="M418.25 287.1h1.9v1.9h-1.9zM420 294.1h1.9v1.9h-1.9zM421.75 290.6h1.9v1.9h-1.9zM421.75 295.85h1.9v1.9h-1.9zM423.5 294.1h1.9v1.9h-1.9zM425.25 281.85h1.9v1.9h-1.9zM425.25 287.1h1.9v1.9h-1.9zM425.25 288.85h1.9v1.9h-1.9zM425.25 292.35h1.9v1.9h-1.9zM425.25 294.1h1.9v1.9h-1.9zM427 281.85h1.9v1.9h-1.9zM427 283.6h1.9v1.9h-1.9zM427 288.85h1.9v1.9h-1.9zM427 292.35h1.9v1.9h-1.9zM428.75 281.85h1.9v1.9h-1.9zM428.75 290.6h1.9v1.9h-1.9zM430.5 287.1h1.9v1.9h-1.9zM430.5 290.6h1.9v1.9h-1.9zM432.25 276.6h1.9v1.9h-1.9zM434 273.1h1.9v1.9h-1.9zM435.75 285.35h1.9v1.9h-1.9zM435.75 290.6h1.9v1.9h-1.9zM437.5 280.1h1.9v1.9h-1.9zM437.5 281.85h1.9v1.9h-1.9zM437.5 290.6h1.9v1.9h-1.9zM437.5 292.35h1.9v1.9h-1.9zM439.25 276.6h1.9v1.9h-1.9zM439.25 283.6h1.9v1.9h-1.9zM439.25 288.85h1.9v1.9h-1.9zM439.25 295.85h1.9v1.9h-1.9zM439.25 301.1h1.9v1.9h-1.9zM441 287.1h1.9v1.9h-1.9zM441 288.85h1.9v1.9h-1.9zM441 290.6h1.9v1.9h-1.9zM442.75 285.35h1.9v1.9h-1.9zM442.75 290.6h1.9v1.9h-1.9zM442.75 294.1h1.9v1.9h-1.9zM444.5 273.1h1.9v1.9h-1.9zM444.5 281.85h1.9v1.9h-1.9zM444.5 285.35h1.9v1.9h-1.9zM444.5 294.1h1.9v1.9h-1.9zM444.5 295.85h1.9v1.9h-1.9zM446.25 269.6h1.9v1.9h-1.9zM446.25 274.85h1.9v1.9h-1.9zM446.25 280.1h1.9v1.9h-1.9zM446.25 281.85h1.9v1.9h-1.9zM446.25 290.6h1.9v1.9h-1.9zM446.25 292.35h1.9v1.9h-1.9zM448 278.35h1.9v1.9h-1.9zM448 288.85h1.9v1.9h-1.9zM448 297.6h1.9v1.9h-1.9zM448 299.35h1.9v1.9h-1.9zM449.75 276.6h1.9v1.9h-1.9zM449.75 280.1h1.9v1.9h-1.9zM449.75 281.85h1.9v1.9h-1.9zM449.75 283.6h1.9v1.9h-1.9zM449.75 288.85h1.9v1.9h-1.9zM449.75 290.6h1.9v1.9h-1.9zM449.75 292.35h1.9v1.9h-1.9zM451.5 271.35h1.9v1.9h-1.9zM451.5 276.6h1.9v1.9h-1.9zM451.5 283.6h1.9v1.9h-1.9zM451.5 290.6h1.9v1.9h-1.9zM451.5 292.35h1.9v1.9h-1.9zM451.5 299.35h1.9v1.9h-1.9zM453.25 287.1h1.9v1.9h-1.9zM453.25 290.6h1.9v1.9h-1.9zM453.25 292.35h1.9v1.9h-1.9zM453.25 294.1h1.9v1.9h-1.9zM455 283.6h1.9v1.9h-1.9zM455 287.1h1.9v1.9h-1.9zM455 295.85h1.9v1.9h-1.9zM456.75 288.85h1.9v1.9h-1.9zM460.25 281.85h1.9v1.9h-1.9zM460.25 287.1h1.9v1.9h-1.9zM460.25 288.85h1.9v1.9h-1.9zM462 288.85h1.9v1.9h-1.9zM462 294.1h1.9v1.9h-1.9z" fill="#13cdd4"/>
<path d="M430.5 288.85h1.9v1.9h-1.9zM430.5 294.1h1.9v1.9h-1.9zM432.25 281.85h1.9v1.9h-1.9zM432.25 294.1h1.9v1.9h-1.9zM435.75 281.85h1.9v1.9h-1.9zM435.75 292.35h1.9v1.9h-1.9zM437.5 287.1h1.9v1.9h-1.9zM437.5 288.85h1.9v1.9h-1.9zM441 283.6h1.9v1.9h-1.9zM441 285.35h1.9v1.9h-1.9zM442.75 288.85h1.9v1.9h-1.9zM444.5 288.85h1.9v1.9h-1.9zM444.5 290.6h1.9v1.9h-1.9zM448 281.85h1.9v1.9h-1.9zM451.5 280.1h1.9v1.9h-1.9z" fill="#30f2f7"/>
<text x="289" y="326.34" font-size="8" font-weight="bold" text-anchor="middle" fill="#111">Fast</text>
<text x="289" y="335.94" font-size="8" font-weight="bold" text-anchor="middle" fill="#111">relaxing</text>
<rect x="307.4" y="310.2" width="50" height="36.2" fill="#000" stroke="none" stroke-width="1"/>
<path d="M310.9 310.2h1.9v1.9h-1.9zM312.65 332.95h1.9v1.9h-1.9zM314.4 332.95h1.9v1.9h-1.9zM314.4 339.95h1.9v1.9h-1.9zM317.9 324.2h1.9v1.9h-1.9zM319.65 322.45h1.9v1.9h-1.9zM323.15 339.95h1.9v1.9h-1.9zM324.9 327.7h1.9v1.9h-1.9zM326.65 331.2h1.9v1.9h-1.9zM330.15 320.7h1.9v1.9h-1.9zM333.65 310.2h1.9v1.9h-1.9zM333.65 315.45h1.9v1.9h-1.9zM333.65 329.45h1.9v1.9h-1.9zM335.4 310.2h1.9v1.9h-1.9zM337.15 315.45h1.9v1.9h-1.9zM337.15 339.95h1.9v1.9h-1.9zM342.4 315.45h1.9v1.9h-1.9zM342.4 332.95h1.9v1.9h-1.9zM344.15 331.2h1.9v1.9h-1.9zM347.65 318.95h1.9v1.9h-1.9zM349.4 329.45h1.9v1.9h-1.9zM351.15 317.2h1.9v1.9h-1.9z" fill="#063d40"/>
<path d="M321.4 315.45h1.9v1.9h-1.9zM323.15 320.7h1.9v1.9h-1.9zM323.15 325.95h1.9v1.9h-1.9zM324.9 339.95h1.9v1.9h-1.9zM326.65 311.95h1.9v1.9h-1.9zM326.65 315.45h1.9v1.9h-1.9zM326.65 322.45h1.9v1.9h-1.9zM326.65 327.7h1.9v1.9h-1.9zM326.65 338.2h1.9v1.9h-1.9zM328.4 324.2h1.9v1.9h-1.9zM328.4 332.95h1.9v1.9h-1.9zM330.15 317.2h1.9v1.9h-1.9zM330.15 318.95h1.9v1.9h-1.9zM330.15 327.7h1.9v1.9h-1.9zM330.15 336.45h1.9v1.9h-1.9zM331.9 318.95h1.9v1.9h-1.9zM331.9 324.2h1.9v1.9h-1.9zM331.9 325.95h1.9v1.9h-1.9zM331.9 331.2h1.9v1.9h-1.9zM331.9 332.95h1.9v1.9h-1.9zM333.65 318.95h1.9v1.9h-1.9zM333.65 324.2h1.9v1.9h-1.9zM333.65 331.2h1.9v1.9h-1.9zM333.65 334.7h1.9v1.9h-1.9zM333.65 339.95h1.9v1.9h-1.9zM335.4 317.2h1.9v1.9h-1.9zM335.4 320.7h1.9v1.9h-1.9zM335.4 324.2h1.9v1.9h-1.9zM335.4 325.95h1.9v1.9h-1.9zM335.4 329.45h1.9v1.9h-1.9zM335.4 332.95h1.9v1.9h-1.9zM335.4 334.7h1.9v1.9h-1.9zM335.4 338.2h1.9v1.9h-1.9zM337.15 322.45h1.9v1.9h-1.9zM337.15 327.7h1.9v1.9h-1.9zM337.15 329.45h1.9v1.9h-1.9zM337.15 334.7h1.9v1.9h-1.9zM338.9 324.2h1.9v1.9h-1.9zM338.9 325.95h1.9v1.9h-1.9zM338.9 327.7h1.9v1.9h-1.9zM340.65 318.95h1.9v1.9h-1.9zM342.4 317.2h1.9v1.9h-1.9zM342.4 320.7h1.9v1.9h-1.9zM342.4 324.2h1.9v1.9h-1.9zM344.15 322.45h1.9v1.9h-1.9zM344.15 336.45h1.9v1.9h-1.9zM345.9 325.95h1.9v1.9h-1.9zM345.9 329.45h1.9v1.9h-1.9zM347.65 320.7h1.9v1.9h-1.9zM347.65 332.95h1.9v1.9h-1.9zM349.4 315.45h1.9v1.9h-1.9zM349.4 325.95h1.9v1.9h-1.9z" fill="#0b959b"/>
<path d="M324.9 324.2h1.9v1.9h-1.9zM328.4 320.7h1.9v1.9h-1.9zM328.4 327.7h1.9v1.9h-1.9zM328.4 329.45h1.9v1.9h-1.9zM328.4 334.7h1.9v1.9h-1.9zM330.15 325.95h1.9v1.9h-1.9zM331.9 322.45h1.9v1.9h-1.9zM333.65 320.7h1.9v1.9h-1.9zM335.4 318.95h1.9v1.9h-1.9zM335.4 327.7h1.9v1.9h-1.9zM337.15 325.95h1.9v1.9h-1.9zM337.15 332.95h1.9v1.9h-1.9zM338.9 313.7h1.9v1.9h-1.9zM338.9 320.7h1.9v1.9h-1.9zM338.9 329.45h1.9v1.9h-1.9zM338.9 331.2h1.9v1.9h-1.9zM338.9 336.45h1.9v1.9h-1.9zM340.65 320.7h1.9v1.9h-1.9zM340.65 322.45h1.9v1.9h-1.9zM340.65 327.7h1.9v1.9h-1.9zM340.65 334.7h1.9v1.9h-1.9zM342.4 318.95h1.9v1.9h-1.9zM342.4 322.45h1.9v1.9h-1.9zM342.4 325.95h1.9v1.9h-1.9zM342.4 329.45h1.9v1.9h-1.9zM344.15 324.2h1.9v1.9h-1.9zM344.15 327.7h1.9v1.9h-1.9zM344.15 329.45h1.9v1.9h-1.9zM345.9 327.7h1.9v1.9h-1.9zM345.9 334.7h1.9v1.9h-1.9zM354.65 324.2h1.9v1.9h-1.9z" fill="#13cdd4"/>
<rect x="362.1" y="310.2" width="49.6" height="36.2" fill="#000" stroke="none" stroke-width="1"/>
<path d="M367.35 325.95h1.9v1.9h-1.9zM370.85 331.2h1.9v1.9h-1.9zM370.85 338.2h1.9v1.9h-1.9zM379.6 325.95h1.9v1.9h-1.9zM383.1 320.7h1.9v1.9h-1.9zM384.85 311.95h1.9v1.9h-1.9zM386.6 311.95h1.9v1.9h-1.9zM388.35 311.95h1.9v1.9h-1.9zM393.6 311.95h1.9v1.9h-1.9zM393.6 324.2h1.9v1.9h-1.9zM393.6 334.7h1.9v1.9h-1.9zM393.6 336.45h1.9v1.9h-1.9zM395.35 320.7h1.9v1.9h-1.9zM398.85 310.2h1.9v1.9h-1.9zM398.85 311.95h1.9v1.9h-1.9zM398.85 318.95h1.9v1.9h-1.9zM398.85 327.7h1.9v1.9h-1.9zM398.85 331.2h1.9v1.9h-1.9zM400.6 329.45h1.9v1.9h-1.9zM402.35 318.95h1.9v1.9h-1.9zM402.35 331.2h1.9v1.9h-1.9zM405.85 329.45h1.9v1.9h-1.9zM407.6 310.2h1.9v1.9h-1.9z" fill="#063d40"/>
<path d="M379.6 329.45h1.9v1.9h-1.9zM386.6 331.2h1.9v1.9h-1.9zM386.6 339.95h1.9v1.9h-1.9zM388.35 322.45h1.9v1.9h-1.9zM388.35 332.95h1.9v1.9h-1.9zM390.1 320.7h1.9v1.9h-1.9zM390.1 322.45h1.9v1.9h-1.9zM390.1 331.2h1.9v1.9h-1.9zM390.1 332.95h1.9v1.9h-1.9zM391.85 320.7h1.9v1.9h-1.9zM391.85 324.2h1.9v1.9h-1.9zM391.85 325.95h1.9v1.9h-1.9zM391.85 327.7h1.9v1.9h-1.9zM391.85 329.45h1.9v1.9h-1.9zM391.85 334.7h1.9v1.9h-1.9zM393.6 320.7h1.9v1.9h-1.9zM393.6 322.45h1.9v1.9h-1.9zM393.6 332.95h1.9v1.9h-1.9zM393.6 338.2h1.9v1.9h-1.9zM395.35 318.95h1.9v1.9h-1.9zM395.35 327.7h1.9v1.9h-1.9zM397.1 315.45h1.9v1.9h-1.9zM397.1 318.95h1.9v1.9h-1.9zM397.1 329.45h1.9v1.9h-1.9zM398.85 332.95h1.9v1.9h-1.9zM400.6 318.95h1.9v1.9h-1.9zM400.6 325.95h1.9v1.9h-1.9zM400.6 331.2h1.9v1.9h-1.9zM402.35 329.45h1.9v1.9h-1.9zM405.85 331.2h1.9v1.9h-1.9zM405.85 334.7h1.9v1.9h-1.9zM407.6 329.45h1.9v1.9h-1.9z" fill="#0b959b"/>
<path d="M377.85 325.95h1.9v1.9h-1.9zM379.6 327.7h1.9v1.9h-1.9zM381.35 325.95h1.9v1.9h-1.9zM383.1 329.45h1.9v1.9h-1.9zM384.85 325.95h1.9v1.9h-1.9zM386.6 318.95h1.9v1.9h-1.9zM388.35 318.95h1.9v1.9h-1.9zM388.35 320.7h1.9v1.9h-1.9zM388.35 325.95h1.9v1.9h-1.9zM388.35 327.7h1.9v1.9h-1.9zM388.35 331.2h1.9v1.9h-1.9zM390.1 324.2h1.9v1.9h-1.9zM390.1 325.95h1.9v1.9h-1.9zM390.1 327.7h1.9v1.9h-1.9zM390.1 329.45h1.9v1.9h-1.9zM391.85 331.2h1.9v1.9h-1.9zM393.6 318.95h1.9v1.9h-1.9zM393.6 325.95h1.9v1.9h-1.9zM393.6 327.7h1.9v1.9h-1.9zM393.6 329.45h1.9v1.9h-1.9zM393.6 331.2h1.9v1.9h-1.9zM395.35 325.95h1.9v1.9h-1.9zM395.35 329.45h1.9v1.9h-1.9zM395.35 332.95h1.9v1.9h-1.9zM397.1 320.7h1.9v1.9h-1.9zM397.1 324.2h1.9v1.9h-1.9zM397.1 325.95h1.9v1.9h-1.9zM397.1 331.2h1.9v1.9h-1.9zM397.1 336.45h1.9v1.9h-1.9zM400.6 320.7h1.9v1.9h-1.9zM402.35 320.7h1.9v1.9h-1.9zM402.35 332.95h1.9v1.9h-1.9zM405.85 322.45h1.9v1.9h-1.9zM409.35 324.2h1.9v1.9h-1.9z" fill="#13cdd4"/>
<path d="M397.1 327.7h1.9v1.9h-1.9zM398.85 325.95h1.9v1.9h-1.9z" fill="#30f2f7"/>
<rect x="416.5" y="310.2" width="50.4" height="36.2" fill="#000" stroke="none" stroke-width="1"/>
<path d="M425.25 338.2h1.9v1.9h-1.9zM427 329.45h1.9v1.9h-1.9zM428.75 327.7h1.9v1.9h-1.9zM430.5 322.45h1.9v1.9h-1.9zM430.5 324.2h1.9v1.9h-1.9zM434 327.7h1.9v1.9h-1.9zM434 329.45h1.9v1.9h-1.9zM435.75 343.45h1.9v1.9h-1.9zM437.5 320.7h1.9v1.9h-1.9zM439.25 334.7h1.9v1.9h-1.9zM441 311.95h1.9v1.9h-1.9zM441 324.2h1.9v1.9h-1.9zM441 341.7h1.9v1.9h-1.9zM442.75 317.2h1.9v1.9h-1.9zM442.75 320.7h1.9v1.9h-1.9zM442.75 329.45h1.9v1.9h-1.9zM442.75 332.95h1.9v1.9h-1.9zM444.5 317.2h1.9v1.9h-1.9zM444.5 324.2h1.9v1.9h-1.9zM444.5 338.2h1.9v1.9h-1.9zM444.5 339.95h1.9v1.9h-1.9zM446.25 322.45h1.9v1.9h-1.9zM448 320.7h1.9v1.9h-1.9zM448 331.2h1.9v1.9h-1.9zM453.25 334.7h1.9v1.9h-1.9zM455 332.95h1.9v1.9h-1.9zM460.25 322.45h1.9v1.9h-1.9zM462 320.7h1.9v1.9h-1.9zM462 338.2h1.9v1.9h-1.9z" fill="#063d40"/>
<path d="M416.5 329.45h1.9v1.9h-1.9zM428.75 329.45h1.9v1.9h-1.9zM428.75 338.2h1.9v1.9h-1.9zM430.5 331.2h1.9v1.9h-1.9zM432.25 331.2h1.9v1.9h-1.9zM432.25 336.45h1.9v1.9h-1.9zM434 324.2h1.9v1.9h-1.9zM434 334.7h1.9v1.9h-1.9zM435.75 320.7h1.9v1.9h-1.9zM435.75 322.45h1.9v1.9h-1.9zM435.75 324.2h1.9v1.9h-1.9zM435.75 325.95h1.9v1.9h-1.9zM435.75 327.7h1.9v1.9h-1.9zM435.75 332.95h1.9v1.9h-1.9zM435.75 334.7h1.9v1.9h-1.9zM437.5 317.2h1.9v1.9h-1.9zM437.5 322.45h1.9v1.9h-1.9zM437.5 327.7h1.9v1.9h-1.9zM439.25 315.45h1.9v1.9h-1.9zM439.25 320.7h1.9v1.9h-1.9zM439.25 331.2h1.9v1.9h-1.9zM439.25 332.95h1.9v1.9h-1.9zM439.25 336.45h1.9v1.9h-1.9zM441 318.95h1.9v1.9h-1.9zM441 320.7h1.9v1.9h-1.9zM441 322.45h1.9v1.9h-1.9zM441 327.7h1.9v1.9h-1.9zM442.75 318.95h1.9v1.9h-1.9zM442.75 325.95h1.9v1.9h-1.9zM442.75 327.7h1.9v1.9h-1.9zM444.5 310.2h1.9v1.9h-1.9zM444.5 315.45h1.9v1.9h-1.9zM444.5 318.95h1.9v1.9h-1.9zM444.5 320.7h1.9v1.9h-1.9zM444.5 325.95h1.9v1.9h-1.9zM446.25 329.45h1.9v1.9h-1.9zM449.75 317.2h1.9v1.9h-1.9zM453.25 331.2h1.9v1.9h-1.9z" fill="#0b959b"/>
<path d="M425.25 322.45h1.9v1.9h-1.9zM428.75 320.7h1.9v1.9h-1.9zM428.75 322.45h1.9v1.9h-1.9zM428.75 325.95h1.9v1.9h-1.9zM430.5 320.7h1.9v1.9h-1.9zM430.5 327.7h1.9v1.9h-1.9zM430.5 329.45h1.9v1.9h-1.9zM430.5 343.45h1.9v1.9h-1.9zM432.25 318.95h1.9v1.9h-1.9zM432.25 320.7h1.9v1.9h-1.9zM432.25 327.7h1.9v1.9h-1.9zM434 322.45h1.9v1.9h-1.9zM434 331.2h1.9v1.9h-1.9zM434 332.95h1.9v1.9h-1.9zM435.75 317.2h1.9v1.9h-1.9zM435.75 336.45h1.9v1.9h-1.9zM437.5 329.45h1.9v1.9h-1.9zM437.5 331.2h1.9v1.9h-1.9zM439.25 322.45h1.9v1.9h-1.9zM439.25 325.95h1.9v1.9h-1.9zM441 315.45h1.9v1.9h-1.9zM441 317.2h1.9v1.9h-1.9zM441 325.95h1.9v1.9h-1.9zM441 329.45h1.9v1.9h-1.9zM441 331.2h1.9v1.9h-1.9zM442.75 338.2h1.9v1.9h-1.9zM444.5 322.45h1.9v1.9h-1.9zM444.5 329.45h1.9v1.9h-1.9zM444.5 331.2h1.9v1.9h-1.9zM446.25 324.2h1.9v1.9h-1.9zM446.25 325.95h1.9v1.9h-1.9zM448 329.45h1.9v1.9h-1.9zM453.25 339.95h1.9v1.9h-1.9z" fill="#13cdd4"/>
<rect x="449.6" y="341.4" width="15" height="2.2" fill="#fff" stroke="none" stroke-width="1"/>
<path d="M470.2 334.4V349.2H455.2" fill="none" stroke="#111" stroke-width="1.5"/>
<path d="M467.9 334.8L470.2 330.5L472.5 334.8Z" fill="#111" stroke="none" stroke-width="1"/>
<path d="M455.1 346.9L450.8 349.2L455.1 351.5Z" fill="#111" stroke="none" stroke-width="1"/>
<text x="474.1" y="343.39" font-size="9" font-weight="normal" text-anchor="middle" fill="#111">y</text>
<text x="463.2" y="356.19" font-size="9" font-weight="normal" text-anchor="middle" fill="#111">z</text>
<text x="330.4" y="362.24" font-size="8" font-weight="bold" text-anchor="middle" fill="#111">Cell 1</text>
<text x="384.9" y="362.24" font-size="8" font-weight="bold" text-anchor="middle" fill="#111">Cell 2</text>
<text x="439.7" y="362.24" font-size="8" font-weight="bold" text-anchor="middle" fill="#111">Cell 3</text>
<line x1="270.8" y1="365.1" x2="270.8" y2="485.1" stroke="#333" stroke-width="0.8"/>
<text x="264.4" y="428.87" font-size="9.2" font-weight="bold" text-anchor="middle" fill="#111" transform="rotate(-90 264.4 425.6)">10 kPa</text>
<text x="289" y="385.44" font-size="8" font-weight="bold" text-anchor="middle" fill="#111">Elastic</text>
<rect x="307.4" y="363.6" width="50" height="38" fill="#000" stroke="none" stroke-width="1"/>
<path d="M309.15 370.6h1.9v1.9h-1.9zM310.9 382.85h1.9v1.9h-1.9zM316.15 379.35h1.9v1.9h-1.9zM316.15 386.35h1.9v1.9h-1.9zM321.4 386.35h1.9v1.9h-1.9zM323.15 375.85h1.9v1.9h-1.9zM323.15 386.35h1.9v1.9h-1.9zM324.9 388.1h1.9v1.9h-1.9zM328.4 391.6h1.9v1.9h-1.9zM331.9 391.6h1.9v1.9h-1.9zM335.4 379.35h1.9v1.9h-1.9zM335.4 382.85h1.9v1.9h-1.9zM337.15 379.35h1.9v1.9h-1.9zM337.15 388.1h1.9v1.9h-1.9zM340.65 370.6h1.9v1.9h-1.9zM345.9 379.35h1.9v1.9h-1.9zM345.9 391.6h1.9v1.9h-1.9zM354.65 393.35h1.9v1.9h-1.9z" fill="#063d40"/>
<path d="M317.9 381.1h1.9v1.9h-1.9zM319.65 375.85h1.9v1.9h-1.9zM319.65 379.35h1.9v1.9h-1.9zM323.15 374.1h1.9v1.9h-1.9zM323.15 382.85h1.9v1.9h-1.9zM323.15 384.6h1.9v1.9h-1.9zM324.9 377.6h1.9v1.9h-1.9zM324.9 379.35h1.9v1.9h-1.9zM324.9 389.85h1.9v1.9h-1.9zM326.65 372.35h1.9v1.9h-1.9zM326.65 377.6h1.9v1.9h-1.9zM326.65 379.35h1.9v1.9h-1.9zM328.4 367.1h1.9v1.9h-1.9zM328.4 374.1h1.9v1.9h-1.9zM330.15 372.35h1.9v1.9h-1.9zM330.15 384.6h1.9v1.9h-1.9zM330.15 386.35h1.9v1.9h-1.9zM331.9 375.85h1.9v1.9h-1.9zM331.9 381.1h1.9v1.9h-1.9zM331.9 382.85h1.9v1.9h-1.9zM331.9 388.1h1.9v1.9h-1.9zM333.65 381.1h1.9v1.9h-1.9zM333.65 384.6h1.9v1.9h-1.9zM333.65 391.6h1.9v1.9h-1.9zM335.4 374.1h1.9v1.9h-1.9zM335.4 375.85h1.9v1.9h-1.9zM335.4 377.6h1.9v1.9h-1.9zM335.4 384.6h1.9v1.9h-1.9zM335.4 389.85h1.9v1.9h-1.9zM337.15 395.1h1.9v1.9h-1.9zM338.9 372.35h1.9v1.9h-1.9zM338.9 382.85h1.9v1.9h-1.9zM338.9 386.35h1.9v1.9h-1.9zM340.65 368.85h1.9v1.9h-1.9zM340.65 384.6h1.9v1.9h-1.9zM342.4 372.35h1.9v1.9h-1.9zM342.4 375.85h1.9v1.9h-1.9zM345.9 381.1h1.9v1.9h-1.9z" fill="#0b959b"/>
<path d="M312.65 391.6h1.9v1.9h-1.9zM321.4 381.1h1.9v1.9h-1.9zM321.4 389.85h1.9v1.9h-1.9zM323.15 372.35h1.9v1.9h-1.9zM324.9 375.85h1.9v1.9h-1.9zM324.9 381.1h1.9v1.9h-1.9zM324.9 384.6h1.9v1.9h-1.9zM324.9 386.35h1.9v1.9h-1.9zM326.65 374.1h1.9v1.9h-1.9zM326.65 382.85h1.9v1.9h-1.9zM326.65 384.6h1.9v1.9h-1.9zM326.65 386.35h1.9v1.9h-1.9zM326.65 388.1h1.9v1.9h-1.9zM326.65 389.85h1.9v1.9h-1.9zM328.4 377.6h1.9v1.9h-1.9zM328.4 379.35h1.9v1.9h-1.9zM328.4 388.1h1.9v1.9h-1.9zM328.4 389.85h1.9v1.9h-1.9zM330.15 377.6h1.9v1.9h-1.9zM330.15 379.35h1.9v1.9h-1.9zM330.15 381.1h1.9v1.9h-1.9zM330.15 382.85h1.9v1.9h-1.9zM330.15 388.1h1.9v1.9h-1.9zM330.15 391.6h1.9v1.9h-1.9zM330.15 393.35h1.9v1.9h-1.9zM331.9 386.35h1.9v1.9h-1.9zM333.65 379.35h1.9v1.9h-1.9zM333.65 389.85h1.9v1.9h-1.9zM335.4 381.1h1.9v1.9h-1.9zM335.4 388.1h1.9v1.9h-1.9zM337.15 375.85h1.9v1.9h-1.9zM337.15 377.6h1.9v1.9h-1.9zM337.15 381.1h1.9v1.9h-1.9zM337.15 382.85h1.9v1.9h-1.9zM337.15 386.35h1.9v1.9h-1.9zM338.9 377.6h1.9v1.9h-1.9zM338.9 379.35h1.9v1.9h-1.9zM338.9 388.1h1.9v1.9h-1.9zM340.65 374.1h1.9v1.9h-1.9zM340.65 379.35h1.9v1.9h-1.9zM340.65 388.1h1.9v1.9h-1.9zM342.4 377.6h1.9v1.9h-1.9z" fill="#13cdd4"/>
<path d="M326.65 381.1h1.9v1.9h-1.9zM328.4 381.1h1.9v1.9h-1.9zM328.4 384.6h1.9v1.9h-1.9zM328.4 386.35h1.9v1.9h-1.9zM331.9 384.6h1.9v1.9h-1.9zM333.65 377.6h1.9v1.9h-1.9zM333.65 382.85h1.9v1.9h-1.9zM337.15 384.6h1.9v1.9h-1.9z" fill="#30f2f7"/>
<rect x="362.1" y="363.6" width="49.6" height="38" fill="#000" stroke="none" stroke-width="1"/>
<path d="M367.35 374.1h1.9v1.9h-1.9zM369.1 381.1h1.9v1.9h-1.9zM370.85 382.85h1.9v1.9h-1.9zM374.35 370.6h1.9v1.9h-1.9zM374.35 372.35h1.9v1.9h-1.9zM376.1 375.85h1.9v1.9h-1.9zM377.85 375.85h1.9v1.9h-1.9zM377.85 395.1h1.9v1.9h-1.9zM379.6 375.85h1.9v1.9h-1.9zM379.6 379.35h1.9v1.9h-1.9zM379.6 381.1h1.9v1.9h-1.9zM379.6 382.85h1.9v1.9h-1.9zM381.35 384.6h1.9v1.9h-1.9zM384.85 379.35h1.9v1.9h-1.9zM386.6 370.6h1.9v1.9h-1.9zM386.6 398.6h1.9v1.9h-1.9zM388.35 386.35h1.9v1.9h-1.9zM391.85 363.6h1.9v1.9h-1.9zM393.6 363.6h1.9v1.9h-1.9zM397.1 384.6h1.9v1.9h-1.9zM398.85 374.1h1.9v1.9h-1.9zM400.6 367.1h1.9v1.9h-1.9zM405.85 382.85h1.9v1.9h-1.9z" fill="#063d40"/>
<path d="M372.6 389.85h1.9v1.9h-1.9zM374.35 382.85h1.9v1.9h-1.9zM374.35 386.35h1.9v1.9h-1.9zM374.35 389.85h1.9v1.9h-1.9zM376.1 381.1h1.9v1.9h-1.9zM377.85 370.6h1.9v1.9h-1.9zM377.85 372.35h1.9v1.9h-1.9zM377.85 374.1h1.9v1.9h-1.9zM377.85 381.1h1.9v1.9h-1.9zM377.85 391.6h1.9v1.9h-1.9zM379.6 370.6h1.9v1.9h-1.9zM379.6 372.35h1.9v1.9h-1.9zM379.6 377.6h1.9v1.9h-1.9zM379.6 384.6h1.9v1.9h-1.9zM379.6 386.35h1.9v1.9h-1.9zM381.35 368.85h1.9v1.9h-1.9zM381.35 377.6h1.9v1.9h-1.9zM381.35 389.85h1.9v1.9h-1.9zM383.1 377.6h1.9v1.9h-1.9zM383.1 381.1h1.9v1.9h-1.9zM383.1 382.85h1.9v1.9h-1.9zM383.1 389.85h1.9v1.9h-1.9zM384.85 384.6h1.9v1.9h-1.9zM384.85 388.1h1.9v1.9h-1.9zM384.85 391.6h1.9v1.9h-1.9zM384.85 395.1h1.9v1.9h-1.9zM386.6 372.35h1.9v1.9h-1.9zM386.6 377.6h1.9v1.9h-1.9zM386.6 379.35h1.9v1.9h-1.9zM386.6 384.6h1.9v1.9h-1.9zM386.6 386.35h1.9v1.9h-1.9zM386.6 391.6h1.9v1.9h-1.9zM388.35 368.85h1.9v1.9h-1.9zM388.35 375.85h1.9v1.9h-1.9zM388.35 382.85h1.9v1.9h-1.9zM390.1 367.1h1.9v1.9h-1.9zM390.1 377.6h1.9v1.9h-1.9zM390.1 379.35h1.9v1.9h-1.9zM390.1 382.85h1.9v1.9h-1.9zM390.1 393.35h1.9v1.9h-1.9zM391.85 375.85h1.9v1.9h-1.9zM391.85 386.35h1.9v1.9h-1.9zM393.6 374.1h1.9v1.9h-1.9zM393.6 382.85h1.9v1.9h-1.9zM393.6 391.6h1.9v1.9h-1.9zM395.35 381.1h1.9v1.9h-1.9zM397.1 374.1h1.9v1.9h-1.9zM397.1 377.6h1.9v1.9h-1.9zM400.6 370.6h1.9v1.9h-1.9zM400.6 375.85h1.9v1.9h-1.9zM400.6 391.6h1.9v1.9h-1.9z" fill="#0b959b"/>
<path d="M372.6 393.35h1.9v1.9h-1.9zM374.35 384.6h1.9v1.9h-1.9zM376.1 388.1h1.9v1.9h-1.9zM377.85 377.6h1.9v1.9h-1.9zM377.85 382.85h1.9v1.9h-1.9zM379.6 374.1h1.9v1.9h-1.9zM379.6 388.1h1.9v1.9h-1.9zM379.6 389.85h1.9v1.9h-1.9zM381.35 372.35h1.9v1.9h-1.9zM381.35 374.1h1.9v1.9h-1.9zM381.35 375.85h1.9v1.9h-1.9zM381.35 381.1h1.9v1.9h-1.9zM381.35 382.85h1.9v1.9h-1.9zM381.35 398.6h1.9v1.9h-1.9zM383.1 375.85h1.9v1.9h-1.9zM383.1 384.6h1.9v1.9h-1.9zM383.1 388.1h1.9v1.9h-1.9zM383.1 391.6h1.9v1.9h-1.9zM384.85 377.6h1.9v1.9h-1.9zM384.85 382.85h1.9v1.9h-1.9zM384.85 389.85h1.9v1.9h-1.9zM384.85 393.35h1.9v1.9h-1.9zM386.6 367.1h1.9v1.9h-1.9zM386.6 374.1h1.9v1.9h-1.9zM386.6 381.1h1.9v1.9h-1.9zM386.6 388.1h1.9v1.9h-1.9zM386.6 389.85h1.9v1.9h-1.9zM388.35 374.1h1.9v1.9h-1.9zM388.35 377.6h1.9v1.9h-1.9zM388.35 384.6h1.9v1.9h-1.9zM388.35 388.1h1.9v1.9h-1.9zM388.35 391.6h1.9v1.9h-1.9zM390.1 381.1h1.9v1.9h-1.9zM390.1 388.1h1.9v1.9h-1.9zM390.1 391.6h1.9v1.9h-1.9zM391.85 370.6h1.9v1.9h-1.9zM393.6 368.85h1.9v1.9h-1.9zM393.6 375.85h1.9v1.9h-1.9zM393.6 384.6h1.9v1.9h-1.9zM393.6 389.85h1.9v1.9h-1.9zM393.6 393.35h1.9v1.9h-1.9zM395.35 372.35h1.9v1.9h-1.9zM395.35 382.85h1.9v1.9h-1.9zM398.85 391.6h1.9v1.9h-1.9zM400.6 386.35h1.9v1.9h-1.9zM402.35 384.6h1.9v1.9h-1.9z" fill="#13cdd4"/>
<path d="M377.85 384.6h1.9v1.9h-1.9zM381.35 379.35h1.9v1.9h-1.9zM383.1 386.35h1.9v1.9h-1.9zM384.85 381.1h1.9v1.9h-1.9zM388.35 379.35h1.9v1.9h-1.9zM390.1 386.35h1.9v1.9h-1.9z" fill="#30f2f7"/>
<rect x="416.5" y="363.6" width="50.4" height="38" fill="#000" stroke="none" stroke-width="1"/>
<path d="M416.5 372.35h1.9v1.9h-1.9zM416.5 388.1h1.9v1.9h-1.9zM423.5 386.35h1.9v1.9h-1.9zM425.25 393.35h1.9v1.9h-1.9zM430.5 386.35h1.9v1.9h-1.9zM430.5 391.6h1.9v1.9h-1.9zM432.25 377.6h1.9v1.9h-1.9zM432.25 381.1h1.9v1.9h-1.9zM434 377.6h1.9v1.9h-1.9zM437.5 382.85h1.9v1.9h-1.9zM437.5 391.6h1.9v1.9h-1.9zM441 375.85h1.9v1.9h-1.9zM442.75 379.35h1.9v1.9h-1.9zM442.75 386.35h1.9v1.9h-1.9zM444.5 382.85h1.9v1.9h-1.9zM446.25 384.6h1.9v1.9h-1.9zM446.25 389.85h1.9v1.9h-1.9zM448 396.85h1.9v1.9h-1.9zM449.75 377.6h1.9v1.9h-1.9zM449.75 384.6h1.9v1.9h-1.9zM451.5 381.1h1.9v1.9h-1.9zM453.25 389.85h1.9v1.9h-1.9zM455 384.6h1.9v1.9h-1.9zM455 386.35h1.9v1.9h-1.9zM455 395.1h1.9v1.9h-1.9zM458.5 367.1h1.9v1.9h-1.9zM458.5 386.35h1.9v1.9h-1.9zM462 377.6h1.9v1.9h-1.9z" fill="#063d40"/>
<path d="M425.25 381.1h1.9v1.9h-1.9zM427 384.6h1.9v1.9h-1.9zM427 386.35h1.9v1.9h-1.9zM428.75 379.35h1.9v1.9h-1.9zM428.75 382.85h1.9v1.9h-1.9zM428.75 393.35h1.9v1.9h-1.9zM430.5 384.6h1.9v1.9h-1.9zM432.25 375.85h1.9v1.9h-1.9zM432.25 379.35h1.9v1.9h-1.9zM432.25 382.85h1.9v1.9h-1.9zM432.25 389.85h1.9v1.9h-1.9zM434 374.1h1.9v1.9h-1.9zM434 375.85h1.9v1.9h-1.9zM434 388.1h1.9v1.9h-1.9zM434 389.85h1.9v1.9h-1.9zM435.75 374.1h1.9v1.9h-1.9zM435.75 377.6h1.9v1.9h-1.9zM435.75 381.1h1.9v1.9h-1.9zM435.75 386.35h1.9v1.9h-1.9zM435.75 389.85h1.9v1.9h-1.9zM435.75 395.1h1.9v1.9h-1.9zM437.5 374.1h1.9v1.9h-1.9zM437.5 379.35h1.9v1.9h-1.9zM437.5 384.6h1.9v1.9h-1.9zM437.5 386.35h1.9v1.9h-1.9zM439.25 375.85h1.9v1.9h-1.9zM439.25 381.1h1.9v1.9h-1.9zM439.25 384.6h1.9v1.9h-1.9zM439.25 389.85h1.9v1.9h-1.9zM439.25 393.35h1.9v1.9h-1.9zM441 370.6h1.9v1.9h-1.9zM441 382.85h1.9v1.9h-1.9zM441 389.85h1.9v1.9h-1.9zM442.75 388.1h1.9v1.9h-1.9zM444.5 377.6h1.9v1.9h-1.9zM444.5 388.1h1.9v1.9h-1.9zM446.25 381.1h1.9v1.9h-1.9zM446.25 382.85h1.9v1.9h-1.9zM448 381.1h1.9v1.9h-1.9zM448 389.85h1.9v1.9h-1.9zM449.75 381.1h1.9v1.9h-1.9zM449.75 386.35h1.9v1.9h-1.9zM449.75 388.1h1.9v1.9h-1.9zM449.75 389.85h1.9v1.9h-1.9zM451.5 382.85h1.9v1.9h-1.9zM453.25 377.6h1.9v1.9h-1.9zM455 379.35h1.9v1.9h-1.9z" fill="#0b959b"/>
<path d="M425.25 382.85h1.9v1.9h-1.9zM428.75 386.35h1.9v1.9h-1.9zM430.5 377.6h1.9v1.9h-1.9zM430.5 381.1h1.9v1.9h-1.9zM432.25 384.6h1.9v1.9h-1.9zM432.25 393.35h1.9v1.9h-1.9zM434 382.85h1.9v1.9h-1.9zM434 384.6h1.9v1.9h-1.9zM435.75 384.6h1.9v1.9h-1.9zM435.75 388.1h1.9v1.9h-1.9zM437.5 375.85h1.9v1.9h-1.9zM437.5 381.1h1.9v1.9h-1.9zM439.25 386.35h1.9v1.9h-1.9zM439.25 388.1h1.9v1.9h-1.9zM441 372.35h1.9v1.9h-1.9zM441 381.1h1.9v1.9h-1.9zM441 384.6h1.9v1.9h-1.9zM441 388.1h1.9v1.9h-1.9zM442.75 374.1h1.9v1.9h-1.9zM442.75 375.85h1.9v1.9h-1.9zM442.75 381.1h1.9v1.9h-1.9zM442.75 382.85h1.9v1.9h-1.9zM442.75 384.6h1.9v1.9h-1.9zM442.75 391.6h1.9v1.9h-1.9zM442.75 395.1h1.9v1.9h-1.9zM444.5 374.1h1.9v1.9h-1.9zM444.5 381.1h1.9v1.9h-1.9zM444.5 384.6h1.9v1.9h-1.9zM444.5 386.35h1.9v1.9h-1.9zM446.25 375.85h1.9v1.9h-1.9zM446.25 386.35h1.9v1.9h-1.9zM448 375.85h1.9v1.9h-1.9zM448 377.6h1.9v1.9h-1.9zM448 379.35h1.9v1.9h-1.9zM448 382.85h1.9v1.9h-1.9zM448 384.6h1.9v1.9h-1.9zM448 386.35h1.9v1.9h-1.9zM449.75 382.85h1.9v1.9h-1.9zM451.5 386.35h1.9v1.9h-1.9zM451.5 388.1h1.9v1.9h-1.9zM456.75 377.6h1.9v1.9h-1.9zM458.5 381.1h1.9v1.9h-1.9z" fill="#13cdd4"/>
<path d="M434 379.35h1.9v1.9h-1.9zM434 381.1h1.9v1.9h-1.9zM435.75 379.35h1.9v1.9h-1.9zM435.75 382.85h1.9v1.9h-1.9zM437.5 377.6h1.9v1.9h-1.9zM437.5 389.85h1.9v1.9h-1.9zM439.25 379.35h1.9v1.9h-1.9zM439.25 382.85h1.9v1.9h-1.9zM441 377.6h1.9v1.9h-1.9zM441 379.35h1.9v1.9h-1.9zM441 386.35h1.9v1.9h-1.9zM442.75 389.85h1.9v1.9h-1.9zM444.5 379.35h1.9v1.9h-1.9zM446.25 379.35h1.9v1.9h-1.9zM448 388.1h1.9v1.9h-1.9z" fill="#30f2f7"/>
<text x="289" y="424.59" font-size="8" font-weight="bold" text-anchor="middle" fill="#111">Slow</text>
<text x="289" y="434.19" font-size="8" font-weight="bold" text-anchor="middle" fill="#111">relaxing</text>
<rect x="307.4" y="407.4" width="50" height="38.3" fill="#000" stroke="none" stroke-width="1"/>
<path d="M307.4 435.4h1.9v1.9h-1.9zM309.15 417.9h1.9v1.9h-1.9zM310.9 421.4h1.9v1.9h-1.9zM314.4 419.65h1.9v1.9h-1.9zM314.4 423.15h1.9v1.9h-1.9zM314.4 424.9h1.9v1.9h-1.9zM316.15 424.9h1.9v1.9h-1.9zM319.65 426.65h1.9v1.9h-1.9zM319.65 442.4h1.9v1.9h-1.9zM321.4 428.4h1.9v1.9h-1.9zM321.4 435.4h1.9v1.9h-1.9zM324.9 416.15h1.9v1.9h-1.9zM326.65 414.4h1.9v1.9h-1.9zM326.65 424.9h1.9v1.9h-1.9zM328.4 410.9h1.9v1.9h-1.9zM328.4 421.4h1.9v1.9h-1.9zM328.4 428.4h1.9v1.9h-1.9zM330.15 416.15h1.9v1.9h-1.9zM330.15 419.65h1.9v1.9h-1.9zM330.15 426.65h1.9v1.9h-1.9zM330.15 431.9h1.9v1.9h-1.9zM331.9 414.4h1.9v1.9h-1.9zM331.9 416.15h1.9v1.9h-1.9zM331.9 428.4h1.9v1.9h-1.9zM331.9 433.65h1.9v1.9h-1.9zM333.65 414.4h1.9v1.9h-1.9zM335.4 431.9h1.9v1.9h-1.9zM338.9 423.15h1.9v1.9h-1.9zM338.9 424.9h1.9v1.9h-1.9zM340.65 423.15h1.9v1.9h-1.9zM340.65 437.15h1.9v1.9h-1.9zM342.4 412.65h1.9v1.9h-1.9zM342.4 438.9h1.9v1.9h-1.9zM345.9 438.9h1.9v1.9h-1.9zM347.65 417.9h1.9v1.9h-1.9zM351.15 421.4h1.9v1.9h-1.9zM352.9 407.4h1.9v1.9h-1.9zM352.9 438.9h1.9v1.9h-1.9zM354.65 423.15h1.9v1.9h-1.9zM354.65 438.9h1.9v1.9h-1.9z" fill="#063d40"/>
<path d="M312.65 431.9h1.9v1.9h-1.9zM316.15 419.65h1.9v1.9h-1.9zM316.15 431.9h1.9v1.9h-1.9zM317.9 419.65h1.9v1.9h-1.9zM319.65 424.9h1.9v1.9h-1.9zM319.65 428.4h1.9v1.9h-1.9zM321.4 414.4h1.9v1.9h-1.9zM321.4 424.9h1.9v1.9h-1.9zM321.4 431.9h1.9v1.9h-1.9zM323.15 421.4h1.9v1.9h-1.9zM323.15 424.9h1.9v1.9h-1.9zM323.15 426.65h1.9v1.9h-1.9zM323.15 428.4h1.9v1.9h-1.9zM323.15 430.15h1.9v1.9h-1.9zM324.9 421.4h1.9v1.9h-1.9zM324.9 435.4h1.9v1.9h-1.9zM326.65 416.15h1.9v1.9h-1.9zM326.65 421.4h1.9v1.9h-1.9zM326.65 430.15h1.9v1.9h-1.9zM326.65 431.9h1.9v1.9h-1.9zM326.65 433.65h1.9v1.9h-1.9zM328.4 419.65h1.9v1.9h-1.9zM328.4 423.15h1.9v1.9h-1.9zM328.4 430.15h1.9v1.9h-1.9zM330.15 421.4h1.9v1.9h-1.9zM330.15 423.15h1.9v1.9h-1.9zM330.15 428.4h1.9v1.9h-1.9zM331.9 419.65h1.9v1.9h-1.9zM331.9 430.15h1.9v1.9h-1.9zM333.65 412.65h1.9v1.9h-1.9zM333.65 416.15h1.9v1.9h-1.9zM333.65 419.65h1.9v1.9h-1.9zM333.65 421.4h1.9v1.9h-1.9zM333.65 426.65h1.9v1.9h-1.9zM333.65 428.4h1.9v1.9h-1.9zM333.65 435.4h1.9v1.9h-1.9zM335.4 416.15h1.9v1.9h-1.9zM335.4 419.65h1.9v1.9h-1.9zM335.4 423.15h1.9v1.9h-1.9zM335.4 426.65h1.9v1.9h-1.9zM335.4 437.15h1.9v1.9h-1.9zM337.15 417.9h1.9v1.9h-1.9zM337.15 423.15h1.9v1.9h-1.9zM338.9 414.4h1.9v1.9h-1.9zM338.9 426.65h1.9v1.9h-1.9zM338.9 435.4h1.9v1.9h-1.9zM340.65 417.9h1.9v1.9h-1.9zM340.65 433.65h1.9v1.9h-1.9zM342.4 417.9h1.9v1.9h-1.9zM342.4 419.65h1.9v1.9h-1.9zM342.4 428.4h1.9v1.9h-1.9zM342.4 430.15h1.9v1.9h-1.9zM342.4 433.65h1.9v1.9h-1.9zM344.15 416.15h1.9v1.9h-1.9zM344.15 417.9h1.9v1.9h-1.9zM344.15 423.15h1.9v1.9h-1.9zM344.15 430.15h1.9v1.9h-1.9zM345.9 417.9h1.9v1.9h-1.9zM345.9 419.65h1.9v1.9h-1.9zM345.9 421.4h1.9v1.9h-1.9zM349.4 424.9h1.9v1.9h-1.9zM351.15 424.9h1.9v1.9h-1.9zM352.9 416.15h1.9v1.9h-1.9z" fill="#0b959b"/>
<path d="M312.65 423.15h1.9v1.9h-1.9zM312.65 426.65h1.9v1.9h-1.9zM317.9 416.15h1.9v1.9h-1.9zM317.9 424.9h1.9v1.9h-1.9zM317.9 428.4h1.9v1.9h-1.9zM321.4 417.9h1.9v1.9h-1.9zM321.4 423.15h1.9v1.9h-1.9zM323.15 414.4h1.9v1.9h-1.9zM323.15 423.15h1.9v1.9h-1.9zM323.15 433.65h1.9v1.9h-1.9zM324.9 417.9h1.9v1.9h-1.9zM324.9 424.9h1.9v1.9h-1.9zM324.9 428.4h1.9v1.9h-1.9zM328.4 416.15h1.9v1.9h-1.9zM328.4 433.65h1.9v1.9h-1.9zM330.15 412.65h1.9v1.9h-1.9zM330.15 417.9h1.9v1.9h-1.9zM330.15 424.9h1.9v1.9h-1.9zM330.15 430.15h1.9v1.9h-1.9zM331.9 423.15h1.9v1.9h-1.9zM333.65 417.9h1.9v1.9h-1.9zM335.4 417.9h1.9v1.9h-1.9zM335.4 428.4h1.9v1.9h-1.9zM335.4 430.15h1.9v1.9h-1.9zM337.15 416.15h1.9v1.9h-1.9zM337.15 419.65h1.9v1.9h-1.9zM337.15 421.4h1.9v1.9h-1.9zM337.15 424.9h1.9v1.9h-1.9zM337.15 426.65h1.9v1.9h-1.9zM337.15 430.15h1.9v1.9h-1.9zM338.9 419.65h1.9v1.9h-1.9zM338.9 421.4h1.9v1.9h-1.9zM340.65 424.9h1.9v1.9h-1.9zM340.65 431.9h1.9v1.9h-1.9zM342.4 421.4h1.9v1.9h-1.9zM342.4 426.65h1.9v1.9h-1.9zM344.15 424.9h1.9v1.9h-1.9zM345.9 424.9h1.9v1.9h-1.9zM345.9 426.65h1.9v1.9h-1.9zM347.65 423.15h1.9v1.9h-1.9z" fill="#13cdd4"/>
<path d="M328.4 426.65h1.9v1.9h-1.9zM331.9 417.9h1.9v1.9h-1.9zM331.9 421.4h1.9v1.9h-1.9zM331.9 426.65h1.9v1.9h-1.9zM333.65 423.15h1.9v1.9h-1.9zM333.65 424.9h1.9v1.9h-1.9zM335.4 421.4h1.9v1.9h-1.9zM342.4 424.9h1.9v1.9h-1.9z" fill="#30f2f7"/>
<rect x="362.1" y="407.4" width="49.6" height="38.3" fill="#000" stroke="none" stroke-width="1"/>
<path d="M365.6 430.15h1.9v1.9h-1.9zM367.35 426.65h1.9v1.9h-1.9zM370.85 435.4h1.9v1.9h-1.9zM372.6 428.4h1.9v1.9h-1.9zM374.35 426.65h1.9v1.9h-1.9zM374.35 431.9h1.9v1.9h-1.9zM374.35 438.9h1.9v1.9h-1.9zM377.85 424.9h1.9v1.9h-1.9zM379.6 442.4h1.9v1.9h-1.9zM381.35 430.15h1.9v1.9h-1.9zM383.1 426.65h1.9v1.9h-1.9zM384.85 426.65h1.9v1.9h-1.9zM386.6 419.65h1.9v1.9h-1.9zM386.6 430.15h1.9v1.9h-1.9zM386.6 431.9h1.9v1.9h-1.9zM390.1 412.65h1.9v1.9h-1.9zM393.6 419.65h1.9v1.9h-1.9zM393.6 428.4h1.9v1.9h-1.9zM393.6 431.9h1.9v1.9h-1.9zM395.35 421.4h1.9v1.9h-1.9zM397.1 424.9h1.9v1.9h-1.9zM404.1 424.9h1.9v1.9h-1.9zM405.85 421.4h1.9v1.9h-1.9z" fill="#063d40"/>
<path d="M363.85 426.65h1.9v1.9h-1.9zM367.35 428.4h1.9v1.9h-1.9zM369.1 419.65h1.9v1.9h-1.9zM369.1 428.4h1.9v1.9h-1.9zM369.1 430.15h1.9v1.9h-1.9zM369.1 437.15h1.9v1.9h-1.9zM372.6 423.15h1.9v1.9h-1.9zM372.6 433.65h1.9v1.9h-1.9zM374.35 424.9h1.9v1.9h-1.9zM376.1 417.9h1.9v1.9h-1.9zM376.1 421.4h1.9v1.9h-1.9zM376.1 423.15h1.9v1.9h-1.9zM376.1 428.4h1.9v1.9h-1.9zM376.1 430.15h1.9v1.9h-1.9zM376.1 435.4h1.9v1.9h-1.9zM377.85 417.9h1.9v1.9h-1.9zM377.85 423.15h1.9v1.9h-1.9zM377.85 435.4h1.9v1.9h-1.9zM379.6 438.9h1.9v1.9h-1.9zM381.35 412.65h1.9v1.9h-1.9zM381.35 419.65h1.9v1.9h-1.9zM383.1 414.4h1.9v1.9h-1.9zM383.1 428.4h1.9v1.9h-1.9zM383.1 431.9h1.9v1.9h-1.9zM384.85 424.9h1.9v1.9h-1.9zM386.6 421.4h1.9v1.9h-1.9zM386.6 426.65h1.9v1.9h-1.9zM386.6 437.15h1.9v1.9h-1.9zM388.35 428.4h1.9v1.9h-1.9zM388.35 435.4h1.9v1.9h-1.9zM390.1 421.4h1.9v1.9h-1.9zM390.1 426.65h1.9v1.9h-1.9zM390.1 430.15h1.9v1.9h-1.9zM391.85 424.9h1.9v1.9h-1.9zM391.85 430.15h1.9v1.9h-1.9zM393.6 421.4h1.9v1.9h-1.9zM395.35 423.15h1.9v1.9h-1.9zM395.35 431.9h1.9v1.9h-1.9zM398.85 419.65h1.9v1.9h-1.9zM398.85 428.4h1.9v1.9h-1.9z" fill="#0b959b"/>
<path d="M370.85 421.4h1.9v1.9h-1.9zM370.85 423.15h1.9v1.9h-1.9zM372.6 424.9h1.9v1.9h-1.9zM374.35 423.15h1.9v1.9h-1.9zM374.35 428.4h1.9v1.9h-1.9zM376.1 431.9h1.9v1.9h-1.9zM377.85 426.65h1.9v1.9h-1.9zM377.85 428.4h1.9v1.9h-1.9zM377.85 430.15h1.9v1.9h-1.9zM379.6 419.65h1.9v1.9h-1.9zM379.6 424.9h1.9v1.9h-1.9zM379.6 428.4h1.9v1.9h-1.9zM381.35 423.15h1.9v1.9h-1.9zM381.35 426.65h1.9v1.9h-1.9zM381.35 428.4h1.9v1.9h-1.9zM381.35 431.9h1.9v1.9h-1.9zM383.1 417.9h1.9v1.9h-1.9zM383.1 421.4h1.9v1.9h-1.9zM383.1 423.15h1.9v1.9h-1.9zM383.1 430.15h1.9v1.9h-1.9zM384.85 419.65h1.9v1.9h-1.9zM384.85 421.4h1.9v1.9h-1.9zM384.85 428.4h1.9v1.9h-1.9zM386.6 416.15h1.9v1.9h-1.9zM386.6 424.9h1.9v1.9h-1.9zM388.35 419.65h1.9v1.9h-1.9zM388.35 421.4h1.9v1.9h-1.9zM388.35 423.15h1.9v1.9h-1.9zM390.1 423.15h1.9v1.9h-1.9zM390.1 424.9h1.9v1.9h-1.9zM390.1 428.4h1.9v1.9h-1.9zM390.1 433.65h1.9v1.9h-1.9zM391.85 423.15h1.9v1.9h-1.9zM393.6 423.15h1.9v1.9h-1.9zM395.35 424.9h1.9v1.9h-1.9zM397.1 431.9h1.9v1.9h-1.9z" fill="#13cdd4"/>
<path d="M372.6 426.65h1.9v1.9h-1.9zM379.6 423.15h1.9v1.9h-1.9zM379.6 426.65h1.9v1.9h-1.9zM381.35 424.9h1.9v1.9h-1.9zM383.1 419.65h1.9v1.9h-1.9zM383.1 424.9h1.9v1.9h-1.9zM386.6 423.15h1.9v1.9h-1.9zM388.35 426.65h1.9v1.9h-1.9z" fill="#30f2f7"/>
<rect x="416.5" y="407.4" width="50.4" height="38.3" fill="#000" stroke="none" stroke-width="1"/>
<path d="M418.25 433.65h1.9v1.9h-1.9zM421.75 437.15h1.9v1.9h-1.9zM423.5 419.65h1.9v1.9h-1.9zM425.25 423.15h1.9v1.9h-1.9zM427 407.4h1.9v1.9h-1.9zM428.75 426.65h1.9v1.9h-1.9zM430.5 419.65h1.9v1.9h-1.9zM430.5 423.15h1.9v1.9h-1.9zM432.25 407.4h1.9v1.9h-1.9zM432.25 423.15h1.9v1.9h-1.9zM432.25 431.9h1.9v1.9h-1.9zM434 414.4h1.9v1.9h-1.9zM434 421.4h1.9v1.9h-1.9zM435.75 409.15h1.9v1.9h-1.9zM435.75 410.9h1.9v1.9h-1.9zM435.75 414.4h1.9v1.9h-1.9zM435.75 423.15h1.9v1.9h-1.9zM435.75 437.15h1.9v1.9h-1.9zM437.5 412.65h1.9v1.9h-1.9zM437.5 416.15h1.9v1.9h-1.9zM439.25 423.15h1.9v1.9h-1.9zM441 435.4h1.9v1.9h-1.9zM441 442.4h1.9v1.9h-1.9zM444.5 419.65h1.9v1.9h-1.9zM444.5 430.15h1.9v1.9h-1.9zM446.25 416.15h1.9v1.9h-1.9zM446.25 435.4h1.9v1.9h-1.9zM448 437.15h1.9v1.9h-1.9zM451.5 407.4h1.9v1.9h-1.9zM451.5 416.15h1.9v1.9h-1.9zM451.5 428.4h1.9v1.9h-1.9zM453.25 421.4h1.9v1.9h-1.9zM455 424.9h1.9v1.9h-1.9zM456.75 423.15h1.9v1.9h-1.9zM456.75 426.65h1.9v1.9h-1.9zM458.5 428.4h1.9v1.9h-1.9zM460.25 433.65h1.9v1.9h-1.9z" fill="#063d40"/>
<path d="M425.25 426.65h1.9v1.9h-1.9zM425.25 430.15h1.9v1.9h-1.9zM428.75 421.4h1.9v1.9h-1.9zM428.75 428.4h1.9v1.9h-1.9zM428.75 433.65h1.9v1.9h-1.9zM430.5 416.15h1.9v1.9h-1.9zM430.5 421.4h1.9v1.9h-1.9zM430.5 424.9h1.9v1.9h-1.9zM430.5 428.4h1.9v1.9h-1.9zM430.5 433.65h1.9v1.9h-1.9zM432.25 416.15h1.9v1.9h-1.9zM432.25 421.4h1.9v1.9h-1.9zM432.25 433.65h1.9v1.9h-1.9zM434 416.15h1.9v1.9h-1.9zM434 424.9h1.9v1.9h-1.9zM434 426.65h1.9v1.9h-1.9zM434 431.9h1.9v1.9h-1.9zM435.75 412.65h1.9v1.9h-1.9zM435.75 419.65h1.9v1.9h-1.9zM435.75 426.65h1.9v1.9h-1.9zM435.75 430.15h1.9v1.9h-1.9zM435.75 433.65h1.9v1.9h-1.9zM437.5 430.15h1.9v1.9h-1.9zM439.25 414.4h1.9v1.9h-1.9zM439.25 426.65h1.9v1.9h-1.9zM439.25 437.15h1.9v1.9h-1.9zM441 412.65h1.9v1.9h-1.9zM441 416.15h1.9v1.9h-1.9zM441 417.9h1.9v1.9h-1.9zM441 421.4h1.9v1.9h-1.9zM441 428.4h1.9v1.9h-1.9zM441 430.15h1.9v1.9h-1.9zM441 431.9h1.9v1.9h-1.9zM442.75 416.15h1.9v1.9h-1.9zM442.75 424.9h1.9v1.9h-1.9zM442.75 428.4h1.9v1.9h-1.9zM444.5 416.15h1.9v1.9h-1.9zM444.5 417.9h1.9v1.9h-1.9zM444.5 423.15h1.9v1.9h-1.9zM444.5 424.9h1.9v1.9h-1.9zM444.5 426.65h1.9v1.9h-1.9zM444.5 431.9h1.9v1.9h-1.9zM446.25 421.4h1.9v1.9h-1.9zM446.25 428.4h1.9v1.9h-1.9zM446.25 430.15h1.9v1.9h-1.9zM448 417.9h1.9v1.9h-1.9zM448 424.9h1.9v1.9h-1.9zM448 426.65h1.9v1.9h-1.9zM448 430.15h1.9v1.9h-1.9zM449.75 419.65h1.9v1.9h-1.9zM449.75 421.4h1.9v1.9h-1.9zM449.75 428.4h1.9v1.9h-1.9zM449.75 430.15h1.9v1.9h-1.9zM451.5 417.9h1.9v1.9h-1.9zM453.25 416.15h1.9v1.9h-1.9zM453.25 423.15h1.9v1.9h-1.9zM453.25 428.4h1.9v1.9h-1.9zM453.25 430.15h1.9v1.9h-1.9zM456.75 417.9h1.9v1.9h-1.9zM458.5 414.4h1.9v1.9h-1.9zM462 428.4h1.9v1.9h-1.9z" fill="#0b959b"/>
<path d="M428.75 424.9h1.9v1.9h-1.9zM430.5 431.9h1.9v1.9h-1.9zM432.25 419.65h1.9v1.9h-1.9zM432.25 426.65h1.9v1.9h-1.9zM432.25 428.4h1.9v1.9h-1.9zM432.25 430.15h1.9v1.9h-1.9zM434 419.65h1.9v1.9h-1.9zM434 430.15h1.9v1.9h-1.9zM435.75 417.9h1.9v1.9h-1.9zM435.75 421.4h1.9v1.9h-1.9zM435.75 424.9h1.9v1.9h-1.9zM437.5 414.4h1.9v1.9h-1.9zM437.5 419.65h1.9v1.9h-1.9zM437.5 423.15h1.9v1.9h-1.9zM437.5 424.9h1.9v1.9h-1.9zM439.25 412.65h1.9v1.9h-1.9zM439.25 417.9h1.9v1.9h-1.9zM439.25 419.65h1.9v1.9h-1.9zM439.25 424.9h1.9v1.9h-1.9zM441 423.15h1.9v1.9h-1.9zM441 424.9h1.9v1.9h-1.9zM442.75 414.4h1.9v1.9h-1.9zM442.75 417.9h1.9v1.9h-1.9zM442.75 419.65h1.9v1.9h-1.9zM442.75 421.4h1.9v1.9h-1.9zM442.75 423.15h1.9v1.9h-1.9zM442.75 426.65h1.9v1.9h-1.9zM442.75 430.15h1.9v1.9h-1.9zM442.75 431.9h1.9v1.9h-1.9zM442.75 437.15h1.9v1.9h-1.9zM444.5 414.4h1.9v1.9h-1.9zM444.5 428.4h1.9v1.9h-1.9zM444.5 435.4h1.9v1.9h-1.9zM446.25 412.65h1.9v1.9h-1.9zM446.25 417.9h1.9v1.9h-1.9zM446.25 431.9h1.9v1.9h-1.9zM446.25 433.65h1.9v1.9h-1.9zM448 412.65h1.9v1.9h-1.9zM448 419.65h1.9v1.9h-1.9zM448 428.4h1.9v1.9h-1.9zM449.75 417.9h1.9v1.9h-1.9zM449.75 424.9h1.9v1.9h-1.9zM449.75 426.65h1.9v1.9h-1.9zM449.75 431.9h1.9v1.9h-1.9zM451.5 421.4h1.9v1.9h-1.9zM451.5 426.65h1.9v1.9h-1.9zM453.25 419.65h1.9v1.9h-1.9zM455 421.4h1.9v1.9h-1.9zM456.75 428.4h1.9v1.9h-1.9z" fill="#13cdd4"/>
<path d="M434 423.15h1.9v1.9h-1.9zM437.5 421.4h1.9v1.9h-1.9zM437.5 426.65h1.9v1.9h-1.9zM437.5 428.4h1.9v1.9h-1.9zM439.25 421.4h1.9v1.9h-1.9zM441 419.65h1.9v1.9h-1.9zM441 426.65h1.9v1.9h-1.9zM444.5 421.4h1.9v1.9h-1.9zM446.25 424.9h1.9v1.9h-1.9zM448 421.4h1.9v1.9h-1.9z" fill="#30f2f7"/>
<text x="289" y="466.74" font-size="8" font-weight="bold" text-anchor="middle" fill="#111">Fast</text>
<text x="289" y="476.34" font-size="8" font-weight="bold" text-anchor="middle" fill="#111">relaxing</text>
<rect x="307.4" y="449.8" width="50" height="37.8" fill="#000" stroke="none" stroke-width="1"/>
<path d="M312.65 455.05h1.9v1.9h-1.9zM314.4 484.8h1.9v1.9h-1.9zM317.9 449.8h1.9v1.9h-1.9zM317.9 451.55h1.9v1.9h-1.9zM317.9 455.05h1.9v1.9h-1.9zM317.9 458.55h1.9v1.9h-1.9zM323.15 453.3h1.9v1.9h-1.9zM323.15 458.55h1.9v1.9h-1.9zM323.15 479.55h1.9v1.9h-1.9zM324.9 477.8h1.9v1.9h-1.9zM324.9 479.55h1.9v1.9h-1.9zM326.65 463.8h1.9v1.9h-1.9zM328.4 462.05h1.9v1.9h-1.9zM328.4 481.3h1.9v1.9h-1.9zM330.15 460.3h1.9v1.9h-1.9zM330.15 484.8h1.9v1.9h-1.9zM331.9 462.05h1.9v1.9h-1.9zM331.9 467.3h1.9v1.9h-1.9zM333.65 467.3h1.9v1.9h-1.9zM335.4 465.55h1.9v1.9h-1.9zM337.15 451.55h1.9v1.9h-1.9zM337.15 462.05h1.9v1.9h-1.9zM337.15 470.8h1.9v1.9h-1.9zM337.15 477.8h1.9v1.9h-1.9zM338.9 470.8h1.9v1.9h-1.9zM340.65 472.55h1.9v1.9h-1.9zM342.4 469.05h1.9v1.9h-1.9zM342.4 474.3h1.9v1.9h-1.9zM342.4 479.55h1.9v1.9h-1.9zM345.9 483.05h1.9v1.9h-1.9zM347.65 483.05h1.9v1.9h-1.9zM349.4 460.3h1.9v1.9h-1.9zM351.15 472.55h1.9v1.9h-1.9zM352.9 469.05h1.9v1.9h-1.9z" fill="#063d40"/>
<path d="M319.65 456.8h1.9v1.9h-1.9zM323.15 470.8h1.9v1.9h-1.9zM324.9 463.8h1.9v1.9h-1.9zM324.9 465.55h1.9v1.9h-1.9zM324.9 470.8h1.9v1.9h-1.9zM326.65 453.3h1.9v1.9h-1.9zM328.4 458.55h1.9v1.9h-1.9zM328.4 463.8h1.9v1.9h-1.9zM328.4 470.8h1.9v1.9h-1.9zM328.4 472.55h1.9v1.9h-1.9zM330.15 456.8h1.9v1.9h-1.9zM330.15 462.05h1.9v1.9h-1.9zM330.15 469.05h1.9v1.9h-1.9zM330.15 474.3h1.9v1.9h-1.9zM331.9 460.3h1.9v1.9h-1.9zM331.9 463.8h1.9v1.9h-1.9zM331.9 469.05h1.9v1.9h-1.9zM333.65 465.55h1.9v1.9h-1.9zM333.65 469.05h1.9v1.9h-1.9zM333.65 470.8h1.9v1.9h-1.9zM335.4 458.55h1.9v1.9h-1.9zM335.4 472.55h1.9v1.9h-1.9zM335.4 476.05h1.9v1.9h-1.9zM337.15 476.05h1.9v1.9h-1.9zM338.9 463.8h1.9v1.9h-1.9zM338.9 472.55h1.9v1.9h-1.9zM340.65 455.05h1.9v1.9h-1.9zM340.65 467.3h1.9v1.9h-1.9zM340.65 470.8h1.9v1.9h-1.9zM340.65 474.3h1.9v1.9h-1.9zM342.4 456.8h1.9v1.9h-1.9zM342.4 460.3h1.9v1.9h-1.9zM342.4 462.05h1.9v1.9h-1.9zM342.4 465.55h1.9v1.9h-1.9zM342.4 470.8h1.9v1.9h-1.9zM342.4 472.55h1.9v1.9h-1.9zM342.4 477.8h1.9v1.9h-1.9zM344.15 455.05h1.9v1.9h-1.9zM344.15 465.55h1.9v1.9h-1.9zM344.15 469.05h1.9v1.9h-1.9zM344.15 470.8h1.9v1.9h-1.9zM344.15 472.55h1.9v1.9h-1.9zM344.15 474.3h1.9v1.9h-1.9zM345.9 451.55h1.9v1.9h-1.9zM345.9 458.55h1.9v1.9h-1.9zM345.9 465.55h1.9v1.9h-1.9zM345.9 474.3h1.9v1.9h-1.9zM345.9 477.8h1.9v1.9h-1.9zM347.65 460.3h1.9v1.9h-1.9zM347.65 462.05h1.9v1.9h-1.9zM347.65 463.8h1.9v1.9h-1.9zM349.4 465.55h1.9v1.9h-1.9zM349.4 467.3h1.9v1.9h-1.9zM349.4 472.55h1.9v1.9h-1.9zM349.4 477.8h1.9v1.9h-1.9zM351.15 456.8h1.9v1.9h-1.9zM351.15 462.05h1.9v1.9h-1.9zM351.15 465.55h1.9v1.9h-1.9zM351.15 467.3h1.9v1.9h-1.9zM351.15 469.05h1.9v1.9h-1.9zM354.65 451.55h1.9v1.9h-1.9zM354.65 470.8h1.9v1.9h-1.9z" fill="#0b959b"/>
<path d="M328.4 467.3h1.9v1.9h-1.9zM330.15 467.3h1.9v1.9h-1.9zM330.15 470.8h1.9v1.9h-1.9zM330.15 479.55h1.9v1.9h-1.9zM331.9 465.55h1.9v1.9h-1.9zM331.9 472.55h1.9v1.9h-1.9zM331.9 474.3h1.9v1.9h-1.9zM333.65 462.05h1.9v1.9h-1.9zM335.4 467.3h1.9v1.9h-1.9zM337.15 469.05h1.9v1.9h-1.9zM337.15 472.55h1.9v1.9h-1.9zM337.15 474.3h1.9v1.9h-1.9zM338.9 462.05h1.9v1.9h-1.9zM338.9 465.55h1.9v1.9h-1.9zM340.65 458.55h1.9v1.9h-1.9zM340.65 462.05h1.9v1.9h-1.9zM340.65 463.8h1.9v1.9h-1.9zM344.15 463.8h1.9v1.9h-1.9zM344.15 467.3h1.9v1.9h-1.9zM345.9 463.8h1.9v1.9h-1.9zM347.65 458.55h1.9v1.9h-1.9zM347.65 465.55h1.9v1.9h-1.9zM347.65 467.3h1.9v1.9h-1.9zM347.65 472.55h1.9v1.9h-1.9zM349.4 463.8h1.9v1.9h-1.9zM351.15 483.05h1.9v1.9h-1.9zM352.9 474.3h1.9v1.9h-1.9zM354.65 460.3h1.9v1.9h-1.9z" fill="#13cdd4"/>
<path d="M337.15 467.3h1.9v1.9h-1.9zM340.65 465.55h1.9v1.9h-1.9zM344.15 460.3h1.9v1.9h-1.9zM345.9 469.05h1.9v1.9h-1.9z" fill="#30f2f7"/>
<rect x="362.1" y="449.8" width="49.6" height="37.8" fill="#000" stroke="none" stroke-width="1"/>
<path d="M365.6 474.3h1.9v1.9h-1.9zM369.1 467.3h1.9v1.9h-1.9zM370.85 453.3h1.9v1.9h-1.9zM372.6 460.3h1.9v1.9h-1.9zM374.35 463.8h1.9v1.9h-1.9zM376.1 474.3h1.9v1.9h-1.9zM377.85 455.05h1.9v1.9h-1.9zM379.6 449.8h1.9v1.9h-1.9zM379.6 455.05h1.9v1.9h-1.9zM381.35 465.55h1.9v1.9h-1.9zM383.1 479.55h1.9v1.9h-1.9zM384.85 455.05h1.9v1.9h-1.9zM384.85 479.55h1.9v1.9h-1.9zM386.6 453.3h1.9v1.9h-1.9zM390.1 449.8h1.9v1.9h-1.9zM391.85 458.55h1.9v1.9h-1.9zM395.35 463.8h1.9v1.9h-1.9zM397.1 477.8h1.9v1.9h-1.9zM398.85 476.05h1.9v1.9h-1.9zM398.85 477.8h1.9v1.9h-1.9zM400.6 465.55h1.9v1.9h-1.9zM400.6 470.8h1.9v1.9h-1.9zM405.85 476.05h1.9v1.9h-1.9zM405.85 481.3h1.9v1.9h-1.9zM407.6 451.55h1.9v1.9h-1.9zM409.35 476.05h1.9v1.9h-1.9zM409.35 479.55h1.9v1.9h-1.9z" fill="#063d40"/>
<path d="M377.85 469.05h1.9v1.9h-1.9zM383.1 460.3h1.9v1.9h-1.9zM383.1 463.8h1.9v1.9h-1.9zM384.85 458.55h1.9v1.9h-1.9zM384.85 460.3h1.9v1.9h-1.9zM386.6 477.8h1.9v1.9h-1.9zM386.6 481.3h1.9v1.9h-1.9zM388.35 460.3h1.9v1.9h-1.9zM388.35 469.05h1.9v1.9h-1.9zM388.35 474.3h1.9v1.9h-1.9zM390.1 458.55h1.9v1.9h-1.9zM390.1 463.8h1.9v1.9h-1.9zM391.85 465.55h1.9v1.9h-1.9zM391.85 467.3h1.9v1.9h-1.9zM391.85 469.05h1.9v1.9h-1.9zM391.85 476.05h1.9v1.9h-1.9zM393.6 458.55h1.9v1.9h-1.9zM393.6 462.05h1.9v1.9h-1.9zM393.6 463.8h1.9v1.9h-1.9zM393.6 465.55h1.9v1.9h-1.9zM395.35 458.55h1.9v1.9h-1.9zM395.35 460.3h1.9v1.9h-1.9zM395.35 467.3h1.9v1.9h-1.9zM395.35 470.8h1.9v1.9h-1.9zM397.1 460.3h1.9v1.9h-1.9zM397.1 469.05h1.9v1.9h-1.9zM397.1 481.3h1.9v1.9h-1.9zM398.85 458.55h1.9v1.9h-1.9zM398.85 469.05h1.9v1.9h-1.9zM398.85 470.8h1.9v1.9h-1.9zM398.85 472.55h1.9v1.9h-1.9zM400.6 467.3h1.9v1.9h-1.9zM400.6 474.3h1.9v1.9h-1.9zM404.1 465.55h1.9v1.9h-1.9zM404.1 469.05h1.9v1.9h-1.9zM404.1 479.55h1.9v1.9h-1.9zM407.6 467.3h1.9v1.9h-1.9z" fill="#0b959b"/>
<path d="M383.1 465.55h1.9v1.9h-1.9zM383.1 467.3h1.9v1.9h-1.9zM383.1 469.05h1.9v1.9h-1.9zM383.1 470.8h1.9v1.9h-1.9zM383.1 472.55h1.9v1.9h-1.9zM384.85 463.8h1.9v1.9h-1.9zM384.85 465.55h1.9v1.9h-1.9zM384.85 472.55h1.9v1.9h-1.9zM386.6 460.3h1.9v1.9h-1.9zM386.6 465.55h1.9v1.9h-1.9zM386.6 469.05h1.9v1.9h-1.9zM386.6 472.55h1.9v1.9h-1.9zM388.35 463.8h1.9v1.9h-1.9zM388.35 465.55h1.9v1.9h-1.9zM388.35 467.3h1.9v1.9h-1.9zM388.35 476.05h1.9v1.9h-1.9zM390.1 462.05h1.9v1.9h-1.9zM390.1 465.55h1.9v1.9h-1.9zM391.85 463.8h1.9v1.9h-1.9zM393.6 469.05h1.9v1.9h-1.9zM393.6 474.3h1.9v1.9h-1.9zM395.35 469.05h1.9v1.9h-1.9zM397.1 479.55h1.9v1.9h-1.9zM398.85 460.3h1.9v1.9h-1.9zM398.85 465.55h1.9v1.9h-1.9zM398.85 467.3h1.9v1.9h-1.9zM400.6 462.05h1.9v1.9h-1.9zM405.85 465.55h1.9v1.9h-1.9z" fill="#13cdd4"/>
<rect x="416.5" y="449.8" width="50.4" height="37.8" fill="#000" stroke="none" stroke-width="1"/>
<path d="M423.5 462.05h1.9v1.9h-1.9zM427 465.55h1.9v1.9h-1.9zM430.5 455.05h1.9v1.9h-1.9zM430.5 472.55h1.9v1.9h-1.9zM432.25 462.05h1.9v1.9h-1.9zM432.25 469.05h1.9v1.9h-1.9zM434 455.05h1.9v1.9h-1.9zM435.75 465.55h1.9v1.9h-1.9zM439.25 470.8h1.9v1.9h-1.9zM439.25 481.3h1.9v1.9h-1.9zM441 449.8h1.9v1.9h-1.9zM442.75 458.55h1.9v1.9h-1.9zM442.75 469.05h1.9v1.9h-1.9zM442.75 484.8h1.9v1.9h-1.9zM446.25 453.3h1.9v1.9h-1.9zM446.25 456.8h1.9v1.9h-1.9zM446.25 465.55h1.9v1.9h-1.9zM446.25 467.3h1.9v1.9h-1.9zM446.25 474.3h1.9v1.9h-1.9zM446.25 477.8h1.9v1.9h-1.9zM448 458.55h1.9v1.9h-1.9zM448 460.3h1.9v1.9h-1.9zM449.75 465.55h1.9v1.9h-1.9zM449.75 469.05h1.9v1.9h-1.9zM449.75 470.8h1.9v1.9h-1.9zM451.5 460.3h1.9v1.9h-1.9zM451.5 470.8h1.9v1.9h-1.9zM451.5 476.05h1.9v1.9h-1.9zM455 476.05h1.9v1.9h-1.9zM460.25 474.3h1.9v1.9h-1.9zM462 449.8h1.9v1.9h-1.9z" fill="#063d40"/>
<path d="M435.75 462.05h1.9v1.9h-1.9zM437.5 476.05h1.9v1.9h-1.9zM441 458.55h1.9v1.9h-1.9zM441 462.05h1.9v1.9h-1.9zM441 463.8h1.9v1.9h-1.9zM441 467.3h1.9v1.9h-1.9zM442.75 462.05h1.9v1.9h-1.9zM442.75 465.55h1.9v1.9h-1.9zM442.75 472.55h1.9v1.9h-1.9zM442.75 474.3h1.9v1.9h-1.9zM444.5 474.3h1.9v1.9h-1.9zM446.25 460.3h1.9v1.9h-1.9zM446.25 469.05h1.9v1.9h-1.9zM446.25 470.8h1.9v1.9h-1.9zM446.25 472.55h1.9v1.9h-1.9zM448 463.8h1.9v1.9h-1.9zM448 469.05h1.9v1.9h-1.9zM448 470.8h1.9v1.9h-1.9zM449.75 460.3h1.9v1.9h-1.9zM449.75 462.05h1.9v1.9h-1.9zM449.75 467.3h1.9v1.9h-1.9zM449.75 474.3h1.9v1.9h-1.9zM451.5 458.55h1.9v1.9h-1.9zM451.5 462.05h1.9v1.9h-1.9zM451.5 469.05h1.9v1.9h-1.9zM453.25 453.3h1.9v1.9h-1.9zM453.25 465.55h1.9v1.9h-1.9zM453.25 472.55h1.9v1.9h-1.9zM455 467.3h1.9v1.9h-1.9zM456.75 467.3h1.9v1.9h-1.9zM456.75 477.8h1.9v1.9h-1.9zM458.5 463.8h1.9v1.9h-1.9zM458.5 467.3h1.9v1.9h-1.9zM460.25 462.05h1.9v1.9h-1.9zM463.75 467.3h1.9v1.9h-1.9zM463.75 470.8h1.9v1.9h-1.9z" fill="#0b959b"/>
<path d="M442.75 467.3h1.9v1.9h-1.9zM444.5 470.8h1.9v1.9h-1.9zM444.5 472.55h1.9v1.9h-1.9zM446.25 463.8h1.9v1.9h-1.9zM451.5 465.55h1.9v1.9h-1.9zM453.25 463.8h1.9v1.9h-1.9zM453.25 467.3h1.9v1.9h-1.9zM453.25 476.05h1.9v1.9h-1.9zM455 470.8h1.9v1.9h-1.9zM455 472.55h1.9v1.9h-1.9zM456.75 465.55h1.9v1.9h-1.9zM456.75 469.05h1.9v1.9h-1.9zM456.75 476.05h1.9v1.9h-1.9zM458.5 469.05h1.9v1.9h-1.9zM458.5 470.8h1.9v1.9h-1.9zM460.25 465.55h1.9v1.9h-1.9z" fill="#13cdd4"/>
<rect x="449.6" y="482.6" width="15" height="2.2" fill="#fff" stroke="none" stroke-width="1"/>
<path d="M470.2 475.6V490.4H455.2" fill="none" stroke="#111" stroke-width="1.5"/>
<path d="M467.9 476L470.2 471.7L472.5 476Z" fill="#111" stroke="none" stroke-width="1"/>
<path d="M455.1 488.1L450.8 490.4L455.1 492.7Z" fill="#111" stroke="none" stroke-width="1"/>
<text x="474.1" y="484.6" font-size="9" font-weight="normal" text-anchor="middle" fill="#111">y</text>
<text x="463.2" y="497.4" font-size="9" font-weight="normal" text-anchor="middle" fill="#111">z</text>
<text x="334.2" y="503.24" font-size="8" font-weight="bold" text-anchor="middle" fill="#111">Cell 1</text>
<text x="388.7" y="503.24" font-size="8" font-weight="bold" text-anchor="middle" fill="#111">Cell 2</text>
<text x="443.5" y="503.24" font-size="8" font-weight="bold" text-anchor="middle" fill="#111">Cell 3</text>
<line x1="270.8" y1="506.7" x2="270.8" y2="621.8" stroke="#333" stroke-width="0.8"/>
<text x="264.4" y="568.02" font-size="9.2" font-weight="bold" text-anchor="middle" fill="#111" transform="rotate(-90 264.4 564.75)">20 kPa</text>
<text x="289" y="526.54" font-size="8" font-weight="bold" text-anchor="middle" fill="#111">Elastic</text>
<rect x="307.4" y="505.2" width="50" height="37" fill="#000" stroke="none" stroke-width="1"/>
<path d="M309.15 531.45h1.9v1.9h-1.9zM312.65 527.95h1.9v1.9h-1.9zM316.15 517.45h1.9v1.9h-1.9zM316.15 519.2h1.9v1.9h-1.9zM317.9 529.7h1.9v1.9h-1.9zM319.65 513.95h1.9v1.9h-1.9zM321.4 520.95h1.9v1.9h-1.9zM323.15 538.45h1.9v1.9h-1.9zM324.9 517.45h1.9v1.9h-1.9zM326.65 517.45h1.9v1.9h-1.9zM330.15 531.45h1.9v1.9h-1.9zM331.9 508.7h1.9v1.9h-1.9zM331.9 512.2h1.9v1.9h-1.9zM331.9 519.2h1.9v1.9h-1.9zM331.9 526.2h1.9v1.9h-1.9zM333.65 510.45h1.9v1.9h-1.9zM333.65 536.7h1.9v1.9h-1.9zM333.65 538.45h1.9v1.9h-1.9zM337.15 536.7h1.9v1.9h-1.9zM340.65 527.95h1.9v1.9h-1.9zM342.4 512.2h1.9v1.9h-1.9zM342.4 533.2h1.9v1.9h-1.9zM342.4 536.7h1.9v1.9h-1.9zM344.15 513.95h1.9v1.9h-1.9zM345.9 513.95h1.9v1.9h-1.9zM347.65 515.7h1.9v1.9h-1.9zM351.15 536.7h1.9v1.9h-1.9zM354.65 524.45h1.9v1.9h-1.9z" fill="#063d40"/>
<path d="M314.4 522.7h1.9v1.9h-1.9zM319.65 508.7h1.9v1.9h-1.9zM319.65 515.7h1.9v1.9h-1.9zM321.4 508.7h1.9v1.9h-1.9zM321.4 519.2h1.9v1.9h-1.9zM323.15 512.2h1.9v1.9h-1.9zM323.15 520.95h1.9v1.9h-1.9zM323.15 522.7h1.9v1.9h-1.9zM323.15 533.2h1.9v1.9h-1.9zM324.9 512.2h1.9v1.9h-1.9zM324.9 513.95h1.9v1.9h-1.9zM324.9 515.7h1.9v1.9h-1.9zM324.9 520.95h1.9v1.9h-1.9zM324.9 522.7h1.9v1.9h-1.9zM324.9 526.2h1.9v1.9h-1.9zM324.9 533.2h1.9v1.9h-1.9zM326.65 508.7h1.9v1.9h-1.9zM326.65 515.7h1.9v1.9h-1.9zM326.65 520.95h1.9v1.9h-1.9zM328.4 519.2h1.9v1.9h-1.9zM328.4 520.95h1.9v1.9h-1.9zM328.4 527.95h1.9v1.9h-1.9zM328.4 529.7h1.9v1.9h-1.9zM330.15 513.95h1.9v1.9h-1.9zM330.15 519.2h1.9v1.9h-1.9zM330.15 520.95h1.9v1.9h-1.9zM330.15 526.2h1.9v1.9h-1.9zM330.15 534.95h1.9v1.9h-1.9zM331.9 506.95h1.9v1.9h-1.9zM331.9 515.7h1.9v1.9h-1.9zM331.9 529.7h1.9v1.9h-1.9zM331.9 531.45h1.9v1.9h-1.9zM331.9 538.45h1.9v1.9h-1.9zM333.65 515.7h1.9v1.9h-1.9zM333.65 520.95h1.9v1.9h-1.9zM333.65 526.2h1.9v1.9h-1.9zM335.4 513.95h1.9v1.9h-1.9zM335.4 519.2h1.9v1.9h-1.9zM335.4 520.95h1.9v1.9h-1.9zM335.4 524.45h1.9v1.9h-1.9zM337.15 513.95h1.9v1.9h-1.9zM337.15 515.7h1.9v1.9h-1.9zM337.15 520.95h1.9v1.9h-1.9zM337.15 524.45h1.9v1.9h-1.9zM337.15 526.2h1.9v1.9h-1.9zM337.15 529.7h1.9v1.9h-1.9zM337.15 538.45h1.9v1.9h-1.9zM337.15 540.2h1.9v1.9h-1.9zM338.9 506.95h1.9v1.9h-1.9zM338.9 508.7h1.9v1.9h-1.9zM338.9 513.95h1.9v1.9h-1.9zM338.9 517.45h1.9v1.9h-1.9zM338.9 520.95h1.9v1.9h-1.9zM338.9 536.7h1.9v1.9h-1.9zM340.65 517.45h1.9v1.9h-1.9zM340.65 520.95h1.9v1.9h-1.9zM342.4 513.95h1.9v1.9h-1.9zM342.4 520.95h1.9v1.9h-1.9z" fill="#0b959b"/>
<path d="M317.9 513.95h1.9v1.9h-1.9zM317.9 526.2h1.9v1.9h-1.9zM321.4 522.7h1.9v1.9h-1.9zM323.15 515.7h1.9v1.9h-1.9zM323.15 519.2h1.9v1.9h-1.9zM324.9 505.2h1.9v1.9h-1.9zM324.9 524.45h1.9v1.9h-1.9zM324.9 527.95h1.9v1.9h-1.9zM324.9 529.7h1.9v1.9h-1.9zM324.9 531.45h1.9v1.9h-1.9zM326.65 512.2h1.9v1.9h-1.9zM326.65 513.95h1.9v1.9h-1.9zM326.65 519.2h1.9v1.9h-1.9zM326.65 527.95h1.9v1.9h-1.9zM326.65 529.7h1.9v1.9h-1.9zM326.65 533.2h1.9v1.9h-1.9zM328.4 508.7h1.9v1.9h-1.9zM328.4 515.7h1.9v1.9h-1.9zM328.4 522.7h1.9v1.9h-1.9zM328.4 524.45h1.9v1.9h-1.9zM330.15 508.7h1.9v1.9h-1.9zM330.15 515.7h1.9v1.9h-1.9zM330.15 524.45h1.9v1.9h-1.9zM330.15 529.7h1.9v1.9h-1.9zM330.15 536.7h1.9v1.9h-1.9zM331.9 510.45h1.9v1.9h-1.9zM331.9 513.95h1.9v1.9h-1.9zM331.9 522.7h1.9v1.9h-1.9zM331.9 524.45h1.9v1.9h-1.9zM333.65 512.2h1.9v1.9h-1.9zM333.65 517.45h1.9v1.9h-1.9zM333.65 519.2h1.9v1.9h-1.9zM333.65 522.7h1.9v1.9h-1.9zM333.65 524.45h1.9v1.9h-1.9zM333.65 527.95h1.9v1.9h-1.9zM333.65 529.7h1.9v1.9h-1.9zM333.65 533.2h1.9v1.9h-1.9zM335.4 517.45h1.9v1.9h-1.9zM335.4 522.7h1.9v1.9h-1.9zM335.4 527.95h1.9v1.9h-1.9zM335.4 529.7h1.9v1.9h-1.9zM335.4 533.2h1.9v1.9h-1.9zM335.4 536.7h1.9v1.9h-1.9zM337.15 510.45h1.9v1.9h-1.9zM337.15 527.95h1.9v1.9h-1.9zM337.15 534.95h1.9v1.9h-1.9zM338.9 512.2h1.9v1.9h-1.9zM338.9 515.7h1.9v1.9h-1.9zM338.9 527.95h1.9v1.9h-1.9zM340.65 513.95h1.9v1.9h-1.9zM340.65 519.2h1.9v1.9h-1.9z" fill="#13cdd4"/>
<path d="M326.65 522.7h1.9v1.9h-1.9zM326.65 524.45h1.9v1.9h-1.9zM326.65 526.2h1.9v1.9h-1.9zM328.4 517.45h1.9v1.9h-1.9zM328.4 526.2h1.9v1.9h-1.9zM330.15 517.45h1.9v1.9h-1.9zM330.15 522.7h1.9v1.9h-1.9zM330.15 527.95h1.9v1.9h-1.9zM331.9 517.45h1.9v1.9h-1.9z" fill="#30f2f7"/>
<rect x="362.1" y="505.2" width="49.6" height="37" fill="#000" stroke="none" stroke-width="1"/>
<path d="M362.1 536.7h1.9v1.9h-1.9zM363.85 515.7h1.9v1.9h-1.9zM365.6 515.7h1.9v1.9h-1.9zM365.6 524.45h1.9v1.9h-1.9zM370.85 527.95h1.9v1.9h-1.9zM370.85 536.7h1.9v1.9h-1.9zM374.35 508.7h1.9v1.9h-1.9zM376.1 520.95h1.9v1.9h-1.9zM376.1 531.45h1.9v1.9h-1.9zM377.85 510.45h1.9v1.9h-1.9zM379.6 517.45h1.9v1.9h-1.9zM381.35 510.45h1.9v1.9h-1.9zM383.1 506.95h1.9v1.9h-1.9zM383.1 527.95h1.9v1.9h-1.9zM384.85 520.95h1.9v1.9h-1.9zM386.6 524.45h1.9v1.9h-1.9zM388.35 527.95h1.9v1.9h-1.9zM390.1 513.95h1.9v1.9h-1.9zM391.85 515.7h1.9v1.9h-1.9zM391.85 517.45h1.9v1.9h-1.9zM391.85 533.2h1.9v1.9h-1.9zM395.35 512.2h1.9v1.9h-1.9zM397.1 517.45h1.9v1.9h-1.9zM398.85 533.2h1.9v1.9h-1.9zM402.35 505.2h1.9v1.9h-1.9zM405.85 515.7h1.9v1.9h-1.9zM405.85 529.7h1.9v1.9h-1.9zM407.6 506.95h1.9v1.9h-1.9zM407.6 538.45h1.9v1.9h-1.9zM409.35 519.2h1.9v1.9h-1.9z" fill="#063d40"/>
<path d="M370.85 520.95h1.9v1.9h-1.9zM372.6 529.7h1.9v1.9h-1.9zM374.35 522.7h1.9v1.9h-1.9zM377.85 520.95h1.9v1.9h-1.9zM377.85 522.7h1.9v1.9h-1.9zM377.85 526.2h1.9v1.9h-1.9zM379.6 520.95h1.9v1.9h-1.9zM379.6 522.7h1.9v1.9h-1.9zM379.6 524.45h1.9v1.9h-1.9zM379.6 527.95h1.9v1.9h-1.9zM381.35 527.95h1.9v1.9h-1.9zM384.85 517.45h1.9v1.9h-1.9zM384.85 524.45h1.9v1.9h-1.9zM384.85 531.45h1.9v1.9h-1.9zM384.85 533.2h1.9v1.9h-1.9zM386.6 522.7h1.9v1.9h-1.9zM386.6 529.7h1.9v1.9h-1.9zM386.6 533.2h1.9v1.9h-1.9zM388.35 522.7h1.9v1.9h-1.9zM388.35 533.2h1.9v1.9h-1.9zM388.35 536.7h1.9v1.9h-1.9zM390.1 515.7h1.9v1.9h-1.9zM390.1 522.7h1.9v1.9h-1.9zM390.1 527.95h1.9v1.9h-1.9zM390.1 531.45h1.9v1.9h-1.9zM391.85 513.95h1.9v1.9h-1.9zM391.85 522.7h1.9v1.9h-1.9zM393.6 515.7h1.9v1.9h-1.9zM393.6 517.45h1.9v1.9h-1.9zM393.6 520.95h1.9v1.9h-1.9zM393.6 526.2h1.9v1.9h-1.9zM395.35 522.7h1.9v1.9h-1.9zM395.35 529.7h1.9v1.9h-1.9zM395.35 531.45h1.9v1.9h-1.9zM398.85 524.45h1.9v1.9h-1.9z" fill="#0b959b"/>
<path d="M369.1 519.2h1.9v1.9h-1.9zM370.85 524.45h1.9v1.9h-1.9zM374.35 527.95h1.9v1.9h-1.9zM377.85 536.7h1.9v1.9h-1.9zM379.6 519.2h1.9v1.9h-1.9zM381.35 515.7h1.9v1.9h-1.9zM381.35 519.2h1.9v1.9h-1.9zM381.35 520.95h1.9v1.9h-1.9zM381.35 524.45h1.9v1.9h-1.9zM383.1 517.45h1.9v1.9h-1.9zM383.1 524.45h1.9v1.9h-1.9zM383.1 526.2h1.9v1.9h-1.9zM383.1 531.45h1.9v1.9h-1.9zM384.85 515.7h1.9v1.9h-1.9zM384.85 519.2h1.9v1.9h-1.9zM386.6 520.95h1.9v1.9h-1.9zM386.6 526.2h1.9v1.9h-1.9zM386.6 527.95h1.9v1.9h-1.9zM388.35 524.45h1.9v1.9h-1.9zM388.35 526.2h1.9v1.9h-1.9zM390.1 520.95h1.9v1.9h-1.9zM390.1 524.45h1.9v1.9h-1.9zM391.85 519.2h1.9v1.9h-1.9zM391.85 529.7h1.9v1.9h-1.9zM391.85 531.45h1.9v1.9h-1.9zM393.6 524.45h1.9v1.9h-1.9zM395.35 519.2h1.9v1.9h-1.9zM395.35 526.2h1.9v1.9h-1.9zM397.1 526.2h1.9v1.9h-1.9zM398.85 531.45h1.9v1.9h-1.9zM402.35 522.7h1.9v1.9h-1.9z" fill="#13cdd4"/>
<path d="M381.35 522.7h1.9v1.9h-1.9zM384.85 527.95h1.9v1.9h-1.9zM388.35 519.2h1.9v1.9h-1.9zM390.1 526.2h1.9v1.9h-1.9z" fill="#30f2f7"/>
<rect x="416.5" y="505.2" width="50.4" height="37" fill="#000" stroke="none" stroke-width="1"/>
<path d="M416.5 517.45h1.9v1.9h-1.9zM421.75 520.95h1.9v1.9h-1.9zM421.75 540.2h1.9v1.9h-1.9zM423.5 517.45h1.9v1.9h-1.9zM423.5 522.7h1.9v1.9h-1.9zM425.25 522.7h1.9v1.9h-1.9zM427 519.2h1.9v1.9h-1.9zM430.5 519.2h1.9v1.9h-1.9zM430.5 526.2h1.9v1.9h-1.9zM430.5 529.7h1.9v1.9h-1.9zM432.25 505.2h1.9v1.9h-1.9zM435.75 515.7h1.9v1.9h-1.9zM435.75 524.45h1.9v1.9h-1.9zM437.5 515.7h1.9v1.9h-1.9zM437.5 524.45h1.9v1.9h-1.9zM439.25 512.2h1.9v1.9h-1.9zM439.25 520.95h1.9v1.9h-1.9zM441 519.2h1.9v1.9h-1.9zM442.75 524.45h1.9v1.9h-1.9zM444.5 522.7h1.9v1.9h-1.9zM446.25 533.2h1.9v1.9h-1.9zM448 524.45h1.9v1.9h-1.9zM449.75 515.7h1.9v1.9h-1.9zM449.75 526.2h1.9v1.9h-1.9zM451.5 505.2h1.9v1.9h-1.9zM456.75 510.45h1.9v1.9h-1.9zM456.75 538.45h1.9v1.9h-1.9zM460.25 540.2h1.9v1.9h-1.9z" fill="#063d40"/>
<path d="M421.75 513.95h1.9v1.9h-1.9zM423.5 524.45h1.9v1.9h-1.9zM432.25 510.45h1.9v1.9h-1.9zM432.25 519.2h1.9v1.9h-1.9zM432.25 524.45h1.9v1.9h-1.9zM434 512.2h1.9v1.9h-1.9zM434 522.7h1.9v1.9h-1.9zM435.75 517.45h1.9v1.9h-1.9zM435.75 519.2h1.9v1.9h-1.9zM435.75 520.95h1.9v1.9h-1.9zM435.75 529.7h1.9v1.9h-1.9zM437.5 519.2h1.9v1.9h-1.9zM437.5 520.95h1.9v1.9h-1.9zM437.5 526.2h1.9v1.9h-1.9zM437.5 529.7h1.9v1.9h-1.9zM439.25 515.7h1.9v1.9h-1.9zM439.25 527.95h1.9v1.9h-1.9zM441 510.45h1.9v1.9h-1.9zM441 517.45h1.9v1.9h-1.9zM441 522.7h1.9v1.9h-1.9zM441 526.2h1.9v1.9h-1.9zM442.75 515.7h1.9v1.9h-1.9zM442.75 520.95h1.9v1.9h-1.9zM442.75 522.7h1.9v1.9h-1.9zM444.5 524.45h1.9v1.9h-1.9zM444.5 527.95h1.9v1.9h-1.9zM444.5 529.7h1.9v1.9h-1.9zM446.25 515.7h1.9v1.9h-1.9zM446.25 517.45h1.9v1.9h-1.9zM446.25 519.2h1.9v1.9h-1.9zM446.25 520.95h1.9v1.9h-1.9zM448 520.95h1.9v1.9h-1.9zM449.75 517.45h1.9v1.9h-1.9zM449.75 524.45h1.9v1.9h-1.9zM451.5 519.2h1.9v1.9h-1.9zM455 519.2h1.9v1.9h-1.9zM455 529.7h1.9v1.9h-1.9z" fill="#0b959b"/>
<path d="M434 524.45h1.9v1.9h-1.9zM437.5 510.45h1.9v1.9h-1.9zM441 527.95h1.9v1.9h-1.9zM442.75 517.45h1.9v1.9h-1.9zM444.5 520.95h1.9v1.9h-1.9zM444.5 526.2h1.9v1.9h-1.9zM444.5 531.45h1.9v1.9h-1.9zM444.5 533.2h1.9v1.9h-1.9zM446.25 536.7h1.9v1.9h-1.9zM448 522.7h1.9v1.9h-1.9zM449.75 520.95h1.9v1.9h-1.9zM451.5 517.45h1.9v1.9h-1.9zM453.25 522.7h1.9v1.9h-1.9zM455 527.95h1.9v1.9h-1.9z" fill="#13cdd4"/>
<text x="289" y="563.99" font-size="8" font-weight="bold" text-anchor="middle" fill="#111">Slow</text>
<text x="289" y="573.59" font-size="8" font-weight="bold" text-anchor="middle" fill="#111">relaxing</text>
<rect x="307.4" y="547.7" width="50" height="36.5" fill="#000" stroke="none" stroke-width="1"/>
<path d="M307.4 568.7h1.9v1.9h-1.9zM310.9 551.2h1.9v1.9h-1.9zM312.65 552.95h1.9v1.9h-1.9zM312.65 577.45h1.9v1.9h-1.9zM316.15 559.95h1.9v1.9h-1.9zM317.9 575.7h1.9v1.9h-1.9zM319.65 563.45h1.9v1.9h-1.9zM319.65 573.95h1.9v1.9h-1.9zM321.4 580.95h1.9v1.9h-1.9zM323.15 556.45h1.9v1.9h-1.9zM324.9 551.2h1.9v1.9h-1.9zM324.9 554.7h1.9v1.9h-1.9zM326.65 566.95h1.9v1.9h-1.9zM328.4 551.2h1.9v1.9h-1.9zM328.4 568.7h1.9v1.9h-1.9zM330.15 558.2h1.9v1.9h-1.9zM331.9 577.45h1.9v1.9h-1.9zM333.65 575.7h1.9v1.9h-1.9zM335.4 579.2h1.9v1.9h-1.9zM337.15 556.45h1.9v1.9h-1.9zM342.4 580.95h1.9v1.9h-1.9zM345.9 552.95h1.9v1.9h-1.9zM345.9 561.7h1.9v1.9h-1.9zM351.15 565.2h1.9v1.9h-1.9zM354.65 565.2h1.9v1.9h-1.9z" fill="#063d40"/>
<path d="M307.4 566.95h1.9v1.9h-1.9zM310.9 559.95h1.9v1.9h-1.9zM310.9 561.7h1.9v1.9h-1.9zM310.9 566.95h1.9v1.9h-1.9zM312.65 566.95h1.9v1.9h-1.9zM314.4 559.95h1.9v1.9h-1.9zM314.4 561.7h1.9v1.9h-1.9zM314.4 563.45h1.9v1.9h-1.9zM316.15 563.45h1.9v1.9h-1.9zM316.15 570.45h1.9v1.9h-1.9zM317.9 554.7h1.9v1.9h-1.9zM317.9 558.2h1.9v1.9h-1.9zM319.65 556.45h1.9v1.9h-1.9zM319.65 559.95h1.9v1.9h-1.9zM323.15 559.95h1.9v1.9h-1.9zM323.15 561.7h1.9v1.9h-1.9zM323.15 563.45h1.9v1.9h-1.9zM324.9 558.2h1.9v1.9h-1.9zM324.9 565.2h1.9v1.9h-1.9zM324.9 570.45h1.9v1.9h-1.9zM326.65 561.7h1.9v1.9h-1.9zM326.65 563.45h1.9v1.9h-1.9zM326.65 568.7h1.9v1.9h-1.9zM326.65 572.2h1.9v1.9h-1.9zM328.4 559.95h1.9v1.9h-1.9zM328.4 561.7h1.9v1.9h-1.9zM328.4 563.45h1.9v1.9h-1.9zM328.4 570.45h1.9v1.9h-1.9zM330.15 559.95h1.9v1.9h-1.9zM330.15 563.45h1.9v1.9h-1.9zM330.15 568.7h1.9v1.9h-1.9zM331.9 556.45h1.9v1.9h-1.9zM331.9 558.2h1.9v1.9h-1.9zM331.9 563.45h1.9v1.9h-1.9zM331.9 566.95h1.9v1.9h-1.9zM333.65 556.45h1.9v1.9h-1.9zM333.65 558.2h1.9v1.9h-1.9zM333.65 559.95h1.9v1.9h-1.9zM333.65 563.45h1.9v1.9h-1.9zM333.65 566.95h1.9v1.9h-1.9zM333.65 570.45h1.9v1.9h-1.9zM335.4 563.45h1.9v1.9h-1.9zM335.4 568.7h1.9v1.9h-1.9zM337.15 559.95h1.9v1.9h-1.9zM337.15 568.7h1.9v1.9h-1.9zM338.9 556.45h1.9v1.9h-1.9zM338.9 561.7h1.9v1.9h-1.9zM338.9 563.45h1.9v1.9h-1.9zM340.65 559.95h1.9v1.9h-1.9zM340.65 568.7h1.9v1.9h-1.9zM340.65 575.7h1.9v1.9h-1.9zM342.4 559.95h1.9v1.9h-1.9zM342.4 563.45h1.9v1.9h-1.9zM344.15 568.7h1.9v1.9h-1.9zM345.9 558.2h1.9v1.9h-1.9zM345.9 566.95h1.9v1.9h-1.9zM347.65 561.7h1.9v1.9h-1.9zM347.65 563.45h1.9v1.9h-1.9zM349.4 563.45h1.9v1.9h-1.9zM351.15 559.95h1.9v1.9h-1.9zM351.15 563.45h1.9v1.9h-1.9zM351.15 570.45h1.9v1.9h-1.9zM354.65 558.2h1.9v1.9h-1.9z" fill="#0b959b"/>
<path d="M307.4 565.2h1.9v1.9h-1.9zM316.15 558.2h1.9v1.9h-1.9zM317.9 559.95h1.9v1.9h-1.9zM317.9 561.7h1.9v1.9h-1.9zM317.9 563.45h1.9v1.9h-1.9zM319.65 561.7h1.9v1.9h-1.9zM319.65 566.95h1.9v1.9h-1.9zM321.4 561.7h1.9v1.9h-1.9zM321.4 565.2h1.9v1.9h-1.9zM326.65 565.2h1.9v1.9h-1.9zM328.4 565.2h1.9v1.9h-1.9zM328.4 566.95h1.9v1.9h-1.9zM330.15 561.7h1.9v1.9h-1.9zM330.15 565.2h1.9v1.9h-1.9zM330.15 566.95h1.9v1.9h-1.9zM331.9 559.95h1.9v1.9h-1.9zM331.9 561.7h1.9v1.9h-1.9zM331.9 565.2h1.9v1.9h-1.9zM331.9 570.45h1.9v1.9h-1.9zM333.65 561.7h1.9v1.9h-1.9zM335.4 559.95h1.9v1.9h-1.9zM335.4 565.2h1.9v1.9h-1.9zM335.4 566.95h1.9v1.9h-1.9zM337.15 561.7h1.9v1.9h-1.9zM337.15 566.95h1.9v1.9h-1.9zM338.9 572.2h1.9v1.9h-1.9zM340.65 565.2h1.9v1.9h-1.9zM342.4 561.7h1.9v1.9h-1.9zM342.4 565.2h1.9v1.9h-1.9zM342.4 568.7h1.9v1.9h-1.9zM344.15 566.95h1.9v1.9h-1.9zM345.9 565.2h1.9v1.9h-1.9z" fill="#13cdd4"/>
<path d="M324.9 561.7h1.9v1.9h-1.9z" fill="#30f2f7"/>
<rect x="362.1" y="547.7" width="49.6" height="36.5" fill="#000" stroke="none" stroke-width="1"/>
<path d="M363.85 580.95h1.9v1.9h-1.9zM367.35 551.2h1.9v1.9h-1.9zM367.35 565.2h1.9v1.9h-1.9zM372.6 547.7h1.9v1.9h-1.9zM372.6 549.45h1.9v1.9h-1.9zM372.6 558.2h1.9v1.9h-1.9zM374.35 556.45h1.9v1.9h-1.9zM376.1 573.95h1.9v1.9h-1.9zM376.1 577.45h1.9v1.9h-1.9zM379.6 554.7h1.9v1.9h-1.9zM379.6 579.2h1.9v1.9h-1.9zM381.35 573.95h1.9v1.9h-1.9zM383.1 558.2h1.9v1.9h-1.9zM383.1 563.45h1.9v1.9h-1.9zM383.1 565.2h1.9v1.9h-1.9zM386.6 570.45h1.9v1.9h-1.9zM390.1 563.45h1.9v1.9h-1.9zM390.1 568.7h1.9v1.9h-1.9zM391.85 577.45h1.9v1.9h-1.9zM395.35 551.2h1.9v1.9h-1.9zM395.35 561.7h1.9v1.9h-1.9zM397.1 551.2h1.9v1.9h-1.9zM397.1 566.95h1.9v1.9h-1.9zM397.1 570.45h1.9v1.9h-1.9zM398.85 558.2h1.9v1.9h-1.9zM398.85 565.2h1.9v1.9h-1.9zM400.6 559.95h1.9v1.9h-1.9zM402.35 559.95h1.9v1.9h-1.9zM402.35 566.95h1.9v1.9h-1.9zM402.35 570.45h1.9v1.9h-1.9zM405.85 547.7h1.9v1.9h-1.9zM405.85 566.95h1.9v1.9h-1.9zM407.6 563.45h1.9v1.9h-1.9zM409.35 570.45h1.9v1.9h-1.9z" fill="#063d40"/>
<path d="M362.1 559.95h1.9v1.9h-1.9zM363.85 565.2h1.9v1.9h-1.9zM363.85 566.95h1.9v1.9h-1.9zM369.1 559.95h1.9v1.9h-1.9zM369.1 573.95h1.9v1.9h-1.9zM369.1 575.7h1.9v1.9h-1.9zM370.85 558.2h1.9v1.9h-1.9zM370.85 563.45h1.9v1.9h-1.9zM370.85 572.2h1.9v1.9h-1.9zM370.85 573.95h1.9v1.9h-1.9zM372.6 561.7h1.9v1.9h-1.9zM372.6 565.2h1.9v1.9h-1.9zM372.6 570.45h1.9v1.9h-1.9zM374.35 559.95h1.9v1.9h-1.9zM374.35 570.45h1.9v1.9h-1.9zM374.35 572.2h1.9v1.9h-1.9zM376.1 554.7h1.9v1.9h-1.9zM376.1 561.7h1.9v1.9h-1.9zM376.1 563.45h1.9v1.9h-1.9zM376.1 568.7h1.9v1.9h-1.9zM376.1 572.2h1.9v1.9h-1.9zM377.85 549.45h1.9v1.9h-1.9zM377.85 558.2h1.9v1.9h-1.9zM377.85 563.45h1.9v1.9h-1.9zM377.85 568.7h1.9v1.9h-1.9zM377.85 570.45h1.9v1.9h-1.9zM377.85 573.95h1.9v1.9h-1.9zM379.6 565.2h1.9v1.9h-1.9zM379.6 573.95h1.9v1.9h-1.9zM381.35 561.7h1.9v1.9h-1.9zM383.1 552.95h1.9v1.9h-1.9zM383.1 556.45h1.9v1.9h-1.9zM383.1 561.7h1.9v1.9h-1.9zM383.1 573.95h1.9v1.9h-1.9zM383.1 577.45h1.9v1.9h-1.9zM384.85 554.7h1.9v1.9h-1.9zM384.85 558.2h1.9v1.9h-1.9zM386.6 556.45h1.9v1.9h-1.9zM386.6 559.95h1.9v1.9h-1.9zM386.6 563.45h1.9v1.9h-1.9zM386.6 565.2h1.9v1.9h-1.9zM386.6 566.95h1.9v1.9h-1.9zM386.6 579.2h1.9v1.9h-1.9zM388.35 561.7h1.9v1.9h-1.9zM388.35 563.45h1.9v1.9h-1.9zM388.35 568.7h1.9v1.9h-1.9zM388.35 570.45h1.9v1.9h-1.9zM388.35 572.2h1.9v1.9h-1.9zM390.1 556.45h1.9v1.9h-1.9zM390.1 558.2h1.9v1.9h-1.9zM390.1 565.2h1.9v1.9h-1.9zM391.85 554.7h1.9v1.9h-1.9zM391.85 565.2h1.9v1.9h-1.9zM391.85 573.95h1.9v1.9h-1.9zM391.85 575.7h1.9v1.9h-1.9zM393.6 552.95h1.9v1.9h-1.9zM393.6 559.95h1.9v1.9h-1.9zM393.6 561.7h1.9v1.9h-1.9zM393.6 566.95h1.9v1.9h-1.9zM393.6 572.2h1.9v1.9h-1.9zM393.6 573.95h1.9v1.9h-1.9zM395.35 559.95h1.9v1.9h-1.9zM397.1 549.45h1.9v1.9h-1.9zM397.1 554.7h1.9v1.9h-1.9zM397.1 565.2h1.9v1.9h-1.9zM397.1 572.2h1.9v1.9h-1.9zM398.85 556.45h1.9v1.9h-1.9zM398.85 563.45h1.9v1.9h-1.9zM398.85 566.95h1.9v1.9h-1.9zM398.85 573.95h1.9v1.9h-1.9zM398.85 577.45h1.9v1.9h-1.9zM402.35 554.7h1.9v1.9h-1.9zM404.1 566.95h1.9v1.9h-1.9zM407.6 561.7h1.9v1.9h-1.9z" fill="#0b959b"/>
<path d="M363.85 552.95h1.9v1.9h-1.9zM365.6 561.7h1.9v1.9h-1.9zM365.6 563.45h1.9v1.9h-1.9zM367.35 559.95h1.9v1.9h-1.9zM369.1 565.2h1.9v1.9h-1.9zM369.1 570.45h1.9v1.9h-1.9zM370.85 565.2h1.9v1.9h-1.9zM370.85 566.95h1.9v1.9h-1.9zM374.35 565.2h1.9v1.9h-1.9zM376.1 556.45h1.9v1.9h-1.9zM376.1 565.2h1.9v1.9h-1.9zM376.1 566.95h1.9v1.9h-1.9zM379.6 559.95h1.9v1.9h-1.9zM381.35 552.95h1.9v1.9h-1.9zM381.35 556.45h1.9v1.9h-1.9zM381.35 559.95h1.9v1.9h-1.9zM381.35 563.45h1.9v1.9h-1.9zM381.35 566.95h1.9v1.9h-1.9zM381.35 568.7h1.9v1.9h-1.9zM381.35 570.45h1.9v1.9h-1.9zM383.1 554.7h1.9v1.9h-1.9zM383.1 559.95h1.9v1.9h-1.9zM383.1 568.7h1.9v1.9h-1.9zM384.85 556.45h1.9v1.9h-1.9zM384.85 561.7h1.9v1.9h-1.9zM384.85 566.95h1.9v1.9h-1.9zM386.6 558.2h1.9v1.9h-1.9zM386.6 561.7h1.9v1.9h-1.9zM386.6 575.7h1.9v1.9h-1.9zM388.35 554.7h1.9v1.9h-1.9zM391.85 559.95h1.9v1.9h-1.9zM391.85 572.2h1.9v1.9h-1.9zM395.35 565.2h1.9v1.9h-1.9zM395.35 566.95h1.9v1.9h-1.9zM395.35 570.45h1.9v1.9h-1.9zM397.1 556.45h1.9v1.9h-1.9zM397.1 575.7h1.9v1.9h-1.9zM398.85 561.7h1.9v1.9h-1.9zM398.85 568.7h1.9v1.9h-1.9zM400.6 554.7h1.9v1.9h-1.9zM400.6 563.45h1.9v1.9h-1.9zM402.35 552.95h1.9v1.9h-1.9zM402.35 572.2h1.9v1.9h-1.9z" fill="#13cdd4"/>
<path d="M379.6 561.7h1.9v1.9h-1.9zM390.1 570.45h1.9v1.9h-1.9z" fill="#30f2f7"/>
<rect x="416.5" y="547.7" width="50.4" height="36.5" fill="#000" stroke="none" stroke-width="1"/>
<path d="M420 552.95h1.9v1.9h-1.9zM420 559.95h1.9v1.9h-1.9zM420 566.95h1.9v1.9h-1.9zM421.75 556.45h1.9v1.9h-1.9zM423.5 547.7h1.9v1.9h-1.9zM425.25 580.95h1.9v1.9h-1.9zM427 565.2h1.9v1.9h-1.9zM428.75 563.45h1.9v1.9h-1.9zM437.5 552.95h1.9v1.9h-1.9zM437.5 565.2h1.9v1.9h-1.9zM437.5 580.95h1.9v1.9h-1.9zM441 552.95h1.9v1.9h-1.9zM441 559.95h1.9v1.9h-1.9zM441 563.45h1.9v1.9h-1.9zM441 573.95h1.9v1.9h-1.9zM444.5 552.95h1.9v1.9h-1.9zM444.5 577.45h1.9v1.9h-1.9zM446.25 549.45h1.9v1.9h-1.9zM448 559.95h1.9v1.9h-1.9zM448 570.45h1.9v1.9h-1.9zM449.75 559.95h1.9v1.9h-1.9zM462 565.2h1.9v1.9h-1.9z" fill="#063d40"/>
<path d="M416.5 556.45h1.9v1.9h-1.9zM416.5 559.95h1.9v1.9h-1.9zM420 561.7h1.9v1.9h-1.9zM421.75 561.7h1.9v1.9h-1.9zM421.75 563.45h1.9v1.9h-1.9zM421.75 566.95h1.9v1.9h-1.9zM423.5 559.95h1.9v1.9h-1.9zM423.5 561.7h1.9v1.9h-1.9zM423.5 565.2h1.9v1.9h-1.9zM425.25 558.2h1.9v1.9h-1.9zM425.25 561.7h1.9v1.9h-1.9zM425.25 563.45h1.9v1.9h-1.9zM427 558.2h1.9v1.9h-1.9zM427 559.95h1.9v1.9h-1.9zM428.75 566.95h1.9v1.9h-1.9zM430.5 559.95h1.9v1.9h-1.9zM430.5 561.7h1.9v1.9h-1.9zM432.25 559.95h1.9v1.9h-1.9zM432.25 561.7h1.9v1.9h-1.9zM432.25 565.2h1.9v1.9h-1.9zM432.25 566.95h1.9v1.9h-1.9zM434 559.95h1.9v1.9h-1.9zM434 565.2h1.9v1.9h-1.9zM435.75 563.45h1.9v1.9h-1.9zM435.75 565.2h1.9v1.9h-1.9zM437.5 561.7h1.9v1.9h-1.9zM437.5 566.95h1.9v1.9h-1.9zM439.25 566.95h1.9v1.9h-1.9zM441 566.95h1.9v1.9h-1.9zM442.75 559.95h1.9v1.9h-1.9zM442.75 561.7h1.9v1.9h-1.9zM442.75 566.95h1.9v1.9h-1.9zM444.5 558.2h1.9v1.9h-1.9zM444.5 559.95h1.9v1.9h-1.9zM444.5 566.95h1.9v1.9h-1.9zM446.25 556.45h1.9v1.9h-1.9zM446.25 559.95h1.9v1.9h-1.9zM446.25 561.7h1.9v1.9h-1.9zM446.25 566.95h1.9v1.9h-1.9zM446.25 568.7h1.9v1.9h-1.9zM448 565.2h1.9v1.9h-1.9zM453.25 561.7h1.9v1.9h-1.9zM453.25 563.45h1.9v1.9h-1.9zM453.25 565.2h1.9v1.9h-1.9zM456.75 559.95h1.9v1.9h-1.9zM456.75 563.45h1.9v1.9h-1.9zM456.75 566.95h1.9v1.9h-1.9zM458.5 561.7h1.9v1.9h-1.9zM460.25 566.95h1.9v1.9h-1.9zM462 559.95h1.9v1.9h-1.9z" fill="#0b959b"/>
<path d="M418.25 561.7h1.9v1.9h-1.9zM423.5 563.45h1.9v1.9h-1.9zM423.5 566.95h1.9v1.9h-1.9zM428.75 559.95h1.9v1.9h-1.9zM428.75 561.7h1.9v1.9h-1.9zM430.5 558.2h1.9v1.9h-1.9zM435.75 561.7h1.9v1.9h-1.9zM437.5 556.45h1.9v1.9h-1.9zM437.5 559.95h1.9v1.9h-1.9zM437.5 568.7h1.9v1.9h-1.9zM439.25 559.95h1.9v1.9h-1.9zM439.25 561.7h1.9v1.9h-1.9zM439.25 563.45h1.9v1.9h-1.9zM439.25 570.45h1.9v1.9h-1.9zM441 558.2h1.9v1.9h-1.9zM441 561.7h1.9v1.9h-1.9zM441 565.2h1.9v1.9h-1.9zM442.75 565.2h1.9v1.9h-1.9zM442.75 572.2h1.9v1.9h-1.9zM446.25 565.2h1.9v1.9h-1.9zM448 558.2h1.9v1.9h-1.9zM449.75 563.45h1.9v1.9h-1.9zM449.75 566.95h1.9v1.9h-1.9zM451.5 559.95h1.9v1.9h-1.9zM451.5 565.2h1.9v1.9h-1.9zM453.25 558.2h1.9v1.9h-1.9zM456.75 556.45h1.9v1.9h-1.9zM456.75 568.7h1.9v1.9h-1.9zM462 561.7h1.9v1.9h-1.9z" fill="#13cdd4"/>
<path d="M427 561.7h1.9v1.9h-1.9zM434 561.7h1.9v1.9h-1.9zM444.5 561.7h1.9v1.9h-1.9z" fill="#30f2f7"/>
<text x="289" y="604.44" font-size="8" font-weight="bold" text-anchor="middle" fill="#111">Fast</text>
<text x="289" y="614.04" font-size="8" font-weight="bold" text-anchor="middle" fill="#111">relaxing</text>
<rect x="307.4" y="588.5" width="50" height="35.8" fill="#000" stroke="none" stroke-width="1"/>
<path d="M316.15 604.25h1.9v1.9h-1.9zM316.15 616.5h1.9v1.9h-1.9zM317.9 599h1.9v1.9h-1.9zM319.65 616.5h1.9v1.9h-1.9zM321.4 588.5h1.9v1.9h-1.9zM323.15 592h1.9v1.9h-1.9zM323.15 595.5h1.9v1.9h-1.9zM323.15 606h1.9v1.9h-1.9zM324.9 597.25h1.9v1.9h-1.9zM324.9 602.5h1.9v1.9h-1.9zM324.9 614.75h1.9v1.9h-1.9zM326.65 604.25h1.9v1.9h-1.9zM326.65 609.5h1.9v1.9h-1.9zM326.65 613h1.9v1.9h-1.9zM330.15 593.75h1.9v1.9h-1.9zM330.15 616.5h1.9v1.9h-1.9zM331.9 604.25h1.9v1.9h-1.9zM333.65 614.75h1.9v1.9h-1.9zM333.65 616.5h1.9v1.9h-1.9zM337.15 592h1.9v1.9h-1.9zM337.15 599h1.9v1.9h-1.9zM340.65 593.75h1.9v1.9h-1.9zM340.65 613h1.9v1.9h-1.9zM344.15 602.5h1.9v1.9h-1.9zM347.65 600.75h1.9v1.9h-1.9zM349.4 592h1.9v1.9h-1.9z" fill="#063d40"/>
<path d="M316.15 597.25h1.9v1.9h-1.9zM319.65 606h1.9v1.9h-1.9zM321.4 602.5h1.9v1.9h-1.9zM323.15 602.5h1.9v1.9h-1.9zM323.15 604.25h1.9v1.9h-1.9zM326.65 590.25h1.9v1.9h-1.9zM326.65 592h1.9v1.9h-1.9zM326.65 597.25h1.9v1.9h-1.9zM326.65 602.5h1.9v1.9h-1.9zM326.65 607.75h1.9v1.9h-1.9zM328.4 588.5h1.9v1.9h-1.9zM328.4 593.75h1.9v1.9h-1.9zM328.4 597.25h1.9v1.9h-1.9zM328.4 599h1.9v1.9h-1.9zM328.4 600.75h1.9v1.9h-1.9zM328.4 607.75h1.9v1.9h-1.9zM328.4 609.5h1.9v1.9h-1.9zM328.4 611.25h1.9v1.9h-1.9zM330.15 588.5h1.9v1.9h-1.9zM330.15 595.5h1.9v1.9h-1.9zM330.15 597.25h1.9v1.9h-1.9zM330.15 600.75h1.9v1.9h-1.9zM330.15 602.5h1.9v1.9h-1.9zM330.15 606h1.9v1.9h-1.9zM331.9 595.5h1.9v1.9h-1.9zM331.9 597.25h1.9v1.9h-1.9zM331.9 599h1.9v1.9h-1.9zM331.9 607.75h1.9v1.9h-1.9zM331.9 611.25h1.9v1.9h-1.9zM331.9 613h1.9v1.9h-1.9zM331.9 614.75h1.9v1.9h-1.9zM333.65 599h1.9v1.9h-1.9zM333.65 613h1.9v1.9h-1.9zM335.4 590.25h1.9v1.9h-1.9zM335.4 597.25h1.9v1.9h-1.9zM335.4 602.5h1.9v1.9h-1.9zM335.4 606h1.9v1.9h-1.9zM335.4 611.25h1.9v1.9h-1.9zM335.4 618.25h1.9v1.9h-1.9zM337.15 590.25h1.9v1.9h-1.9zM337.15 602.5h1.9v1.9h-1.9zM337.15 607.75h1.9v1.9h-1.9zM337.15 613h1.9v1.9h-1.9zM338.9 597.25h1.9v1.9h-1.9zM338.9 600.75h1.9v1.9h-1.9zM338.9 606h1.9v1.9h-1.9zM338.9 607.75h1.9v1.9h-1.9zM338.9 616.5h1.9v1.9h-1.9zM340.65 599h1.9v1.9h-1.9zM340.65 607.75h1.9v1.9h-1.9zM342.4 604.25h1.9v1.9h-1.9zM342.4 613h1.9v1.9h-1.9zM342.4 616.5h1.9v1.9h-1.9zM342.4 618.25h1.9v1.9h-1.9zM344.15 597.25h1.9v1.9h-1.9zM345.9 604.25h1.9v1.9h-1.9zM347.65 607.75h1.9v1.9h-1.9z" fill="#0b959b"/>
<path d="M321.4 604.25h1.9v1.9h-1.9zM321.4 609.5h1.9v1.9h-1.9zM321.4 616.5h1.9v1.9h-1.9zM323.15 600.75h1.9v1.9h-1.9zM324.9 599h1.9v1.9h-1.9zM324.9 600.75h1.9v1.9h-1.9zM326.65 599h1.9v1.9h-1.9zM326.65 606h1.9v1.9h-1.9zM328.4 595.5h1.9v1.9h-1.9zM328.4 604.25h1.9v1.9h-1.9zM330.15 599h1.9v1.9h-1.9zM330.15 611.25h1.9v1.9h-1.9zM330.15 613h1.9v1.9h-1.9zM331.9 600.75h1.9v1.9h-1.9zM331.9 606h1.9v1.9h-1.9zM333.65 600.75h1.9v1.9h-1.9zM333.65 607.75h1.9v1.9h-1.9zM335.4 593.75h1.9v1.9h-1.9zM335.4 599h1.9v1.9h-1.9zM335.4 609.5h1.9v1.9h-1.9zM335.4 613h1.9v1.9h-1.9zM335.4 614.75h1.9v1.9h-1.9zM337.15 600.75h1.9v1.9h-1.9zM337.15 604.25h1.9v1.9h-1.9zM337.15 606h1.9v1.9h-1.9zM337.15 609.5h1.9v1.9h-1.9zM338.9 592h1.9v1.9h-1.9zM338.9 599h1.9v1.9h-1.9zM338.9 602.5h1.9v1.9h-1.9zM338.9 614.75h1.9v1.9h-1.9zM340.65 597.25h1.9v1.9h-1.9zM340.65 606h1.9v1.9h-1.9zM340.65 609.5h1.9v1.9h-1.9zM340.65 620h1.9v1.9h-1.9zM344.15 606h1.9v1.9h-1.9z" fill="#13cdd4"/>
<path d="M326.65 600.75h1.9v1.9h-1.9zM330.15 607.75h1.9v1.9h-1.9zM331.9 602.5h1.9v1.9h-1.9zM333.65 604.25h1.9v1.9h-1.9zM335.4 604.25h1.9v1.9h-1.9z" fill="#30f2f7"/>
<rect x="362.1" y="588.5" width="49.6" height="35.8" fill="#000" stroke="none" stroke-width="1"/>
<path d="M363.85 620h1.9v1.9h-1.9zM367.35 609.5h1.9v1.9h-1.9zM369.1 614.75h1.9v1.9h-1.9zM374.35 590.25h1.9v1.9h-1.9zM374.35 593.75h1.9v1.9h-1.9zM376.1 607.75h1.9v1.9h-1.9zM376.1 616.5h1.9v1.9h-1.9zM377.85 593.75h1.9v1.9h-1.9zM379.6 597.25h1.9v1.9h-1.9zM379.6 599h1.9v1.9h-1.9zM383.1 618.25h1.9v1.9h-1.9zM384.85 618.25h1.9v1.9h-1.9zM386.6 609.5h1.9v1.9h-1.9zM390.1 620h1.9v1.9h-1.9zM393.6 607.75h1.9v1.9h-1.9zM393.6 621.75h1.9v1.9h-1.9zM397.1 607.75h1.9v1.9h-1.9zM398.85 593.75h1.9v1.9h-1.9zM398.85 606h1.9v1.9h-1.9zM400.6 592h1.9v1.9h-1.9zM400.6 613h1.9v1.9h-1.9zM404.1 590.25h1.9v1.9h-1.9zM407.6 609.5h1.9v1.9h-1.9z" fill="#063d40"/>
<path d="M372.6 600.75h1.9v1.9h-1.9zM377.85 602.5h1.9v1.9h-1.9zM377.85 609.5h1.9v1.9h-1.9zM379.6 609.5h1.9v1.9h-1.9zM381.35 607.75h1.9v1.9h-1.9zM381.35 618.25h1.9v1.9h-1.9zM383.1 595.5h1.9v1.9h-1.9zM383.1 609.5h1.9v1.9h-1.9zM383.1 611.25h1.9v1.9h-1.9zM384.85 595.5h1.9v1.9h-1.9zM384.85 597.25h1.9v1.9h-1.9zM384.85 611.25h1.9v1.9h-1.9zM384.85 621.75h1.9v1.9h-1.9zM386.6 600.75h1.9v1.9h-1.9zM386.6 602.5h1.9v1.9h-1.9zM386.6 607.75h1.9v1.9h-1.9zM386.6 613h1.9v1.9h-1.9zM388.35 600.75h1.9v1.9h-1.9zM388.35 602.5h1.9v1.9h-1.9zM388.35 606h1.9v1.9h-1.9zM390.1 602.5h1.9v1.9h-1.9zM390.1 604.25h1.9v1.9h-1.9zM390.1 606h1.9v1.9h-1.9zM390.1 614.75h1.9v1.9h-1.9zM391.85 597.25h1.9v1.9h-1.9zM391.85 607.75h1.9v1.9h-1.9zM391.85 620h1.9v1.9h-1.9zM393.6 599h1.9v1.9h-1.9zM393.6 606h1.9v1.9h-1.9zM393.6 611.25h1.9v1.9h-1.9zM393.6 613h1.9v1.9h-1.9zM393.6 616.5h1.9v1.9h-1.9zM395.35 599h1.9v1.9h-1.9zM395.35 602.5h1.9v1.9h-1.9zM395.35 609.5h1.9v1.9h-1.9zM397.1 609.5h1.9v1.9h-1.9zM397.1 613h1.9v1.9h-1.9zM400.6 597.25h1.9v1.9h-1.9zM400.6 602.5h1.9v1.9h-1.9zM400.6 607.75h1.9v1.9h-1.9zM400.6 614.75h1.9v1.9h-1.9zM400.6 616.5h1.9v1.9h-1.9zM405.85 600.75h1.9v1.9h-1.9z" fill="#0b959b"/>
<path d="M376.1 609.5h1.9v1.9h-1.9zM379.6 593.75h1.9v1.9h-1.9zM379.6 602.5h1.9v1.9h-1.9zM379.6 606h1.9v1.9h-1.9zM379.6 607.75h1.9v1.9h-1.9zM381.35 597.25h1.9v1.9h-1.9zM381.35 600.75h1.9v1.9h-1.9zM381.35 602.5h1.9v1.9h-1.9zM381.35 609.5h1.9v1.9h-1.9zM383.1 604.25h1.9v1.9h-1.9zM383.1 614.75h1.9v1.9h-1.9zM384.85 590.25h1.9v1.9h-1.9zM384.85 599h1.9v1.9h-1.9zM384.85 602.5h1.9v1.9h-1.9zM384.85 606h1.9v1.9h-1.9zM384.85 609.5h1.9v1.9h-1.9zM384.85 614.75h1.9v1.9h-1.9zM386.6 611.25h1.9v1.9h-1.9zM388.35 604.25h1.9v1.9h-1.9zM390.1 597.25h1.9v1.9h-1.9zM390.1 613h1.9v1.9h-1.9zM391.85 592h1.9v1.9h-1.9zM391.85 602.5h1.9v1.9h-1.9zM391.85 604.25h1.9v1.9h-1.9zM391.85 606h1.9v1.9h-1.9zM391.85 609.5h1.9v1.9h-1.9zM391.85 614.75h1.9v1.9h-1.9zM393.6 592h1.9v1.9h-1.9zM395.35 597.25h1.9v1.9h-1.9zM395.35 606h1.9v1.9h-1.9zM395.35 613h1.9v1.9h-1.9zM397.1 599h1.9v1.9h-1.9z" fill="#13cdd4"/>
<path d="M383.1 607.75h1.9v1.9h-1.9zM384.85 600.75h1.9v1.9h-1.9zM386.6 606h1.9v1.9h-1.9zM388.35 607.75h1.9v1.9h-1.9z" fill="#30f2f7"/>
<rect x="416.5" y="588.5" width="50.4" height="35.8" fill="#000" stroke="none" stroke-width="1"/>
<path d="M420 595.5h1.9v1.9h-1.9zM421.75 620h1.9v1.9h-1.9zM423.5 592h1.9v1.9h-1.9zM427 606h1.9v1.9h-1.9zM428.75 606h1.9v1.9h-1.9zM432.25 595.5h1.9v1.9h-1.9zM432.25 606h1.9v1.9h-1.9zM434 597.25h1.9v1.9h-1.9zM437.5 607.75h1.9v1.9h-1.9zM439.25 602.5h1.9v1.9h-1.9zM439.25 614.75h1.9v1.9h-1.9zM441 606h1.9v1.9h-1.9zM442.75 620h1.9v1.9h-1.9zM444.5 609.5h1.9v1.9h-1.9zM446.25 595.5h1.9v1.9h-1.9zM446.25 609.5h1.9v1.9h-1.9zM446.25 620h1.9v1.9h-1.9zM449.75 616.5h1.9v1.9h-1.9zM456.75 607.75h1.9v1.9h-1.9zM456.75 620h1.9v1.9h-1.9z" fill="#063d40"/>
<path d="M421.75 604.25h1.9v1.9h-1.9zM423.5 609.5h1.9v1.9h-1.9zM425.25 604.25h1.9v1.9h-1.9zM428.75 613h1.9v1.9h-1.9zM430.5 607.75h1.9v1.9h-1.9zM430.5 613h1.9v1.9h-1.9zM432.25 602.5h1.9v1.9h-1.9zM432.25 604.25h1.9v1.9h-1.9zM432.25 609.5h1.9v1.9h-1.9zM432.25 611.25h1.9v1.9h-1.9zM432.25 613h1.9v1.9h-1.9zM434 595.5h1.9v1.9h-1.9zM434 600.75h1.9v1.9h-1.9zM434 602.5h1.9v1.9h-1.9zM434 609.5h1.9v1.9h-1.9zM434 611.25h1.9v1.9h-1.9zM435.75 602.5h1.9v1.9h-1.9zM435.75 606h1.9v1.9h-1.9zM435.75 611.25h1.9v1.9h-1.9zM435.75 614.75h1.9v1.9h-1.9zM437.5 599h1.9v1.9h-1.9zM437.5 602.5h1.9v1.9h-1.9zM439.25 597.25h1.9v1.9h-1.9zM439.25 600.75h1.9v1.9h-1.9zM439.25 607.75h1.9v1.9h-1.9zM439.25 611.25h1.9v1.9h-1.9zM439.25 613h1.9v1.9h-1.9zM441 604.25h1.9v1.9h-1.9zM441 613h1.9v1.9h-1.9zM441 616.5h1.9v1.9h-1.9zM442.75 595.5h1.9v1.9h-1.9zM442.75 597.25h1.9v1.9h-1.9zM442.75 599h1.9v1.9h-1.9zM442.75 602.5h1.9v1.9h-1.9zM442.75 604.25h1.9v1.9h-1.9zM442.75 611.25h1.9v1.9h-1.9zM442.75 614.75h1.9v1.9h-1.9zM444.5 597.25h1.9v1.9h-1.9zM444.5 599h1.9v1.9h-1.9zM444.5 600.75h1.9v1.9h-1.9zM444.5 602.5h1.9v1.9h-1.9zM446.25 600.75h1.9v1.9h-1.9zM446.25 606h1.9v1.9h-1.9zM446.25 614.75h1.9v1.9h-1.9zM448 590.25h1.9v1.9h-1.9zM448 597.25h1.9v1.9h-1.9zM448 600.75h1.9v1.9h-1.9zM448 609.5h1.9v1.9h-1.9zM449.75 607.75h1.9v1.9h-1.9zM451.5 600.75h1.9v1.9h-1.9zM453.25 597.25h1.9v1.9h-1.9zM455 604.25h1.9v1.9h-1.9z" fill="#0b959b"/>
<path d="M432.25 607.75h1.9v1.9h-1.9zM434 614.75h1.9v1.9h-1.9zM435.75 604.25h1.9v1.9h-1.9zM435.75 607.75h1.9v1.9h-1.9zM435.75 609.5h1.9v1.9h-1.9zM437.5 597.25h1.9v1.9h-1.9zM437.5 600.75h1.9v1.9h-1.9zM437.5 606h1.9v1.9h-1.9zM437.5 611.25h1.9v1.9h-1.9zM437.5 613h1.9v1.9h-1.9zM437.5 614.75h1.9v1.9h-1.9zM439.25 604.25h1.9v1.9h-1.9zM439.25 606h1.9v1.9h-1.9zM441 600.75h1.9v1.9h-1.9zM441 607.75h1.9v1.9h-1.9zM441 614.75h1.9v1.9h-1.9zM442.75 600.75h1.9v1.9h-1.9zM446.25 604.25h1.9v1.9h-1.9zM446.25 607.75h1.9v1.9h-1.9zM448 611.25h1.9v1.9h-1.9zM449.75 602.5h1.9v1.9h-1.9z" fill="#13cdd4"/>
<path d="M434 607.75h1.9v1.9h-1.9z" fill="#30f2f7"/>
<rect x="449.6" y="619.3" width="15" height="2.2" fill="#fff" stroke="none" stroke-width="1"/>
<path d="M470.2 612.3V627.1H455.2" fill="none" stroke="#111" stroke-width="1.5"/>
<path d="M467.9 612.7L470.2 608.4L472.5 612.7Z" fill="#111" stroke="none" stroke-width="1"/>
<path d="M455.1 624.8L450.8 627.1L455.1 629.4Z" fill="#111" stroke="none" stroke-width="1"/>
<text x="474.1" y="621.29" font-size="9" font-weight="normal" text-anchor="middle" fill="#111">y</text>
<text x="463.2" y="634.1" font-size="9" font-weight="normal" text-anchor="middle" fill="#111">z</text>
<text x="478.4" y="215.08" font-size="11.5" font-weight="bold" text-anchor="start" fill="#111">g</text>
<rect x="509.2" y="210.9" width="11.3" height="5.4" fill="#86c7e3" stroke="#222" stroke-width="0.7"/>
<text x="523.6" y="216.53" font-size="8.25" font-weight="normal" text-anchor="start" fill="#111">Elastic</text>
<rect x="551.5" y="210.9" width="11.3" height="5.4" fill="#f7a0b9" stroke="#222" stroke-width="0.7"/>
<text x="566.8" y="216.53" font-size="8.25" font-weight="normal" text-anchor="start" fill="#111">Slow relaxing</text>
<rect x="620.5" y="210.9" width="11.3" height="5.4" fill="#fddc96" stroke="#222" stroke-width="0.7"/>
<text x="635.4" y="216.53" font-size="8.25" font-weight="normal" text-anchor="start" fill="#111">Fast relaxing</text>
<line x1="523.2" y1="228.8" x2="523.2" y2="335.4" stroke="#111" stroke-width="1.2"/>
<line x1="518.2" y1="334.8" x2="523.2" y2="334.8" stroke="#111" stroke-width="1.2"/>
<text x="516.6" y="338.03" font-size="9.1" font-weight="bold" text-anchor="end" fill="#111">0</text>
<line x1="518.2" y1="308.3" x2="523.2" y2="308.3" stroke="#111" stroke-width="1.2"/>
<text x="516.6" y="311.53" font-size="9.1" font-weight="bold" text-anchor="end" fill="#111">2000</text>
<line x1="518.2" y1="281.8" x2="523.2" y2="281.8" stroke="#111" stroke-width="1.2"/>
<text x="516.6" y="285.03" font-size="9.1" font-weight="bold" text-anchor="end" fill="#111">4000</text>
<line x1="518.2" y1="255.3" x2="523.2" y2="255.3" stroke="#111" stroke-width="1.2"/>
<text x="516.6" y="258.53" font-size="9.1" font-weight="bold" text-anchor="end" fill="#111">6000</text>
<line x1="518.2" y1="228.8" x2="523.2" y2="228.8" stroke="#111" stroke-width="1.2"/>
<text x="516.6" y="232.03" font-size="9.1" font-weight="bold" text-anchor="end" fill="#111">8000</text>
<line x1="528" y1="335.6" x2="574.8" y2="335.6" stroke="#111" stroke-width="1.5"/>
<text x="551.5" y="347.27" font-size="9.2" font-weight="bold" text-anchor="middle" fill="#111">2</text>
<line x1="581.6" y1="335.6" x2="628.6" y2="335.6" stroke="#111" stroke-width="1.5"/>
<text x="606" y="347.27" font-size="9.2" font-weight="bold" text-anchor="middle" fill="#111">10</text>
<line x1="635" y1="335.6" x2="681.8" y2="335.6" stroke="#111" stroke-width="1.5"/>
<text x="659" y="347.27" font-size="9.2" font-weight="bold" text-anchor="middle" fill="#111">20</text>
<text x="606.5" y="358.83" font-size="9.1" font-weight="bold" text-anchor="middle" fill="#111">Elastic modulus (kPa)</text>
<text x="485.8" y="286.23" font-size="9.1" font-weight="bold" text-anchor="middle" fill="#111" transform="rotate(-90 485.8 283)">Nuclear volume (&#181;m<tspan font-size="6" dy="-3">3</tspan><tspan dy="3">)</tspan></text>
<path d="M535.45 288.5C535.64 288.92 536.36 290.13 536.6 291C536.84 291.87 536.97 292.7 536.9 293.7C536.83 294.7 536.39 295.87 536.2 297C536.01 298.13 535.78 299.42 535.75 300.5C535.72 301.58 535.62 302.42 536 303.5C536.38 304.58 537.32 305.75 538 307C538.68 308.25 539.95 309.58 540.1 311C540.25 312.42 538.88 314 538.9 315.5C538.92 317 540.3 318.58 540.2 320C540.1 321.42 538.95 322.88 538.3 324C537.65 325.12 536.78 325.5 536.3 326.7C535.82 327.9 535.68 330.45 535.4 331.2C535.12 331.95 534.88 331.95 534.6 331.2C534.32 330.45 534.18 327.9 533.7 326.7C533.22 325.5 532.35 325.12 531.7 324C531.05 322.88 529.9 321.42 529.8 320C529.7 318.58 531.08 317 531.1 315.5C531.12 314 529.75 312.42 529.9 311C530.05 309.58 531.32 308.25 532 307C532.68 305.75 533.62 304.58 534 303.5C534.38 302.42 534.28 301.58 534.25 300.5C534.22 299.42 533.99 298.13 533.8 297C533.61 295.87 533.17 294.7 533.1 293.7C533.03 292.7 533.16 291.87 533.4 291C533.64 290.13 534.36 288.92 534.55 288.5Z" fill="#86c7e3" stroke="#111" stroke-width="1.5"/>
<line x1="531.38" y1="314.3" x2="538.62" y2="314.3" stroke="#222" stroke-width="0.9" stroke-dasharray="2.2 1.2"/>
<line x1="530.97" y1="321.2" x2="539.03" y2="321.2" stroke="#555" stroke-width="0.6" stroke-dasharray="0.8 1"/>
<line x1="531.29" y1="309.5" x2="538.71" y2="309.5" stroke="#555" stroke-width="0.6" stroke-dasharray="0.8 1"/>
<path d="M553.05 254C553.18 254.67 553.61 256.5 553.8 258C553.99 259.5 554.22 261 554.2 263C554.18 265 553.84 267.5 553.7 270C553.56 272.5 553.33 275.67 553.35 278C553.37 280.33 553.59 281.67 553.8 284C554.01 286.33 554.28 288.75 554.6 292C554.92 295.25 555.38 300.83 555.7 303.5C556.02 306.17 556.15 306.38 556.5 308C556.85 309.62 557.77 311.53 557.8 313.2C557.83 314.87 557.15 316.53 556.7 318C556.25 319.47 555.7 320.55 555.1 322C554.5 323.45 553.6 325.92 553.1 326.7C552.6 327.48 552.6 327.48 552.1 326.7C551.6 325.92 550.7 323.45 550.1 322C549.5 320.55 548.95 319.47 548.5 318C548.05 316.53 547.37 314.87 547.4 313.2C547.43 311.53 548.35 309.62 548.7 308C549.05 306.38 549.18 306.17 549.5 303.5C549.82 300.83 550.28 295.25 550.6 292C550.92 288.75 551.19 286.33 551.4 284C551.61 281.67 551.83 280.33 551.85 278C551.87 275.67 551.64 272.5 551.5 270C551.36 267.5 551.02 265 551 263C550.98 261 551.21 259.5 551.4 258C551.59 256.5 552.02 254.67 552.15 254Z" fill="#f7a0b9" stroke="#111" stroke-width="1.5"/>
<line x1="550.1" y1="303.5" x2="555.1" y2="303.5" stroke="#222" stroke-width="0.9" stroke-dasharray="2.2 1.2"/>
<line x1="548.09" y1="313.6" x2="557.11" y2="313.6" stroke="#555" stroke-width="0.6" stroke-dasharray="0.8 1"/>
<line x1="551.5" y1="289" x2="553.7" y2="289" stroke="#555" stroke-width="0.6" stroke-dasharray="0.8 1"/>
<path d="M570.95 282.2C570.98 283.5 570.93 287.95 571.1 290C571.27 292.05 571.92 293 572 294.5C572.08 296 571.43 297.42 571.6 299C571.77 300.58 572.47 302.42 573 304C573.53 305.58 574.33 307.08 574.8 308.5C575.27 309.92 575.93 311.08 575.8 312.5C575.67 313.92 574.18 315.5 574 317C573.82 318.5 574.83 320.25 574.7 321.5C574.57 322.75 573.8 323.63 573.2 324.5C572.6 325.37 571.65 326.33 571.1 326.7C570.55 327.07 570.45 327.07 569.9 326.7C569.35 326.33 568.4 325.37 567.8 324.5C567.2 323.63 566.43 322.75 566.3 321.5C566.17 320.25 567.18 318.5 567 317C566.82 315.5 565.33 313.92 565.2 312.5C565.07 311.08 565.73 309.92 566.2 308.5C566.67 307.08 567.47 305.58 568 304C568.53 302.42 569.23 300.58 569.4 299C569.57 297.42 568.92 296 569 294.5C569.08 293 569.73 292.05 569.9 290C570.07 287.95 570.02 283.5 570.05 282.2Z" fill="#fddc96" stroke="#111" stroke-width="1.5"/>
<line x1="565.83" y1="312.4" x2="575.17" y2="312.4" stroke="#222" stroke-width="0.9" stroke-dasharray="2.2 1.2"/>
<line x1="567.26" y1="319.2" x2="573.74" y2="319.2" stroke="#555" stroke-width="0.6" stroke-dasharray="0.8 1"/>
<line x1="567.72" y1="306.2" x2="573.28" y2="306.2" stroke="#555" stroke-width="0.6" stroke-dasharray="0.8 1"/>
<path d="M588.85 272.6C588.88 274.78 588.79 282.88 589 285.7C589.21 288.52 590.02 288.23 590.1 289.5C590.18 290.77 589.3 291.63 589.5 293.3C589.7 294.97 590.73 297.2 591.3 299.5C591.87 301.8 592.47 304.82 592.9 307.1C593.33 309.38 593.97 311.15 593.9 313.2C593.83 315.25 593.02 317.35 592.5 319.4C591.98 321.45 591.4 324.02 590.8 325.5C590.2 326.98 589.38 327.83 588.9 328.3C588.42 328.77 588.38 328.77 587.9 328.3C587.42 327.83 586.6 326.98 586 325.5C585.4 324.02 584.82 321.45 584.3 319.4C583.78 317.35 582.97 315.25 582.9 313.2C582.83 311.15 583.47 309.38 583.9 307.1C584.33 304.82 584.93 301.8 585.5 299.5C586.07 297.2 587.1 294.97 587.3 293.3C587.5 291.63 586.62 290.77 586.7 289.5C586.78 288.23 587.59 288.52 587.8 285.7C588.01 282.88 587.92 274.78 587.95 272.6Z" fill="#86c7e3" stroke="#111" stroke-width="1.5"/>
<line x1="583.61" y1="312.5" x2="593.19" y2="312.5" stroke="#222" stroke-width="0.9" stroke-dasharray="2.2 1.2"/>
<line x1="584.83" y1="319.1" x2="591.97" y2="319.1" stroke="#555" stroke-width="0.6" stroke-dasharray="0.8 1"/>
<line x1="585.57" y1="302" x2="591.23" y2="302" stroke="#555" stroke-width="0.6" stroke-dasharray="0.8 1"/>
<path d="M606.45 263.9C606.48 268.3 606.29 285.13 606.6 290.3C606.91 295.47 608.08 293.37 608.3 294.9C608.52 296.43 607.72 297.72 607.9 299.5C608.08 301.28 608.83 303.68 609.4 305.6C609.97 307.52 611.3 309.35 611.3 311C611.3 312.65 609.88 313.85 609.4 315.5C608.92 317.15 608.82 319.1 608.4 320.9C607.98 322.7 607.22 324.52 606.9 326.3C606.58 328.08 606.73 330.72 606.5 331.6C606.27 332.48 605.73 332.48 605.5 331.6C605.27 330.72 605.42 328.08 605.1 326.3C604.78 324.52 604.02 322.7 603.6 320.9C603.18 319.1 603.08 317.15 602.6 315.5C602.12 313.85 600.7 312.65 600.7 311C600.7 309.35 602.03 307.52 602.6 305.6C603.17 303.68 603.92 301.28 604.1 299.5C604.28 297.72 603.48 296.43 603.7 294.9C603.92 293.37 605.09 295.47 605.4 290.3C605.71 285.13 605.52 268.3 605.55 263.9Z" fill="#f7a0b9" stroke="#111" stroke-width="1.5"/>
<line x1="601.58" y1="310.2" x2="610.42" y2="310.2" stroke="#222" stroke-width="0.9" stroke-dasharray="2.2 1.2"/>
<line x1="602.9" y1="314.8" x2="609.1" y2="314.8" stroke="#555" stroke-width="0.6" stroke-dasharray="0.8 1"/>
<line x1="604.58" y1="300" x2="607.42" y2="300" stroke="#555" stroke-width="0.6" stroke-dasharray="0.8 1"/>
<path d="M624.45 276.5C624.48 280.07 624.34 293.32 624.65 297.9C624.96 302.48 625.69 301.95 626.3 304C626.91 306.05 627.9 308.7 628.3 310.2C628.7 311.7 628.9 311.98 628.7 313C628.5 314.02 627.1 314.98 627.1 316.3C627.1 317.62 628.9 319.37 628.7 320.9C628.5 322.43 626.57 324.23 625.9 325.5C625.23 326.77 624.93 327.35 624.7 328.5C624.47 329.65 624.7 331.75 624.5 332.4C624.3 333.05 623.7 333.05 623.5 332.4C623.3 331.75 623.53 329.65 623.3 328.5C623.07 327.35 622.77 326.77 622.1 325.5C621.43 324.23 619.5 322.43 619.3 320.9C619.1 319.37 620.9 317.62 620.9 316.3C620.9 314.98 619.5 314.02 619.3 313C619.1 311.98 619.3 311.7 619.7 310.2C620.1 308.7 621.09 306.05 621.7 304C622.31 301.95 623.04 302.48 623.35 297.9C623.66 293.32 623.52 280.07 623.55 276.5Z" fill="#fddc96" stroke="#111" stroke-width="1.5"/>
<line x1="619.97" y1="312.5" x2="628.03" y2="312.5" stroke="#222" stroke-width="0.9" stroke-dasharray="2.2 1.2"/>
<line x1="620.08" y1="321.2" x2="627.92" y2="321.2" stroke="#555" stroke-width="0.6" stroke-dasharray="0.8 1"/>
<line x1="622.14" y1="304.5" x2="625.86" y2="304.5" stroke="#555" stroke-width="0.6" stroke-dasharray="0.8 1"/>
<path d="M641.75 282.6C641.89 283.83 642.42 287.1 642.6 290C642.77 292.9 642.5 297.15 642.8 300C643.1 302.85 643.8 305.02 644.4 307.1C645 309.18 646.33 310.97 646.4 312.5C646.47 314.03 644.9 315.03 644.8 316.3C644.7 317.57 645.98 318.7 645.8 320.1C645.62 321.5 644.33 323.47 643.7 324.7C643.07 325.93 642.32 326.6 642 327.5C641.68 328.4 642 329.67 641.8 330.1C641.6 330.53 641 330.53 640.8 330.1C640.6 329.67 640.92 328.4 640.6 327.5C640.28 326.6 639.53 325.93 638.9 324.7C638.27 323.47 636.98 321.5 636.8 320.1C636.62 318.7 637.9 317.57 637.8 316.3C637.7 315.03 636.13 314.03 636.2 312.5C636.27 310.97 637.6 309.18 638.2 307.1C638.8 305.02 639.5 302.85 639.8 300C640.1 297.15 639.83 292.9 640 290C640.17 287.1 640.71 283.83 640.85 282.6Z" fill="#86c7e3" stroke="#111" stroke-width="1.5"/>
<line x1="637.09" y1="313.2" x2="645.51" y2="313.2" stroke="#222" stroke-width="0.9" stroke-dasharray="2.2 1.2"/>
<line x1="637.4" y1="320.1" x2="645.2" y2="320.1" stroke="#555" stroke-width="0.6" stroke-dasharray="0.8 1"/>
<line x1="639.27" y1="305" x2="643.33" y2="305" stroke="#555" stroke-width="0.6" stroke-dasharray="0.8 1"/>
<path d="M659.45 276.5C659.48 278.42 659.43 285.45 659.6 288C659.77 290.55 660.12 289.63 660.5 291.8C660.88 293.97 661.4 298.2 661.9 301C662.4 303.8 663.12 306.57 663.5 308.6C663.88 310.63 664.22 311.4 664.2 313.2C664.18 315 663.87 317.6 663.4 319.4C662.93 321.2 662.02 322.57 661.4 324C660.78 325.43 660.02 326.47 659.7 328C659.38 329.53 659.7 332.33 659.5 333.2C659.3 334.07 658.7 334.07 658.5 333.2C658.3 332.33 658.62 329.53 658.3 328C657.98 326.47 657.22 325.43 656.6 324C655.98 322.57 655.07 321.2 654.6 319.4C654.13 317.6 653.82 315 653.8 313.2C653.78 311.4 654.12 310.63 654.5 308.6C654.88 306.57 655.6 303.8 656.1 301C656.6 298.2 657.12 293.97 657.5 291.8C657.88 289.63 658.23 290.55 658.4 288C658.57 285.45 658.52 278.42 658.55 276.5Z" fill="#f7a0b9" stroke="#111" stroke-width="1.5"/>
<line x1="654.51" y1="312.5" x2="663.49" y2="312.5" stroke="#222" stroke-width="0.9" stroke-dasharray="2.2 1.2"/>
<line x1="654.99" y1="317.8" x2="663.01" y2="317.8" stroke="#555" stroke-width="0.6" stroke-dasharray="0.8 1"/>
<line x1="656.07" y1="304" x2="661.93" y2="304" stroke="#555" stroke-width="0.6" stroke-dasharray="0.8 1"/>
<path d="M677.35 257.3C677.39 261.52 677.36 277.37 677.6 282.6C677.84 287.83 678.63 286.65 678.8 288.7C678.97 290.75 678.35 292.6 678.6 294.9C678.85 297.2 679.73 300.22 680.3 302.5C680.87 304.78 681.65 306.3 682 308.6C682.35 310.9 682.53 314 682.4 316.3C682.27 318.6 681.8 320.62 681.2 322.4C680.6 324.18 679.43 325.97 678.8 327C678.17 328.03 677.8 328.33 677.4 328.6C677 328.87 676.8 328.87 676.4 328.6C676 328.33 675.63 328.03 675 327C674.37 325.97 673.2 324.18 672.6 322.4C672 320.62 671.53 318.6 671.4 316.3C671.27 314 671.45 310.9 671.8 308.6C672.15 306.3 672.93 304.78 673.5 302.5C674.07 300.22 674.95 297.2 675.2 294.9C675.45 292.6 674.83 290.75 675 288.7C675.17 286.65 675.96 287.83 676.2 282.6C676.44 277.37 676.41 261.52 676.45 257.3Z" fill="#fddc96" stroke="#111" stroke-width="1.5"/>
<line x1="672.32" y1="310.2" x2="681.48" y2="310.2" stroke="#222" stroke-width="0.9" stroke-dasharray="2.2 1.2"/>
<line x1="672.16" y1="317.1" x2="681.64" y2="317.1" stroke="#555" stroke-width="0.6" stroke-dasharray="0.8 1"/>
<line x1="674.66" y1="300" x2="679.14" y2="300" stroke="#555" stroke-width="0.6" stroke-dasharray="0.8 1"/>
<path d="M570.4 231.6V229.4H676.6V231.6" fill="none" stroke="#333" stroke-width="0.8"/>
<line x1="623.4" y1="229.4" x2="623.4" y2="231.6" stroke="#333" stroke-width="0.8"/>
<path d="M623.4 223.35L624.01 224.81L625.59 224.94L624.38 225.97L624.75 227.51L623.4 226.69L622.05 227.51L622.42 225.97L621.21 224.94L622.79 224.81Z" fill="#222"/>
<path d="M552.8 240.4V238H657.4V240.4" fill="none" stroke="#333" stroke-width="0.8"/>
<line x1="604.4" y1="238" x2="604.4" y2="240.4" stroke="#333" stroke-width="0.8"/>
<path d="M597.74 232.55L598.35 234.01L599.93 234.14L598.73 235.17L599.09 236.71L597.74 235.88L596.39 236.71L596.76 235.17L595.55 234.14L597.13 234.01ZM602.18 232.55L602.79 234.01L604.37 234.14L603.16 235.17L603.53 236.71L602.18 235.88L600.83 236.71L601.2 235.17L599.99 234.14L601.57 234.01ZM606.62 232.55L607.23 234.01L608.81 234.14L607.6 235.17L607.97 236.71L606.62 235.88L605.27 236.71L605.64 235.17L604.43 234.14L606.01 234.01ZM611.06 232.55L611.67 234.01L613.25 234.14L612.04 235.17L612.41 236.71L611.06 235.88L609.71 236.71L610.07 235.17L608.87 234.14L610.45 234.01Z" fill="#222"/>
<path d="M535 240.4V238H552.4V240.4" fill="none" stroke="#333" stroke-width="0.8"/>
<path d="M537.04 232.55L537.65 234.01L539.23 234.14L538.03 235.17L538.39 236.71L537.04 235.88L535.69 236.71L536.06 235.17L534.85 234.14L536.43 234.01ZM541.48 232.55L542.09 234.01L543.67 234.14L542.46 235.17L542.83 236.71L541.48 235.88L540.13 236.71L540.5 235.17L539.29 234.14L540.87 234.01ZM545.92 232.55L546.53 234.01L548.11 234.14L546.9 235.17L547.27 236.71L545.92 235.88L544.57 236.71L544.94 235.17L543.73 234.14L545.31 234.01ZM550.36 232.55L550.97 234.01L552.55 234.14L551.34 235.17L551.71 236.71L550.36 235.88L549.01 236.71L549.37 235.17L548.17 234.14L549.75 234.01Z" fill="#222"/>
<path d="M552.8 250.8V248H570.6V250.8" fill="none" stroke="#333" stroke-width="0.8"/>
<path d="M555.04 243.75L555.65 245.21L557.23 245.34L556.03 246.37L556.39 247.91L555.04 247.09L553.69 247.91L554.06 246.37L552.85 245.34L554.43 245.21ZM559.48 243.75L560.09 245.21L561.67 245.34L560.46 246.37L560.83 247.91L559.48 247.09L558.13 247.91L558.5 246.37L557.29 245.34L558.87 245.21ZM563.92 243.75L564.53 245.21L566.11 245.34L564.9 246.37L565.27 247.91L563.92 247.09L562.57 247.91L562.94 246.37L561.73 245.34L563.31 245.21ZM568.36 243.75L568.97 245.21L570.55 245.34L569.34 246.37L569.71 247.91L568.36 247.09L567.01 247.91L567.37 246.37L566.17 245.34L567.75 245.21Z" fill="#222"/>
<path d="M642.4 254.2V251.6H676.4V254.2" fill="none" stroke="#333" stroke-width="0.8"/>
<path d="M656.78 245.95L657.39 247.41L658.97 247.54L657.76 248.57L658.13 250.11L656.78 249.28L655.43 250.11L655.8 248.57L654.59 247.54L656.17 247.41ZM661.22 245.95L661.83 247.41L663.41 247.54L662.2 248.57L662.57 250.11L661.22 249.28L659.87 250.11L660.24 248.57L659.03 247.54L660.61 247.41Z" fill="#222"/>
<text x="478.4" y="375.48" font-size="11.5" font-weight="bold" text-anchor="start" fill="#111">h</text>
<rect x="509.2" y="374.7" width="11.3" height="5.4" fill="#86c7e3" stroke="#222" stroke-width="0.7"/>
<text x="523.6" y="380.33" font-size="8.25" font-weight="normal" text-anchor="start" fill="#111">Elastic</text>
<rect x="551.8" y="374.7" width="11.3" height="5.4" fill="#f7a0b9" stroke="#222" stroke-width="0.7"/>
<text x="567.4" y="380.33" font-size="8.25" font-weight="normal" text-anchor="start" fill="#111">Slow relaxing</text>
<rect x="620.6" y="374.7" width="11.3" height="5.4" fill="#fddc96" stroke="#222" stroke-width="0.7"/>
<text x="635.4" y="380.33" font-size="8.25" font-weight="normal" text-anchor="start" fill="#111">Fast relaxing</text>
<line x1="518.6" y1="394" x2="518.6" y2="502" stroke="#111" stroke-width="1.2"/>
<line x1="513.6" y1="501.4" x2="518.6" y2="501.4" stroke="#111" stroke-width="1.2"/>
<text x="512" y="504.63" font-size="9.1" font-weight="bold" text-anchor="end" fill="#111">0</text>
<line x1="513.6" y1="474.55" x2="518.6" y2="474.55" stroke="#111" stroke-width="1.2"/>
<text x="512" y="477.78" font-size="9.1" font-weight="bold" text-anchor="end" fill="#111">10</text>
<line x1="513.6" y1="447.7" x2="518.6" y2="447.7" stroke="#111" stroke-width="1.2"/>
<text x="512" y="450.93" font-size="9.1" font-weight="bold" text-anchor="end" fill="#111">20</text>
<line x1="513.6" y1="420.85" x2="518.6" y2="420.85" stroke="#111" stroke-width="1.2"/>
<text x="512" y="424.08" font-size="9.1" font-weight="bold" text-anchor="end" fill="#111">30</text>
<line x1="513.6" y1="394" x2="518.6" y2="394" stroke="#111" stroke-width="1.2"/>
<text x="512" y="397.23" font-size="9.1" font-weight="bold" text-anchor="end" fill="#111">40</text>
<line x1="525" y1="502.4" x2="572.4" y2="502.4" stroke="#111" stroke-width="1.5"/>
<text x="548" y="514.27" font-size="9.2" font-weight="bold" text-anchor="middle" fill="#111">2</text>
<line x1="579.4" y1="502.4" x2="627" y2="502.4" stroke="#111" stroke-width="1.5"/>
<text x="603.4" y="514.27" font-size="9.2" font-weight="bold" text-anchor="middle" fill="#111">10</text>
<line x1="634.4" y1="502.4" x2="681.6" y2="502.4" stroke="#111" stroke-width="1.5"/>
<text x="658.6" y="514.27" font-size="9.2" font-weight="bold" text-anchor="middle" fill="#111">20</text>
<text x="610" y="525.63" font-size="9.1" font-weight="bold" text-anchor="middle" fill="#111">Elastic modulus (kPa)</text>
<text x="491.6" y="450.83" font-size="9.1" font-weight="bold" text-anchor="middle" fill="#111" transform="rotate(-90 491.6 447.6)">Chromatin compaction index</text>
<path d="M531.35 425.9C531.46 426.58 531.94 428.65 532 430C532.06 431.35 531.68 432.67 531.7 434C531.72 435.33 532.02 436.88 532.1 438C532.18 439.12 531.83 439.18 532.2 440.7C532.57 442.22 533.67 444.97 534.3 447.1C534.93 449.23 535.62 451.35 536 453.5C536.38 455.65 536.72 457.58 536.6 460C536.48 462.42 535.8 465.6 535.3 468C534.8 470.4 534.15 472.53 533.6 474.4C533.05 476.27 532.35 477.77 532 479.2C531.65 480.63 531.6 479.52 531.5 483C531.4 486.48 531.58 497.25 531.4 500.1C531.22 502.95 530.58 502.95 530.4 500.1C530.22 497.25 530.4 486.48 530.3 483C530.2 479.52 530.15 480.63 529.8 479.2C529.45 477.77 528.75 476.27 528.2 474.4C527.65 472.53 527 470.4 526.5 468C526 465.6 525.32 462.42 525.2 460C525.08 457.58 525.42 455.65 525.8 453.5C526.18 451.35 526.87 449.23 527.5 447.1C528.13 444.97 529.23 442.22 529.6 440.7C529.97 439.18 529.62 439.12 529.7 438C529.78 436.88 530.08 435.33 530.1 434C530.12 432.67 529.74 431.35 529.8 430C529.86 428.65 530.34 426.58 530.45 425.9Z" fill="#86c7e3" stroke="#111" stroke-width="1.5"/>
<line x1="525.87" y1="459.2" x2="535.93" y2="459.2" stroke="#222" stroke-width="0.9" stroke-dasharray="2.2 1.2"/>
<line x1="526.84" y1="466.4" x2="534.96" y2="466.4" stroke="#555" stroke-width="0.6" stroke-dasharray="0.8 1"/>
<line x1="526.4" y1="453.5" x2="535.4" y2="453.5" stroke="#555" stroke-width="0.6" stroke-dasharray="0.8 1"/>
<path d="M549.65 449.5C549.89 450.17 550.44 451.48 551.1 453.5C551.76 455.52 553.03 459.45 553.6 461.6C554.17 463.75 554.48 464.53 554.5 466.4C554.52 468.27 554.17 470.67 553.7 472.8C553.23 474.93 552.3 477.33 551.7 479.2C551.1 481.07 550.43 481.18 550.1 484C549.77 486.82 549.93 494.08 549.7 496.1C549.47 498.12 548.93 498.12 548.7 496.1C548.47 494.08 548.63 486.82 548.3 484C547.97 481.18 547.3 481.07 546.7 479.2C546.1 477.33 545.17 474.93 544.7 472.8C544.23 470.67 543.88 468.27 543.9 466.4C543.92 464.53 544.23 463.75 544.8 461.6C545.37 459.45 546.64 455.52 547.3 453.5C547.96 451.48 548.51 450.17 548.75 449.5Z" fill="#f7a0b9" stroke="#111" stroke-width="1.5"/>
<line x1="544.7" y1="468" x2="553.7" y2="468" stroke="#222" stroke-width="0.9" stroke-dasharray="2.2 1.2"/>
<line x1="545.8" y1="474.4" x2="552.6" y2="474.4" stroke="#555" stroke-width="0.6" stroke-dasharray="0.8 1"/>
<line x1="545.1" y1="463.2" x2="553.3" y2="463.2" stroke="#555" stroke-width="0.6" stroke-dasharray="0.8 1"/>
<path d="M567.85 444.7C567.89 445.77 567.69 449.5 568.1 451.1C568.51 452.7 569.77 452.82 570.3 454.3C570.83 455.78 570.88 458.2 571.3 460C571.72 461.8 572.88 463.23 572.8 465.1C572.72 466.97 571.47 469.12 570.8 471.2C570.13 473.28 569.27 475.97 568.8 477.6C568.33 479.23 568.15 479.25 568 481C567.85 482.75 568.08 486.92 567.9 488.1C567.72 489.28 567.08 489.28 566.9 488.1C566.72 486.92 566.95 482.75 566.8 481C566.65 479.25 566.47 479.23 566 477.6C565.53 475.97 564.67 473.28 564 471.2C563.33 469.12 562.08 466.97 562 465.1C561.92 463.23 563.08 461.8 563.5 460C563.92 458.2 563.97 455.78 564.5 454.3C565.03 452.82 566.29 452.7 566.7 451.1C567.11 449.5 566.91 445.77 566.95 444.7Z" fill="#fddc96" stroke="#111" stroke-width="1.5"/>
<line x1="562.67" y1="465.3" x2="572.13" y2="465.3" stroke="#222" stroke-width="0.9" stroke-dasharray="2.2 1.2"/>
<line x1="564.08" y1="469.6" x2="570.72" y2="469.6" stroke="#555" stroke-width="0.6" stroke-dasharray="0.8 1"/>
<line x1="564.24" y1="459.2" x2="570.56" y2="459.2" stroke="#555" stroke-width="0.6" stroke-dasharray="0.8 1"/>
<path d="M585.95 419.5C585.99 421.97 585.79 431.03 586.2 434.3C586.61 437.57 587.83 436.97 588.4 439.1C588.97 441.23 589.27 444.7 589.6 447.1C589.93 449.5 590.15 451.22 590.4 453.5C590.65 455.78 591.23 458.38 591.1 460.8C590.97 463.22 590.22 465.73 589.6 468C588.98 470.27 587.93 472.53 587.4 474.4C586.87 476.27 586.63 476.78 586.4 479.2C586.17 481.62 586.23 487.28 586 488.9C585.77 490.52 585.23 490.52 585 488.9C584.77 487.28 584.83 481.62 584.6 479.2C584.37 476.78 584.13 476.27 583.6 474.4C583.07 472.53 582.02 470.27 581.4 468C580.78 465.73 580.03 463.22 579.9 460.8C579.77 458.38 580.35 455.78 580.6 453.5C580.85 451.22 581.07 449.5 581.4 447.1C581.73 444.7 582.03 441.23 582.6 439.1C583.17 436.97 584.39 437.57 584.8 434.3C585.21 431.03 585.01 421.97 585.05 419.5Z" fill="#86c7e3" stroke="#111" stroke-width="1.5"/>
<line x1="580.55" y1="460.3" x2="590.45" y2="460.3" stroke="#222" stroke-width="0.9" stroke-dasharray="2.2 1.2"/>
<line x1="581.83" y1="467.2" x2="589.17" y2="467.2" stroke="#555" stroke-width="0.6" stroke-dasharray="0.8 1"/>
<line x1="581.5" y1="451.1" x2="589.5" y2="451.1" stroke="#555" stroke-width="0.6" stroke-dasharray="0.8 1"/>
<path d="M604.25 441.5C604.29 442.7 604.09 446.7 604.5 448.7C604.91 450.7 606.08 451.62 606.7 453.5C607.32 455.38 607.78 457.98 608.2 460C608.62 462.02 609.28 463.73 609.2 465.6C609.12 467.47 608.37 469.2 607.7 471.2C607.03 473.2 605.75 475.97 605.2 477.6C604.65 479.23 604.55 478.85 604.4 481C604.25 483.15 604.48 488.92 604.3 490.5C604.12 492.08 603.48 492.08 603.3 490.5C603.12 488.92 603.35 483.15 603.2 481C603.05 478.85 602.95 479.23 602.4 477.6C601.85 475.97 600.57 473.2 599.9 471.2C599.23 469.2 598.48 467.47 598.4 465.6C598.32 463.73 598.98 462.02 599.4 460C599.82 457.98 600.28 455.38 600.9 453.5C601.52 451.62 602.69 450.7 603.1 448.7C603.51 446.7 603.31 442.7 603.35 441.5Z" fill="#f7a0b9" stroke="#111" stroke-width="1.5"/>
<line x1="599.13" y1="466.1" x2="608.47" y2="466.1" stroke="#222" stroke-width="0.9" stroke-dasharray="2.2 1.2"/>
<line x1="600.5" y1="471.2" x2="607.1" y2="471.2" stroke="#555" stroke-width="0.6" stroke-dasharray="0.8 1"/>
<line x1="599.95" y1="460.3" x2="607.65" y2="460.3" stroke="#555" stroke-width="0.6" stroke-dasharray="0.8 1"/>
<path d="M622.75 429.1C622.79 431.43 622.59 440.1 623 443.1C623.41 446.1 624.57 445.37 625.2 447.1C625.83 448.83 626.37 451.48 626.8 453.5C627.23 455.52 627.8 457.32 627.8 459.2C627.8 461.08 627.32 462.8 626.8 464.8C626.28 466.8 625.35 468.93 624.7 471.2C624.05 473.47 623.4 477.2 622.9 478.4C622.4 479.6 622.2 479.6 621.7 478.4C621.2 477.2 620.55 473.47 619.9 471.2C619.25 468.93 618.32 466.8 617.8 464.8C617.28 462.8 616.8 461.08 616.8 459.2C616.8 457.32 617.37 455.52 617.8 453.5C618.23 451.48 618.77 448.83 619.4 447.1C620.03 445.37 621.19 446.1 621.6 443.1C622.01 440.1 621.81 431.43 621.85 429.1Z" fill="#fddc96" stroke="#111" stroke-width="1.5"/>
<line x1="617.4" y1="459.2" x2="627.2" y2="459.2" stroke="#222" stroke-width="0.9" stroke-dasharray="2.2 1.2"/>
<line x1="618.26" y1="464" x2="626.34" y2="464" stroke="#555" stroke-width="0.6" stroke-dasharray="0.8 1"/>
<line x1="618.4" y1="453.5" x2="626.2" y2="453.5" stroke="#555" stroke-width="0.6" stroke-dasharray="0.8 1"/>
<path d="M640.75 427.5C640.79 429.2 640.62 435.28 641 437.7C641.38 440.12 642.43 440.12 643 442C643.57 443.88 644.2 447 644.4 449C644.6 451 644 452.33 644.2 454C644.4 455.67 645.57 457.23 645.6 459C645.63 460.77 644.97 462.72 644.4 464.6C643.83 466.48 642.75 468.87 642.2 470.3C641.65 471.73 641.33 469.42 641.1 473.2C640.87 476.98 641.02 489.7 640.8 493C640.58 496.3 640.02 496.3 639.8 493C639.58 489.7 639.73 476.98 639.5 473.2C639.27 469.42 638.95 471.73 638.4 470.3C637.85 468.87 636.77 466.48 636.2 464.6C635.63 462.72 634.97 460.77 635 459C635.03 457.23 636.2 455.67 636.4 454C636.6 452.33 636 451 636.2 449C636.4 447 637.03 443.88 637.6 442C638.17 440.12 639.22 440.12 639.6 437.7C639.97 435.28 639.81 429.2 639.85 427.5Z" fill="#86c7e3" stroke="#111" stroke-width="1.5"/>
<line x1="635.99" y1="457.6" x2="644.61" y2="457.6" stroke="#222" stroke-width="0.9" stroke-dasharray="2.2 1.2"/>
<line x1="636.5" y1="463.2" x2="644.1" y2="463.2" stroke="#555" stroke-width="0.6" stroke-dasharray="0.8 1"/>
<line x1="636.83" y1="449.8" x2="643.77" y2="449.8" stroke="#555" stroke-width="0.6" stroke-dasharray="0.8 1"/>
<path d="M659.05 419.3C659.08 422.13 659.04 432.77 659.25 436.3C659.46 439.83 659.84 438.62 660.3 440.5C660.76 442.38 661.43 445.47 662 447.6C662.57 449.73 663.4 451.4 663.7 453.3C664 455.2 663.93 457.35 663.8 459C663.67 460.65 663.02 461.78 662.9 463.2C662.78 464.62 663.5 465.6 663.1 467.5C662.7 469.4 661.13 472.48 660.5 474.6C659.87 476.72 659.53 476.3 659.3 480.2C659.07 484.1 659.3 495.03 659.1 498C658.9 500.97 658.3 500.97 658.1 498C657.9 495.03 658.13 484.1 657.9 480.2C657.67 476.3 657.33 476.72 656.7 474.6C656.07 472.48 654.5 469.4 654.1 467.5C653.7 465.6 654.42 464.62 654.3 463.2C654.18 461.78 653.53 460.65 653.4 459C653.27 457.35 653.2 455.2 653.5 453.3C653.8 451.4 654.63 449.73 655.2 447.6C655.77 445.47 656.44 442.38 656.9 440.5C657.36 438.62 657.74 439.83 657.95 436.3C658.16 432.77 658.12 422.13 658.15 419.3Z" fill="#f7a0b9" stroke="#111" stroke-width="1.5"/>
<line x1="654.09" y1="459.4" x2="663.11" y2="459.4" stroke="#222" stroke-width="0.9" stroke-dasharray="2.2 1.2"/>
<line x1="654.71" y1="467.2" x2="662.49" y2="467.2" stroke="#555" stroke-width="0.6" stroke-dasharray="0.8 1"/>
<line x1="654.1" y1="453.3" x2="663.1" y2="453.3" stroke="#555" stroke-width="0.6" stroke-dasharray="0.8 1"/>
<path d="M677.65 433.2C677.69 436.08 677.49 446.68 677.9 450.5C678.31 454.32 679.4 454.33 680.1 456.1C680.8 457.87 681.67 459.32 682.1 461.1C682.53 462.88 682.8 464.78 682.7 466.8C682.6 468.82 682.02 471.2 681.5 473.2C680.98 475.2 680.17 476.92 679.6 478.8C679.03 480.68 678.42 482.83 678.1 484.5C677.78 486.17 677.93 488.08 677.7 488.8C677.47 489.52 676.93 489.52 676.7 488.8C676.47 488.08 676.62 486.17 676.3 484.5C675.98 482.83 675.37 480.68 674.8 478.8C674.23 476.92 673.42 475.2 672.9 473.2C672.38 471.2 671.8 468.82 671.7 466.8C671.6 464.78 671.87 462.88 672.3 461.1C672.73 459.32 673.6 457.87 674.3 456.1C675 454.33 676.09 454.32 676.5 450.5C676.91 446.68 676.71 436.08 676.75 433.2Z" fill="#fddc96" stroke="#111" stroke-width="1.5"/>
<line x1="672.35" y1="466.3" x2="682.05" y2="466.3" stroke="#222" stroke-width="0.9" stroke-dasharray="2.2 1.2"/>
<line x1="673.5" y1="473.2" x2="680.9" y2="473.2" stroke="#555" stroke-width="0.6" stroke-dasharray="0.8 1"/>
<line x1="673.3" y1="460.1" x2="681.1" y2="460.1" stroke="#555" stroke-width="0.6" stroke-dasharray="0.8 1"/>
<path d="M547.6 395.6V392H658.6V395.6" fill="none" stroke="#333" stroke-width="0.8"/>
<path d="M596.94 387.55L597.55 389.01L599.13 389.14L597.93 390.17L598.29 391.71L596.94 390.89L595.59 391.71L595.96 390.17L594.75 389.14L596.33 389.01ZM601.38 387.55L601.99 389.01L603.57 389.14L602.36 390.17L602.73 391.71L601.38 390.89L600.03 391.71L600.4 390.17L599.19 389.14L600.77 389.01ZM605.82 387.55L606.43 389.01L608.01 389.14L606.8 390.17L607.17 391.71L605.82 390.89L604.47 391.71L604.84 390.17L603.63 389.14L605.21 389.01ZM610.26 387.55L610.87 389.01L612.45 389.14L611.24 390.17L611.61 391.71L610.26 390.89L608.91 391.71L609.27 390.17L608.07 389.14L609.65 389.01Z" fill="#222"/>
<path d="M531.4 405V402.4H568.4V405" fill="none" stroke="#333" stroke-width="0.8"/>
<path d="M542.94 396.95L543.55 398.41L545.13 398.54L543.93 399.57L544.29 401.11L542.94 400.29L541.59 401.11L541.96 399.57L540.75 398.54L542.33 398.41ZM547.38 396.95L547.99 398.41L549.57 398.54L548.36 399.57L548.73 401.11L547.38 400.29L546.03 401.11L546.4 399.57L545.19 398.54L546.77 398.41ZM551.82 396.95L552.43 398.41L554.01 398.54L552.8 399.57L553.17 401.11L551.82 400.29L550.47 401.11L550.84 399.57L549.63 398.54L551.21 398.41ZM556.26 396.95L556.87 398.41L558.45 398.54L557.24 399.57L557.61 401.11L556.26 400.29L554.91 401.11L555.27 399.57L554.07 398.54L555.65 398.41Z" fill="#222"/>
<path d="M568.6 405V402.4H621.4V405" fill="none" stroke="#333" stroke-width="0.8"/>
<path d="M587.34 396.95L587.95 398.41L589.53 398.54L588.33 399.57L588.69 401.11L587.34 400.29L585.99 401.11L586.36 399.57L585.15 398.54L586.73 398.41ZM591.78 396.95L592.39 398.41L593.97 398.54L592.76 399.57L593.13 401.11L591.78 400.29L590.43 401.11L590.8 399.57L589.59 398.54L591.17 398.41ZM596.22 396.95L596.83 398.41L598.41 398.54L597.2 399.57L597.57 401.11L596.22 400.29L594.87 401.11L595.24 399.57L594.03 398.54L595.61 398.41ZM600.66 396.95L601.27 398.41L602.85 398.54L601.64 399.57L602.01 401.11L600.66 400.29L599.31 401.11L599.67 399.57L598.47 398.54L600.05 398.41Z" fill="#222"/>
<path d="M531.4 415.4V412.8H568.4V415.4" fill="none" stroke="#333" stroke-width="0.8"/>
<line x1="550" y1="412.8" x2="550" y2="415.4" stroke="#333" stroke-width="0.8"/>
<path d="M533.34 406.55L533.95 408.01L535.53 408.14L534.33 409.17L534.69 410.71L533.34 409.89L531.99 410.71L532.36 409.17L531.15 408.14L532.73 408.01ZM537.78 406.55L538.39 408.01L539.97 408.14L538.76 409.17L539.13 410.71L537.78 409.89L536.43 410.71L536.8 409.17L535.59 408.14L537.17 408.01ZM542.22 406.55L542.83 408.01L544.41 408.14L543.2 409.17L543.57 410.71L542.22 409.89L540.87 410.71L541.24 409.17L540.03 408.14L541.61 408.01ZM546.66 406.55L547.27 408.01L548.85 408.14L547.64 409.17L548.01 410.71L546.66 409.89L545.31 410.71L545.67 409.17L544.47 408.14L546.05 408.01Z" fill="#222"/>
<path d="M557.18 406.55L557.79 408.01L559.37 408.14L558.16 409.17L558.53 410.71L557.18 409.89L555.83 410.71L556.2 409.17L554.99 408.14L556.57 408.01ZM561.62 406.55L562.23 408.01L563.81 408.14L562.6 409.17L562.97 410.71L561.62 409.89L560.27 410.71L560.64 409.17L559.43 408.14L561.01 408.01Z" fill="#222"/>
<path d="M584.6 415.4V412.8H621.4V415.4" fill="none" stroke="#333" stroke-width="0.8"/>
<line x1="603.4" y1="412.8" x2="603.4" y2="415.4" stroke="#333" stroke-width="0.8"/>
<path d="M587.34 406.55L587.95 408.01L589.53 408.14L588.33 409.17L588.69 410.71L587.34 409.89L585.99 410.71L586.36 409.17L585.15 408.14L586.73 408.01ZM591.78 406.55L592.39 408.01L593.97 408.14L592.76 409.17L593.13 410.71L591.78 409.89L590.43 410.71L590.8 409.17L589.59 408.14L591.17 408.01ZM596.22 406.55L596.83 408.01L598.41 408.14L597.2 409.17L597.57 410.71L596.22 409.89L594.87 410.71L595.24 409.17L594.03 408.14L595.61 408.01ZM600.66 406.55L601.27 408.01L602.85 408.14L601.64 409.17L602.01 410.71L600.66 409.89L599.31 410.71L599.67 409.17L598.47 408.14L600.05 408.01Z" fill="#222"/>
<path d="M606.94 406.55L607.55 408.01L609.13 408.14L607.93 409.17L608.29 410.71L606.94 409.89L605.59 410.71L605.96 409.17L604.75 408.14L606.33 408.01ZM611.38 406.55L611.99 408.01L613.57 408.14L612.36 409.17L612.73 410.71L611.38 409.89L610.03 410.71L610.4 409.17L609.19 408.14L610.77 408.01ZM615.82 406.55L616.43 408.01L618.01 408.14L616.8 409.17L617.17 410.71L615.82 409.89L614.47 410.71L614.84 409.17L613.63 408.14L615.21 408.01ZM620.26 406.55L620.87 408.01L622.45 408.14L621.24 409.17L621.61 410.71L620.26 409.89L618.91 410.71L619.27 409.17L618.07 408.14L619.65 408.01Z" fill="#222"/>
<path d="M639.6 415.4V412.8H658.6V415.4" fill="none" stroke="#333" stroke-width="0.8"/>
<path d="M648.6 406.35L649.21 407.81L650.79 407.94L649.58 408.97L649.95 410.51L648.6 409.69L647.25 410.51L647.62 408.97L646.41 407.94L647.99 407.81Z" fill="#222"/>
<path d="M660.4 415.4V412.8H678.4V415.4" fill="none" stroke="#333" stroke-width="0.8"/>
<path d="M662.74 406.95L663.35 408.41L664.93 408.54L663.73 409.57L664.09 411.11L662.74 410.29L661.39 411.11L661.76 409.57L660.55 408.54L662.13 408.41ZM667.18 406.95L667.79 408.41L669.37 408.54L668.16 409.57L668.53 411.11L667.18 410.29L665.83 411.11L666.2 409.57L664.99 408.54L666.57 408.41ZM671.62 406.95L672.23 408.41L673.81 408.54L672.6 409.57L672.97 411.11L671.62 410.29L670.27 411.11L670.64 409.57L669.43 408.54L671.01 408.41ZM676.06 406.95L676.67 408.41L678.25 408.54L677.04 409.57L677.41 411.11L676.06 410.29L674.71 411.11L675.07 409.57L673.87 408.54L675.45 408.41Z" fill="#222"/>
<text x="480.4" y="539.68" font-size="11.5" font-weight="bold" text-anchor="start" fill="#111">i</text>
<text x="522" y="546.8" font-size="9.3" font-weight="bold" text-anchor="middle" fill="#111">Elastic</text>
<text x="586.4" y="546.8" font-size="9.3" font-weight="bold" text-anchor="middle" fill="#111">Slow relaxing</text>
<text x="652.6" y="546.8" font-size="9.3" font-weight="bold" text-anchor="middle" fill="#111">Fast relaxing</text>
<text x="485.4" y="581.87" font-size="9.2" font-weight="bold" text-anchor="middle" fill="#111" transform="rotate(-90 485.4 578.6)">2 kPa</text>
<clipPath id="ic0"><rect x="494.9" y="551" width="57.1" height="61.3"/></clipPath>
<rect x="494.9" y="551" width="57.1" height="61.3" fill="#481a6c" stroke="none" stroke-width="1"/>
<g clip-path="url(#ic0)">
<path d="M495 571h2v2h-2zM495 589h2v2h-2zM495 593h2v2h-2zM497 575h2v2h-2zM497 591h2v2h-2zM497 597h2v2h-2zM497 599h2v2h-2zM499 555h2v2h-2zM499 589h2v2h-2zM501 573h2v2h-2zM501 599h2v2h-2zM501 603h2v2h-2zM503 563h2v2h-2zM507 555h2v2h-2zM515 557h2v2h-2zM515 601h2v2h-2zM515 603h2v2h-2zM517 607h2v2h-2zM517 609h2v2h-2zM519 607h2v2h-2zM521 555h2v2h-2zM529 601h2v2h-2zM531 553h2v2h-2zM531 605h2v2h-2zM533 591h2v2h-2zM537 565h2v2h-2zM537 605h2v2h-2zM539 563h2v2h-2zM539 597h2v2h-2zM541 551h2v2h-2zM543 587h2v2h-2zM543 611h2v2h-2zM545 569h2v2h-2zM545 581h2v2h-2zM545 609h2v2h-2zM547 551h2v2h-2zM547 607h2v2h-2zM549 571h2v2h-2zM549 583h2v2h-2zM549 587h2v2h-2zM549 591h2v2h-2zM551 567h2v2h-2zM551 597h2v2h-2zM551 601h2v2h-2z" fill="#420e5d"/>
<path d="M495 573h2v2h-2zM495 577h2v2h-2zM495 587h2v2h-2zM497 563h2v2h-2zM497 585h2v2h-2zM499 577h2v2h-2zM503 571h2v2h-2zM503 577h2v2h-2zM503 597h2v2h-2zM505 553h2v2h-2zM505 555h2v2h-2zM507 559h2v2h-2zM507 569h2v2h-2zM511 567h2v2h-2zM519 557h2v2h-2zM519 559h2v2h-2zM521 553h2v2h-2zM521 609h2v2h-2zM527 597h2v2h-2zM527 611h2v2h-2zM529 603h2v2h-2zM531 559h2v2h-2zM533 609h2v2h-2zM535 591h2v2h-2zM535 601h2v2h-2zM537 559h2v2h-2zM539 589h2v2h-2zM543 551h2v2h-2zM543 563h2v2h-2zM543 573h2v2h-2zM543 597h2v2h-2zM545 557h2v2h-2zM547 601h2v2h-2zM549 575h2v2h-2z" fill="#411c66"/>
<path d="M503 585h2v2h-2zM511 601h2v2h-2zM523 601h2v2h-2z" fill="#365c8b"/>
<path d="M505 571h2v2h-2zM515 563h2v2h-2zM523 561h2v2h-2zM537 583h2v2h-2zM539 577h2v2h-2z" fill="#3c4481"/>
<path d="M505 575h2v2h-2zM505 591h2v2h-2zM507 597h2v2h-2zM509 567h2v2h-2zM529 595h2v2h-2zM533 561h2v2h-2zM537 569h2v2h-2zM537 579h2v2h-2zM537 587h2v2h-2zM539 583h2v2h-2z" fill="#32678b"/>
<path d="M505 581h2v2h-2zM505 583h2v2h-2zM509 573h2v2h-2zM509 579h2v2h-2zM509 591h2v2h-2zM511 569h2v2h-2zM513 593h2v2h-2zM513 595h2v2h-2zM515 571h2v2h-2zM515 583h2v2h-2zM515 597h2v2h-2zM521 581h2v2h-2zM521 599h2v2h-2zM523 579h2v2h-2zM529 563h2v2h-2zM531 567h2v2h-2zM531 569h2v2h-2zM531 583h2v2h-2zM533 577h2v2h-2zM533 587h2v2h-2z" fill="#53bf69"/>
<path d="M505 585h2v2h-2zM507 587h2v2h-2zM509 575h2v2h-2zM511 583h2v2h-2zM511 591h2v2h-2zM513 571h2v2h-2zM513 575h2v2h-2zM513 583h2v2h-2zM515 593h2v2h-2zM517 575h2v2h-2zM517 589h2v2h-2zM519 577h2v2h-2zM519 581h2v2h-2zM519 597h2v2h-2zM521 587h2v2h-2zM521 591h2v2h-2zM523 563h2v2h-2zM523 569h2v2h-2zM523 571h2v2h-2zM523 575h2v2h-2zM523 591h2v2h-2zM525 571h2v2h-2zM525 579h2v2h-2zM525 585h2v2h-2zM527 565h2v2h-2zM529 567h2v2h-2zM529 571h2v2h-2zM533 569h2v2h-2zM533 573h2v2h-2z" fill="#c7dd39"/>
<path d="M505 587h2v2h-2zM511 593h2v2h-2zM515 565h2v2h-2zM517 569h2v2h-2zM521 563h2v2h-2zM527 573h2v2h-2zM531 591h2v2h-2zM535 569h2v2h-2zM535 575h2v2h-2zM535 585h2v2h-2z" fill="#49b670"/>
<path d="M505 589h2v2h-2zM507 571h2v2h-2zM509 597h2v2h-2zM519 601h2v2h-2zM535 587h2v2h-2z" fill="#3e3778"/>
<path d="M507 573h2v2h-2zM511 599h2v2h-2zM521 561h2v2h-2zM537 573h2v2h-2z" fill="#3b528b"/>
<path d="M507 575h2v2h-2zM507 591h2v2h-2zM509 581h2v2h-2zM511 571h2v2h-2zM515 599h2v2h-2zM519 599h2v2h-2zM529 565h2v2h-2zM535 571h2v2h-2zM535 583h2v2h-2z" fill="#3fad77"/>
<path d="M507 577h2v2h-2zM509 577h2v2h-2zM509 587h2v2h-2zM511 587h2v2h-2zM511 595h2v2h-2zM511 597h2v2h-2zM513 567h2v2h-2zM513 585h2v2h-2zM513 591h2v2h-2zM515 575h2v2h-2zM515 585h2v2h-2zM515 587h2v2h-2zM515 595h2v2h-2zM517 587h2v2h-2zM519 583h2v2h-2zM521 565h2v2h-2zM521 577h2v2h-2zM523 565h2v2h-2zM523 577h2v2h-2zM525 573h2v2h-2zM525 597h2v2h-2zM527 567h2v2h-2zM527 575h2v2h-2zM529 579h2v2h-2zM531 565h2v2h-2zM531 579h2v2h-2zM533 575h2v2h-2zM533 579h2v2h-2zM535 573h2v2h-2zM535 581h2v2h-2z" fill="#78ce57"/>
<path d="M507 579h2v2h-2zM507 583h2v2h-2zM507 585h2v2h-2zM509 583h2v2h-2zM511 575h2v2h-2zM511 589h2v2h-2zM513 579h2v2h-2zM515 573h2v2h-2zM515 577h2v2h-2zM515 579h2v2h-2zM515 589h2v2h-2zM517 567h2v2h-2zM517 583h2v2h-2zM519 565h2v2h-2zM519 575h2v2h-2zM519 589h2v2h-2zM521 573h2v2h-2zM523 587h2v2h-2zM523 593h2v2h-2zM525 575h2v2h-2zM525 587h2v2h-2zM525 595h2v2h-2zM527 577h2v2h-2zM527 583h2v2h-2zM527 589h2v2h-2zM527 591h2v2h-2zM527 593h2v2h-2zM529 583h2v2h-2zM531 585h2v2h-2zM533 571h2v2h-2zM533 581h2v2h-2zM533 583h2v2h-2zM535 579h2v2h-2z" fill="#add843"/>
<path d="M507 581h2v2h-2zM507 589h2v2h-2zM509 585h2v2h-2zM509 595h2v2h-2zM511 577h2v2h-2zM511 581h2v2h-2zM513 569h2v2h-2zM513 573h2v2h-2zM515 569h2v2h-2zM515 581h2v2h-2zM517 573h2v2h-2zM517 579h2v2h-2zM517 593h2v2h-2zM517 595h2v2h-2zM519 563h2v2h-2zM519 567h2v2h-2zM519 571h2v2h-2zM519 573h2v2h-2zM519 585h2v2h-2zM519 595h2v2h-2zM521 583h2v2h-2zM521 585h2v2h-2zM521 593h2v2h-2zM523 567h2v2h-2zM523 581h2v2h-2zM523 585h2v2h-2zM523 589h2v2h-2zM523 597h2v2h-2zM525 563h2v2h-2zM525 569h2v2h-2zM525 589h2v2h-2zM527 579h2v2h-2zM527 581h2v2h-2zM529 577h2v2h-2zM529 585h2v2h-2zM529 587h2v2h-2zM529 589h2v2h-2zM533 567h2v2h-2z" fill="#93d34d"/>
<path d="M507 593h2v2h-2zM509 593h2v2h-2zM513 597h2v2h-2zM517 565h2v2h-2zM517 577h2v2h-2zM517 597h2v2h-2zM517 599h2v2h-2zM519 569h2v2h-2zM519 579h2v2h-2zM521 597h2v2h-2zM523 583h2v2h-2zM525 565h2v2h-2zM525 593h2v2h-2zM527 563h2v2h-2zM527 595h2v2h-2zM529 573h2v2h-2zM529 575h2v2h-2zM529 593h2v2h-2zM531 571h2v2h-2zM531 577h2v2h-2zM533 589h2v2h-2zM535 577h2v2h-2z" fill="#5ec962"/>
<path d="M509 571h2v2h-2zM525 577h2v2h-2zM531 575h2v2h-2z" fill="#35a37e"/>
<path d="M509 589h2v2h-2zM511 579h2v2h-2zM513 577h2v2h-2zM513 581h2v2h-2zM515 591h2v2h-2zM517 581h2v2h-2zM519 587h2v2h-2zM519 591h2v2h-2zM519 593h2v2h-2zM521 567h2v2h-2zM521 569h2v2h-2zM521 571h2v2h-2zM521 595h2v2h-2zM523 595h2v2h-2zM525 567h2v2h-2zM527 571h2v2h-2zM527 585h2v2h-2zM529 581h2v2h-2zM531 581h2v2h-2zM531 589h2v2h-2zM533 585h2v2h-2z" fill="#fde725"/>
<path d="M511 573h2v2h-2zM511 585h2v2h-2zM513 589h2v2h-2zM517 571h2v2h-2zM517 591h2v2h-2zM521 575h2v2h-2zM521 579h2v2h-2zM521 589h2v2h-2zM523 573h2v2h-2zM525 581h2v2h-2zM525 583h2v2h-2zM527 569h2v2h-2zM527 587h2v2h-2zM529 569h2v2h-2zM529 591h2v2h-2zM531 573h2v2h-2zM531 587h2v2h-2z" fill="#e2e22f"/>
<path d="M513 587h2v2h-2zM515 567h2v2h-2zM517 585h2v2h-2z" fill="#2b9a85"/>
<path d="M513 599h2v2h-2zM513 601h2v2h-2zM529 561h2v2h-2zM537 575h2v2h-2z" fill="#3f296f"/>
<path d="M525 591h2v2h-2z" fill="#21918c"/>
</g>
<clipPath id="ic1"><rect x="557.2" y="551" width="58.6" height="60.8"/></clipPath>
<rect x="557.2" y="551" width="58.6" height="60.8" fill="#440154" stroke="none" stroke-width="1"/>
<g clip-path="url(#ic1)">
<path d="M567 571h2v2h-2zM567 581h2v2h-2zM569 567h2v2h-2zM569 585h2v2h-2zM571 565h2v2h-2zM573 563h2v2h-2zM577 561h2v2h-2zM577 581h2v2h-2zM581 567h2v2h-2zM581 597h2v2h-2zM583 559h2v2h-2zM585 585h2v2h-2zM585 597h2v2h-2zM587 557h2v2h-2zM587 559h2v2h-2zM587 569h2v2h-2zM587 597h2v2h-2zM589 557h2v2h-2zM591 559h2v2h-2zM593 593h2v2h-2zM593 595h2v2h-2zM595 561h2v2h-2zM597 563h2v2h-2zM597 591h2v2h-2zM601 571h2v2h-2zM603 581h2v2h-2z" fill="#25868b"/>
<path d="M567 573h2v2h-2zM567 575h2v2h-2zM567 577h2v2h-2zM567 585h2v2h-2zM569 569h2v2h-2zM569 587h2v2h-2zM571 567h2v2h-2zM573 591h2v2h-2zM573 593h2v2h-2zM575 565h2v2h-2zM575 575h2v2h-2zM575 595h2v2h-2zM577 559h2v2h-2zM577 583h2v2h-2zM579 597h2v2h-2zM581 559h2v2h-2zM583 557h2v2h-2zM583 577h2v2h-2zM583 579h2v2h-2zM583 597h2v2h-2zM585 557h2v2h-2zM585 565h2v2h-2zM585 583h2v2h-2zM585 593h2v2h-2zM589 559h2v2h-2zM589 597h2v2h-2zM591 589h2v2h-2zM591 591h2v2h-2zM593 559h2v2h-2zM593 561h2v2h-2zM595 571h2v2h-2zM595 593h2v2h-2zM597 561h2v2h-2zM599 563h2v2h-2zM599 565h2v2h-2zM599 567h2v2h-2zM599 569h2v2h-2zM599 587h2v2h-2zM599 589h2v2h-2zM603 573h2v2h-2zM603 577h2v2h-2z" fill="#21918c"/>
<path d="M567 579h2v2h-2zM569 571h2v2h-2zM569 573h2v2h-2zM569 589h2v2h-2zM571 589h2v2h-2zM571 591h2v2h-2zM575 585h2v2h-2zM575 593h2v2h-2zM577 567h2v2h-2zM577 591h2v2h-2zM579 559h2v2h-2zM579 561h2v2h-2zM599 585h2v2h-2zM601 583h2v2h-2zM601 585h2v2h-2z" fill="#297c8b"/>
<path d="M567 583h2v2h-2zM569 575h2v2h-2zM571 573h2v2h-2zM573 569h2v2h-2zM573 575h2v2h-2zM575 563h2v2h-2zM575 577h2v2h-2zM575 591h2v2h-2zM577 571h2v2h-2zM577 595h2v2h-2zM577 597h2v2h-2zM579 573h2v2h-2zM581 557h2v2h-2zM581 563h2v2h-2zM581 569h2v2h-2zM581 577h2v2h-2zM583 571h2v2h-2zM583 575h2v2h-2zM583 583h2v2h-2zM583 589h2v2h-2zM583 595h2v2h-2zM585 567h2v2h-2zM585 581h2v2h-2zM587 565h2v2h-2zM587 571h2v2h-2zM587 583h2v2h-2zM587 585h2v2h-2zM587 589h2v2h-2zM589 567h2v2h-2zM589 575h2v2h-2zM589 587h2v2h-2zM589 589h2v2h-2zM591 571h2v2h-2zM591 579h2v2h-2zM591 593h2v2h-2zM591 595h2v2h-2zM593 577h2v2h-2zM595 579h2v2h-2zM595 581h2v2h-2zM597 569h2v2h-2zM597 573h2v2h-2zM597 581h2v2h-2zM597 589h2v2h-2zM599 583h2v2h-2zM601 569h2v2h-2zM603 575h2v2h-2z" fill="#2b9a85"/>
<path d="M569 577h2v2h-2zM571 571h2v2h-2zM571 587h2v2h-2zM573 585h2v2h-2zM575 571h2v2h-2zM577 589h2v2h-2zM579 569h2v2h-2zM579 583h2v2h-2zM581 573h2v2h-2zM581 579h2v2h-2zM581 591h2v2h-2zM583 561h2v2h-2zM583 567h2v2h-2zM583 585h2v2h-2zM583 587h2v2h-2zM585 559h2v2h-2zM585 561h2v2h-2zM585 569h2v2h-2zM585 573h2v2h-2zM585 577h2v2h-2zM587 573h2v2h-2zM587 593h2v2h-2zM589 585h2v2h-2zM589 591h2v2h-2zM589 593h2v2h-2zM591 563h2v2h-2zM591 567h2v2h-2zM593 583h2v2h-2zM593 589h2v2h-2zM595 565h2v2h-2zM595 575h2v2h-2zM597 579h2v2h-2zM599 573h2v2h-2zM599 575h2v2h-2zM599 581h2v2h-2z" fill="#49b670"/>
<path d="M569 579h2v2h-2zM569 581h2v2h-2zM571 575h2v2h-2zM571 581h2v2h-2zM571 583h2v2h-2zM571 585h2v2h-2zM573 567h2v2h-2zM573 573h2v2h-2zM573 577h2v2h-2zM573 579h2v2h-2zM573 581h2v2h-2zM575 567h2v2h-2zM575 569h2v2h-2zM575 583h2v2h-2zM577 577h2v2h-2zM577 585h2v2h-2zM579 575h2v2h-2zM579 579h2v2h-2zM579 581h2v2h-2zM579 585h2v2h-2zM579 595h2v2h-2zM581 561h2v2h-2zM581 581h2v2h-2zM581 583h2v2h-2zM581 585h2v2h-2zM583 565h2v2h-2zM583 569h2v2h-2zM583 591h2v2h-2zM583 593h2v2h-2zM585 571h2v2h-2zM585 575h2v2h-2zM585 579h2v2h-2zM585 587h2v2h-2zM585 589h2v2h-2zM585 591h2v2h-2zM585 595h2v2h-2zM587 561h2v2h-2zM587 581h2v2h-2zM587 591h2v2h-2zM587 595h2v2h-2zM589 561h2v2h-2zM589 563h2v2h-2zM589 565h2v2h-2zM589 569h2v2h-2zM589 579h2v2h-2zM589 581h2v2h-2zM589 583h2v2h-2zM591 561h2v2h-2zM591 565h2v2h-2zM591 575h2v2h-2zM591 577h2v2h-2zM591 583h2v2h-2zM591 585h2v2h-2zM593 563h2v2h-2zM593 565h2v2h-2zM593 567h2v2h-2zM593 575h2v2h-2zM593 579h2v2h-2zM593 587h2v2h-2zM595 563h2v2h-2zM595 585h2v2h-2zM595 587h2v2h-2zM597 565h2v2h-2zM597 575h2v2h-2zM597 577h2v2h-2zM597 585h2v2h-2zM599 577h2v2h-2zM599 579h2v2h-2zM601 573h2v2h-2zM601 575h2v2h-2zM601 579h2v2h-2zM601 587h2v2h-2zM603 579h2v2h-2z" fill="#35a37e"/>
<path d="M569 583h2v2h-2zM571 577h2v2h-2zM571 579h2v2h-2zM573 565h2v2h-2zM573 571h2v2h-2zM573 583h2v2h-2zM573 587h2v2h-2zM573 589h2v2h-2zM575 573h2v2h-2zM575 579h2v2h-2zM575 581h2v2h-2zM575 587h2v2h-2zM577 563h2v2h-2zM577 565h2v2h-2zM577 569h2v2h-2zM577 573h2v2h-2zM577 575h2v2h-2zM577 579h2v2h-2zM577 593h2v2h-2zM579 565h2v2h-2zM579 567h2v2h-2zM579 571h2v2h-2zM579 577h2v2h-2zM579 587h2v2h-2zM579 589h2v2h-2zM579 591h2v2h-2zM579 593h2v2h-2zM581 565h2v2h-2zM581 571h2v2h-2zM581 575h2v2h-2zM581 587h2v2h-2zM581 589h2v2h-2zM581 593h2v2h-2zM581 595h2v2h-2zM583 563h2v2h-2zM583 573h2v2h-2zM585 563h2v2h-2zM587 563h2v2h-2zM587 567h2v2h-2zM587 575h2v2h-2zM587 577h2v2h-2zM587 579h2v2h-2zM589 571h2v2h-2zM589 573h2v2h-2zM589 577h2v2h-2zM589 595h2v2h-2zM591 569h2v2h-2zM591 573h2v2h-2zM591 581h2v2h-2zM591 587h2v2h-2zM593 569h2v2h-2zM593 571h2v2h-2zM593 573h2v2h-2zM593 591h2v2h-2zM595 567h2v2h-2zM595 569h2v2h-2zM595 573h2v2h-2zM595 583h2v2h-2zM595 591h2v2h-2zM597 567h2v2h-2zM597 571h2v2h-2zM597 583h2v2h-2zM597 587h2v2h-2zM601 577h2v2h-2z" fill="#3fad77"/>
<path d="M571 569h2v2h-2zM575 561h2v2h-2z" fill="#32678b"/>
<path d="M575 589h2v2h-2zM577 587h2v2h-2zM579 563h2v2h-2zM583 581h2v2h-2zM595 577h2v2h-2z" fill="#53bf69"/>
<path d="M587 587h2v2h-2zM593 581h2v2h-2zM595 589h2v2h-2zM601 567h2v2h-2z" fill="#2e718b"/>
<path d="M593 585h2v2h-2zM599 571h2v2h-2z" fill="#365c8b"/>
<path d="M601 581h2v2h-2z" fill="#3b528b"/>
</g>
<clipPath id="ic2"><rect x="621.4" y="550.6" width="59.6" height="61.2"/></clipPath>
<rect x="621.4" y="550.6" width="59.6" height="61.2" fill="#440154" stroke="none" stroke-width="1"/>
<g clip-path="url(#ic2)">
<path d="M635 575h2v2h-2zM643 565h2v2h-2z" fill="#2b9a85"/>
<path d="M635 577h2v2h-2zM637 577h2v2h-2zM637 583h2v2h-2zM637 585h2v2h-2zM639 575h2v2h-2zM639 579h2v2h-2zM639 583h2v2h-2zM641 569h2v2h-2zM641 579h2v2h-2zM643 571h2v2h-2zM643 597h2v2h-2zM645 565h2v2h-2zM645 591h2v2h-2zM645 595h2v2h-2zM647 563h2v2h-2zM647 577h2v2h-2zM649 567h2v2h-2zM649 581h2v2h-2zM649 585h2v2h-2zM651 567h2v2h-2zM651 573h2v2h-2zM651 585h2v2h-2zM651 597h2v2h-2zM653 593h2v2h-2zM655 575h2v2h-2zM655 591h2v2h-2zM657 565h2v2h-2zM657 571h2v2h-2zM657 593h2v2h-2zM657 595h2v2h-2zM659 585h2v2h-2zM659 587h2v2h-2zM659 591h2v2h-2zM661 569h2v2h-2z" fill="#53bf69"/>
<path d="M635 579h2v2h-2zM635 587h2v2h-2zM637 571h2v2h-2zM637 581h2v2h-2zM637 589h2v2h-2zM639 569h2v2h-2zM645 563h2v2h-2zM645 587h2v2h-2zM647 579h2v2h-2zM649 599h2v2h-2zM653 577h2v2h-2zM655 565h2v2h-2zM659 577h2v2h-2zM659 595h2v2h-2zM661 591h2v2h-2zM663 571h2v2h-2zM663 573h2v2h-2zM663 577h2v2h-2zM663 587h2v2h-2zM663 589h2v2h-2zM665 583h2v2h-2z" fill="#3fad77"/>
<path d="M635 581h2v2h-2zM635 583h2v2h-2zM635 585h2v2h-2zM639 567h2v2h-2zM639 589h2v2h-2zM641 589h2v2h-2zM641 593h2v2h-2zM643 589h2v2h-2zM645 569h2v2h-2zM645 597h2v2h-2zM647 585h2v2h-2zM647 589h2v2h-2zM647 591h2v2h-2zM649 563h2v2h-2zM651 563h2v2h-2zM651 569h2v2h-2zM653 565h2v2h-2zM653 591h2v2h-2zM653 597h2v2h-2zM655 563h2v2h-2zM655 597h2v2h-2zM657 567h2v2h-2zM659 575h2v2h-2zM659 593h2v2h-2zM661 567h2v2h-2zM661 575h2v2h-2zM661 587h2v2h-2zM663 575h2v2h-2zM663 583h2v2h-2zM665 575h2v2h-2zM665 577h2v2h-2z" fill="#49b670"/>
<path d="M637 573h2v2h-2zM637 575h2v2h-2zM639 571h2v2h-2zM639 577h2v2h-2zM639 587h2v2h-2zM641 577h2v2h-2zM641 591h2v2h-2zM643 577h2v2h-2zM643 581h2v2h-2zM643 591h2v2h-2zM645 571h2v2h-2zM645 575h2v2h-2zM647 573h2v2h-2zM647 575h2v2h-2zM647 595h2v2h-2zM649 565h2v2h-2zM649 571h2v2h-2zM649 575h2v2h-2zM649 577h2v2h-2zM649 583h2v2h-2zM649 593h2v2h-2zM651 577h2v2h-2zM651 581h2v2h-2zM651 587h2v2h-2zM651 593h2v2h-2zM653 563h2v2h-2zM653 569h2v2h-2zM653 575h2v2h-2zM655 567h2v2h-2zM655 573h2v2h-2zM655 595h2v2h-2zM657 573h2v2h-2zM657 591h2v2h-2zM659 571h2v2h-2zM661 583h2v2h-2zM661 589h2v2h-2zM665 579h2v2h-2z" fill="#5ec962"/>
<path d="M637 579h2v2h-2zM639 573h2v2h-2zM639 591h2v2h-2zM641 571h2v2h-2zM643 575h2v2h-2zM643 579h2v2h-2zM645 567h2v2h-2zM645 573h2v2h-2zM645 593h2v2h-2zM647 565h2v2h-2zM647 571h2v2h-2zM647 587h2v2h-2zM647 593h2v2h-2zM649 569h2v2h-2zM649 579h2v2h-2zM649 587h2v2h-2zM649 589h2v2h-2zM649 591h2v2h-2zM649 595h2v2h-2zM651 571h2v2h-2zM651 583h2v2h-2zM651 591h2v2h-2zM653 567h2v2h-2zM653 571h2v2h-2zM653 573h2v2h-2zM653 579h2v2h-2zM653 581h2v2h-2zM653 587h2v2h-2zM653 589h2v2h-2zM653 595h2v2h-2zM655 577h2v2h-2zM655 583h2v2h-2zM655 585h2v2h-2zM655 589h2v2h-2zM657 575h2v2h-2zM657 579h2v2h-2zM659 569h2v2h-2zM659 573h2v2h-2zM659 583h2v2h-2zM659 589h2v2h-2zM661 573h2v2h-2zM661 581h2v2h-2zM661 585h2v2h-2zM663 569h2v2h-2zM663 581h2v2h-2z" fill="#78ce57"/>
<path d="M637 587h2v2h-2zM639 581h2v2h-2zM641 573h2v2h-2zM641 587h2v2h-2zM643 569h2v2h-2zM643 573h2v2h-2zM643 583h2v2h-2zM643 585h2v2h-2zM645 579h2v2h-2zM647 569h2v2h-2zM651 565h2v2h-2zM651 575h2v2h-2zM651 579h2v2h-2zM653 585h2v2h-2zM655 569h2v2h-2zM655 571h2v2h-2zM655 587h2v2h-2zM657 581h2v2h-2zM657 583h2v2h-2zM659 581h2v2h-2zM661 577h2v2h-2zM663 579h2v2h-2z" fill="#93d34d"/>
<path d="M637 591h2v2h-2zM639 593h2v2h-2zM641 565h2v2h-2zM641 567h2v2h-2zM641 575h2v2h-2zM641 595h2v2h-2zM645 589h2v2h-2zM649 597h2v2h-2zM653 583h2v2h-2zM655 581h2v2h-2zM657 563h2v2h-2zM659 567h2v2h-2zM661 571h2v2h-2zM665 581h2v2h-2zM665 585h2v2h-2z" fill="#35a37e"/>
<path d="M639 585h2v2h-2zM641 581h2v2h-2zM641 585h2v2h-2zM643 567h2v2h-2zM643 587h2v2h-2zM643 593h2v2h-2zM645 585h2v2h-2zM647 567h2v2h-2zM647 581h2v2h-2zM649 573h2v2h-2zM651 589h2v2h-2zM655 579h2v2h-2zM657 569h2v2h-2zM657 585h2v2h-2zM657 587h2v2h-2zM659 579h2v2h-2zM661 579h2v2h-2zM663 585h2v2h-2z" fill="#add843"/>
<path d="M641 583h2v2h-2zM645 577h2v2h-2zM645 581h2v2h-2zM645 583h2v2h-2zM651 595h2v2h-2zM657 577h2v2h-2zM657 589h2v2h-2z" fill="#c7dd39"/>
<path d="M643 595h2v2h-2zM647 583h2v2h-2zM655 593h2v2h-2z" fill="#21918c"/>
<path d="M647 597h2v2h-2z" fill="#25868b"/>
<path d="M659 565h2v2h-2z" fill="#297c8b"/>
</g>
<rect x="660.5" y="605.4" width="18.4" height="2.5" fill="#fff" stroke="none" stroke-width="1"/>
<defs><linearGradient id="vir" x1="0" x2="1" y1="0" y2="0"><stop offset="0" stop-color="#440154"/><stop offset="0.25" stop-color="#3b528b"/><stop offset="0.5" stop-color="#21918c"/><stop offset="0.75" stop-color="#5ec962"/><stop offset="1" stop-color="#fde725"/></linearGradient></defs>
<rect x="632.4" y="615.3" width="48.6" height="5.5" fill="url(#vir)" stroke="none" stroke-width="1"/>
<text x="634.2" y="630.11" font-size="8.2" font-weight="normal" text-anchor="middle" fill="#111">Min</text>
<text x="677.5" y="630.11" font-size="8.2" font-weight="normal" text-anchor="middle" fill="#111">Max</text>
</svg>
</body></html>
